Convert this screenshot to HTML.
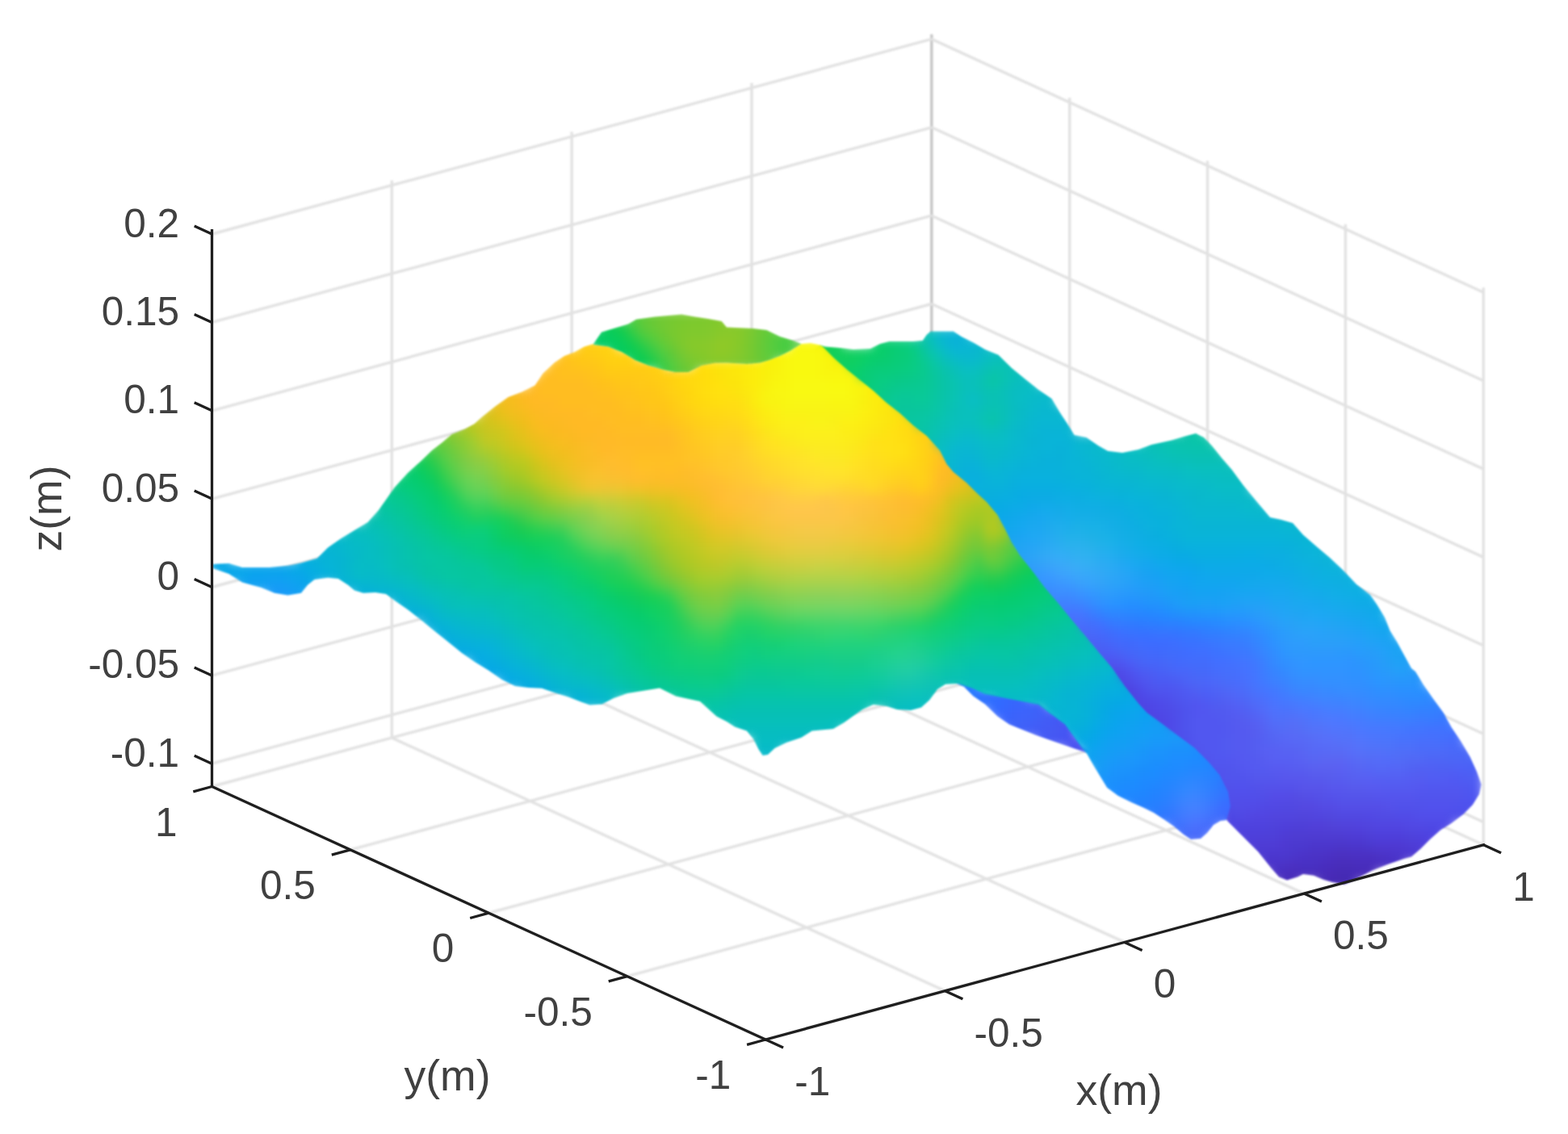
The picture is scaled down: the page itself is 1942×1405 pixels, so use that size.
<!DOCTYPE html>
<html><head><meta charset="utf-8"><title>Surface plot</title>
<style>
html,body{margin:0;padding:0;background:#fff}
body{width:1942px;height:1405px;overflow:hidden}
svg{display:block}
</style></head>
<body>
<svg width="1942" height="1405" viewBox="0 0 1942 1405">
<defs>
<clipPath id="c_back"><path d="M1015.6 427.5L1022.0 429.5L1040.0 431.0L1057.0 433.0L1078.0 432.0L1090.0 426.0L1101.5 423.0L1131.0 423.0L1142.7 422.0L1147.7 414.7L1152.6 410.5L1180.7 410.5L1190.6 417.0L1205.5 424.6L1220.0 433.0L1236.5 439.8L1253.0 456.0L1269.5 469.5L1286.0 482.7L1302.6 494.0L1312.5 510.8L1322.4 525.7L1330.6 539.0L1345.5 542.0L1360.0 552.0L1372.0 558.7L1390.0 561.0L1410.0 557.0L1426.0 551.0L1451.0 545.5L1467.7 540.5L1481.0 537.0L1491.0 542.0L1500.7 552.0L1514.0 568.6L1525.5 581.8L1540.0 601.6L1556.5 621.5L1573.0 641.0L1586.0 643.8L1601.0 648.0L1614.0 662.7L1631.0 677.6L1647.0 691.0L1664.0 707.0L1680.0 724.0L1697.0 737.0L1705.0 748.6L1715.0 765.0L1721.6 781.6L1730.0 795.0L1738.0 809.7L1748.0 828.0L1753.0 832.0L1763.0 848.5L1774.5 865.0L1787.7 883.0L1797.6 901.0L1809.0 918.0L1820.7 937.7L1829.0 956.0L1834.7 972.0L1832.0 984.0L1824.0 997.0L1812.5 1008.7L1797.6 1020.0L1784.0 1028.5L1771.0 1040.0L1759.6 1051.6L1748.0 1061.5L1738.7 1064.0L1718.6 1071.0L1698.5 1079.0L1678.0 1090.0L1665.0 1095.7L1650.0 1093.0L1639.0 1089.7L1627.0 1084.8L1614.0 1083.0L1607.0 1086.4L1594.0 1090.5L1584.0 1086.4L1574.0 1075.0L1566.0 1065.0L1558.0 1055.0L1548.0 1045.0L1538.0 1035.0L1528.0 1025.0L1520.0 1017.0L1490.0 960.0L1400.0 880.0L1300.0 760.0L1230.0 660.0L1150.0 570.0L1050.0 480.0L1000.0 440.0Z"/></clipPath>
<clipPath id="c_under"><path d="M1180.0 845.0L1189.0 845.0L1205.0 851.0L1220.0 858.0L1253.0 864.6L1286.0 871.0L1299.0 881.0L1319.0 895.6L1340.0 925.0L1350.0 931.0L1345.4 932.5L1317.0 922.7L1283.5 911.0L1250.0 897.6L1235.5 887.5L1220.0 872.5L1205.5 862.6L1194.0 851.0Z"/></clipPath>
<clipPath id="c_hill"><path d="M263.0 699.0L283.5 698.0L300.0 703.0L333.7 703.0L356.5 700.8L373.0 697.5L392.8 691.7L406.0 678.5L422.6 667.0L439.0 657.0L455.6 647.0L468.8 632.3L480.4 615.8L488.6 604.0L505.0 586.0L521.6 571.0L535.0 558.0L548.0 548.0L559.6 538.0L576.0 531.6L587.7 525.0L596.5 517.0L613.0 503.8L629.5 492.0L646.0 485.7L662.5 477.4L672.5 462.6L687.0 449.0L699.0 441.0L712.0 436.0L723.7 429.5L735.0 426.0L735.0 427.0L753.4 429.5L770.0 436.0L786.4 446.0L803.0 452.7L819.4 457.6L836.0 461.0L852.5 461.0L869.0 452.7L885.5 449.4L900.0 449.4L925.0 451.0L941.0 449.4L953.0 446.0L966.0 441.0L979.0 434.5L992.5 426.0L1004.0 425.0L1015.6 427.5L1019.0 429.5L1032.0 442.7L1048.6 457.6L1065.0 470.8L1081.6 484.0L1098.0 499.0L1114.7 512.0L1131.0 527.0L1147.7 540.0L1164.0 558.0L1172.5 575.0L1180.7 584.8L1197.0 598.0L1210.0 611.0L1222.0 622.0L1235.5 638.0L1243.0 652.0L1253.0 671.8L1263.0 688.0L1277.8 706.5L1294.0 728.0L1311.0 747.8L1327.0 767.6L1344.0 787.4L1360.0 807.0L1377.0 827.0L1393.0 850.0L1410.0 871.6L1420.5 883.0L1438.5 896.0L1459.0 911.4L1479.7 926.8L1497.8 944.9L1510.6 960.3L1521.0 981.0L1524.0 999.0L1519.0 1016.0L1516.0 1016.5L1511.6 1017.0L1503.0 1022.0L1495.0 1032.0L1487.0 1039.0L1475.0 1040.0L1465.4 1033.6L1453.8 1023.7L1442.0 1015.4L1429.0 1007.0L1415.9 1000.5L1401.0 994.0L1384.5 985.7L1371.0 975.8L1363.0 962.6L1354.8 949.0L1346.5 934.5L1340.0 927.0L1319.0 897.6L1299.0 883.0L1286.0 873.0L1253.0 866.6L1220.0 860.0L1205.0 853.0L1189.0 847.7L1187.0 847.0L1171.0 847.7L1161.0 854.0L1151.0 867.5L1141.0 876.6L1128.0 880.0L1111.0 879.0L1098.0 875.0L1081.6 873.0L1068.4 879.0L1058.5 885.7L1045.0 895.6L1032.0 903.0L1005.7 905.5L992.5 913.7L974.0 920.0L959.5 927.0L951.0 935.0L944.6 936.0L939.6 928.6L933.0 915.4L924.8 905.5L910.0 900.5L900.0 894.0L887.4 887.5L867.0 869.0L837.0 862.4L817.0 852.4L777.0 859.0L760.0 865.0L745.5 872.6L730.6 873.4L720.7 870.0L704.0 863.5L687.7 858.5L671.0 852.7L654.7 852.0L638.0 850.0L621.6 842.0L605.0 830.5L588.6 820.5L572.0 809.0L555.6 795.8L539.0 782.6L522.6 769.0L506.0 756.0L489.5 744.6L478.0 736.0L464.8 734.0L450.0 734.7L439.0 731.4L431.0 724.8L419.0 717.0L406.0 715.7L389.5 718.0L381.0 724.8L373.0 734.7L356.5 737.5L340.0 734.7L323.6 728.0L300.0 721.4L283.5 711.0L263.0 704.0Z"/></clipPath>
<clipPath id="c_crater"><path d="M735.0 426.0L745.0 411.4L761.6 406.4L778.0 401.5L788.0 395.7L811.0 392.4L844.0 389.5L860.7 392.4L877.0 395.0L893.7 398.0L900.0 405.6L933.0 407.0L949.5 409.0L966.0 417.0L982.6 422.0L992.5 426.0L1004.0 425.0L992.5 426.0L979.0 434.5L966.0 441.0L953.0 446.0L941.0 449.4L925.0 451.0L900.0 449.4L885.5 449.4L869.0 452.7L852.5 461.0L836.0 461.0L819.4 457.6L803.0 452.7L786.4 446.0L770.0 436.0L753.4 429.5L735.0 427.0Z"/></clipPath>
<filter id="bl" x="-5%" y="-5%" width="110%" height="110%" color-interpolation-filters="sRGB"><feGaussianBlur stdDeviation="6"/></filter>
<filter id="bs" x="0" y="0" width="1942" height="1405" filterUnits="userSpaceOnUse" color-interpolation-filters="sRGB"><feGaussianBlur stdDeviation="0.8"/></filter>
<filter id="ba" filterUnits="userSpaceOnUse" x="0" y="0" width="1942" height="1405" color-interpolation-filters="sRGB"><feGaussianBlur stdDeviation="0.45"/></filter>
<filter id="bt" filterUnits="userSpaceOnUse" x="0" y="0" width="1942" height="1405" color-interpolation-filters="sRGB"><feGaussianBlur stdDeviation="0.7"/></filter>
<filter id="be" x="-5%" y="-5%" width="110%" height="110%" color-interpolation-filters="sRGB"><feGaussianBlur stdDeviation="1.0"/></filter>
</defs>
<rect width="1942" height="1405" fill="#ffffff"/>
<g id="grid" filter="url(#bs)">
<line x1="262.5" y1="974.5" x2="1153.8" y2="732.9" stroke="#e2e2e2" stroke-width="3.4"/>
<line x1="948.3" y1="1288.0" x2="262.5" y2="974.5" stroke="#e2e2e2" stroke-width="3.4"/>
<line x1="433.9" y1="1052.9" x2="1324.7" y2="811.4" stroke="#e2e2e2" stroke-width="3.4"/>
<line x1="1170.5" y1="1227.7" x2="485.3" y2="914.1" stroke="#e2e2e2" stroke-width="3.4"/>
<line x1="605.4" y1="1131.2" x2="1495.5" y2="889.8" stroke="#e2e2e2" stroke-width="3.4"/>
<line x1="1392.8" y1="1167.4" x2="708.1" y2="853.7" stroke="#e2e2e2" stroke-width="3.4"/>
<line x1="776.8" y1="1209.6" x2="1666.4" y2="968.3" stroke="#e2e2e2" stroke-width="3.4"/>
<line x1="1615.0" y1="1107.1" x2="931.0" y2="793.3" stroke="#e2e2e2" stroke-width="3.4"/>
<line x1="948.3" y1="1288.0" x2="1837.3" y2="1046.8" stroke="#e2e2e2" stroke-width="3.4"/>
<line x1="1837.3" y1="1046.8" x2="1153.8" y2="732.9" stroke="#e2e2e2" stroke-width="3.4"/>
<line x1="485.3" y1="914.1" x2="485.3" y2="223.6" stroke="#e2e2e2" stroke-width="3.4"/>
<line x1="708.1" y1="853.7" x2="708.1" y2="163.2" stroke="#e2e2e2" stroke-width="3.4"/>
<line x1="931.0" y1="793.3" x2="931.0" y2="102.8" stroke="#e2e2e2" stroke-width="3.4"/>
<line x1="1153.8" y1="732.9" x2="1153.8" y2="42.4" stroke="#c6c6c6" stroke-width="3.4"/>
<line x1="1324.7" y1="811.4" x2="1324.7" y2="120.9" stroke="#e2e2e2" stroke-width="3.4"/>
<line x1="1495.5" y1="889.8" x2="1495.5" y2="199.3" stroke="#e2e2e2" stroke-width="3.4"/>
<line x1="1666.4" y1="968.3" x2="1666.4" y2="277.8" stroke="#e2e2e2" stroke-width="3.4"/>
<line x1="1837.3" y1="1046.8" x2="1837.3" y2="356.3" stroke="#e2e2e2" stroke-width="3.4"/>
<line x1="262.5" y1="290.0" x2="1153.8" y2="48.4" stroke="#e2e2e2" stroke-width="3.4"/>
<line x1="1153.8" y1="48.4" x2="1837.3" y2="362.3" stroke="#e2e2e2" stroke-width="3.4"/>
<line x1="262.5" y1="399.4" x2="1153.8" y2="157.8" stroke="#e2e2e2" stroke-width="3.4"/>
<line x1="1153.8" y1="157.8" x2="1837.3" y2="471.7" stroke="#e2e2e2" stroke-width="3.4"/>
<line x1="262.5" y1="508.8" x2="1153.8" y2="267.2" stroke="#e2e2e2" stroke-width="3.4"/>
<line x1="1153.8" y1="267.2" x2="1837.3" y2="581.1" stroke="#e2e2e2" stroke-width="3.4"/>
<line x1="262.5" y1="618.1" x2="1153.8" y2="376.5" stroke="#e2e2e2" stroke-width="3.4"/>
<line x1="1153.8" y1="376.5" x2="1837.3" y2="690.4" stroke="#e2e2e2" stroke-width="3.4"/>
<line x1="262.5" y1="727.5" x2="1153.8" y2="485.9" stroke="#e2e2e2" stroke-width="3.4"/>
<line x1="1153.8" y1="485.9" x2="1837.3" y2="799.8" stroke="#e2e2e2" stroke-width="3.4"/>
<line x1="262.5" y1="836.9" x2="1153.8" y2="595.3" stroke="#e2e2e2" stroke-width="3.4"/>
<line x1="1153.8" y1="595.3" x2="1837.3" y2="909.2" stroke="#e2e2e2" stroke-width="3.4"/>
<line x1="262.5" y1="946.2" x2="1153.8" y2="704.6" stroke="#e2e2e2" stroke-width="3.4"/>
<line x1="1153.8" y1="704.6" x2="1837.3" y2="1018.5" stroke="#e2e2e2" stroke-width="3.4"/>
</g>
<g id="surface">
<g filter="url(#be)">
<g clip-path="url(#c_back)"><g filter="url(#bl)">
<rect x="1140" y="406" width="13" height="13" fill="#09c3b1"/>
<rect x="1152" y="406" width="13" height="13" fill="#09bdc6"/>
<rect x="1164" y="406" width="13" height="13" fill="#09b7d2"/>
<rect x="1176" y="406" width="25" height="13" fill="#09b4d5"/>
<rect x="1008" y="418" width="25" height="13" fill="#15cf57"/>
<rect x="1032" y="418" width="13" height="13" fill="#15cf5a"/>
<rect x="1080" y="418" width="13" height="13" fill="#09cf6c"/>
<rect x="1092" y="418" width="13" height="13" fill="#09cc6f"/>
<rect x="1104" y="418" width="13" height="13" fill="#09cc78"/>
<rect x="1116" y="418" width="13" height="13" fill="#09cc81"/>
<rect x="1128" y="418" width="13" height="13" fill="#09c993"/>
<rect x="1140" y="418" width="13" height="13" fill="#09c3ab"/>
<rect x="1152" y="418" width="13" height="13" fill="#09bdc3"/>
<rect x="1164" y="418" width="13" height="13" fill="#09b7d2"/>
<rect x="1176" y="418" width="13" height="13" fill="#09b1d8"/>
<rect x="1188" y="418" width="13" height="13" fill="#09b4d5"/>
<rect x="1200" y="418" width="13" height="13" fill="#09b7d2"/>
<rect x="1212" y="418" width="13" height="13" fill="#09bacc"/>
<rect x="996" y="430" width="13" height="13" fill="#12cf5a"/>
<rect x="1008" y="430" width="25" height="13" fill="#15cf57"/>
<rect x="1032" y="430" width="13" height="13" fill="#12cf5a"/>
<rect x="1044" y="430" width="13" height="13" fill="#12cf5d"/>
<rect x="1056" y="430" width="13" height="13" fill="#0fcf60"/>
<rect x="1068" y="430" width="13" height="13" fill="#0ccf66"/>
<rect x="1080" y="430" width="13" height="13" fill="#09cf69"/>
<rect x="1092" y="430" width="13" height="13" fill="#09cc6c"/>
<rect x="1104" y="430" width="13" height="13" fill="#09cc75"/>
<rect x="1116" y="430" width="13" height="13" fill="#09cc78"/>
<rect x="1128" y="430" width="13" height="13" fill="#09cc84"/>
<rect x="1140" y="430" width="13" height="13" fill="#09c69f"/>
<rect x="1152" y="430" width="13" height="13" fill="#09c3b4"/>
<rect x="1164" y="430" width="13" height="13" fill="#09bdc6"/>
<rect x="1176" y="430" width="25" height="13" fill="#09b7d2"/>
<rect x="1200" y="430" width="13" height="13" fill="#09b7cf"/>
<rect x="1212" y="430" width="13" height="13" fill="#09bac9"/>
<rect x="1224" y="430" width="13" height="13" fill="#09bdc3"/>
<rect x="1236" y="430" width="13" height="13" fill="#09c0bd"/>
<rect x="996" y="442" width="37" height="13" fill="#12cf5d"/>
<rect x="1032" y="442" width="13" height="13" fill="#12cf60"/>
<rect x="1044" y="442" width="13" height="13" fill="#0fcf60"/>
<rect x="1056" y="442" width="13" height="13" fill="#0fcf63"/>
<rect x="1068" y="442" width="13" height="13" fill="#09cf6c"/>
<rect x="1080" y="442" width="13" height="13" fill="#09cc6f"/>
<rect x="1092" y="442" width="13" height="13" fill="#09cc72"/>
<rect x="1104" y="442" width="13" height="13" fill="#09cc78"/>
<rect x="1116" y="442" width="13" height="13" fill="#09cc7b"/>
<rect x="1128" y="442" width="13" height="13" fill="#09cc84"/>
<rect x="1140" y="442" width="13" height="13" fill="#09c993"/>
<rect x="1152" y="442" width="13" height="13" fill="#09c6a8"/>
<rect x="1164" y="442" width="13" height="13" fill="#09c0b7"/>
<rect x="1176" y="442" width="13" height="13" fill="#09bdc3"/>
<rect x="1188" y="442" width="13" height="13" fill="#09bac9"/>
<rect x="1200" y="442" width="13" height="13" fill="#09bacc"/>
<rect x="1212" y="442" width="13" height="13" fill="#09bdc3"/>
<rect x="1224" y="442" width="13" height="13" fill="#09c0ba"/>
<rect x="1236" y="442" width="13" height="13" fill="#09c0b7"/>
<rect x="1248" y="442" width="13" height="13" fill="#09c0ba"/>
<rect x="1008" y="454" width="37" height="13" fill="#0fcf63"/>
<rect x="1044" y="454" width="13" height="13" fill="#0ccf66"/>
<rect x="1056" y="454" width="13" height="13" fill="#09cf6c"/>
<rect x="1068" y="454" width="13" height="13" fill="#09cc75"/>
<rect x="1080" y="454" width="25" height="13" fill="#09cc7b"/>
<rect x="1104" y="454" width="13" height="13" fill="#09cc7e"/>
<rect x="1116" y="454" width="13" height="13" fill="#09cc81"/>
<rect x="1128" y="454" width="13" height="13" fill="#09cc87"/>
<rect x="1140" y="454" width="13" height="13" fill="#09c990"/>
<rect x="1152" y="454" width="13" height="13" fill="#09c69f"/>
<rect x="1164" y="454" width="13" height="13" fill="#09c3ab"/>
<rect x="1176" y="454" width="13" height="13" fill="#09c0b7"/>
<rect x="1188" y="454" width="25" height="13" fill="#09c0c0"/>
<rect x="1212" y="454" width="13" height="13" fill="#09c0b7"/>
<rect x="1224" y="454" width="13" height="13" fill="#09c3ae"/>
<rect x="1236" y="454" width="13" height="13" fill="#09c3b1"/>
<rect x="1248" y="454" width="13" height="13" fill="#09c0b7"/>
<rect x="1260" y="454" width="13" height="13" fill="#09c0bd"/>
<rect x="1032" y="466" width="13" height="13" fill="#09cf69"/>
<rect x="1044" y="466" width="13" height="13" fill="#09cf6c"/>
<rect x="1056" y="466" width="13" height="13" fill="#09cc72"/>
<rect x="1068" y="466" width="13" height="13" fill="#09cc78"/>
<rect x="1080" y="466" width="13" height="13" fill="#09cc81"/>
<rect x="1092" y="466" width="13" height="13" fill="#09cc84"/>
<rect x="1104" y="466" width="13" height="13" fill="#09c987"/>
<rect x="1116" y="466" width="13" height="13" fill="#09c98a"/>
<rect x="1128" y="466" width="13" height="13" fill="#09c98d"/>
<rect x="1140" y="466" width="13" height="13" fill="#09c993"/>
<rect x="1152" y="466" width="13" height="13" fill="#09c69c"/>
<rect x="1164" y="466" width="13" height="13" fill="#09c3a8"/>
<rect x="1176" y="466" width="13" height="13" fill="#09c3b1"/>
<rect x="1188" y="466" width="25" height="13" fill="#09c0ba"/>
<rect x="1212" y="466" width="13" height="13" fill="#09c3b1"/>
<rect x="1224" y="466" width="13" height="13" fill="#09c6a5"/>
<rect x="1236" y="466" width="13" height="13" fill="#09c3b1"/>
<rect x="1248" y="466" width="13" height="13" fill="#09c0ba"/>
<rect x="1260" y="466" width="13" height="13" fill="#09bdc0"/>
<rect x="1272" y="466" width="13" height="13" fill="#09bdc3"/>
<rect x="1044" y="478" width="13" height="13" fill="#09cc72"/>
<rect x="1056" y="478" width="13" height="13" fill="#09cc75"/>
<rect x="1068" y="478" width="13" height="13" fill="#09cc7b"/>
<rect x="1080" y="478" width="13" height="13" fill="#09cc84"/>
<rect x="1092" y="478" width="13" height="13" fill="#09c98a"/>
<rect x="1104" y="478" width="13" height="13" fill="#09c990"/>
<rect x="1116" y="478" width="25" height="13" fill="#09c993"/>
<rect x="1140" y="478" width="13" height="13" fill="#09c996"/>
<rect x="1152" y="478" width="13" height="13" fill="#09c69f"/>
<rect x="1164" y="478" width="13" height="13" fill="#09c3a8"/>
<rect x="1176" y="478" width="13" height="13" fill="#09c3b1"/>
<rect x="1188" y="478" width="13" height="13" fill="#09c0ba"/>
<rect x="1200" y="478" width="13" height="13" fill="#09c0bd"/>
<rect x="1212" y="478" width="13" height="13" fill="#09c0b4"/>
<rect x="1224" y="478" width="13" height="13" fill="#09c3b1"/>
<rect x="1236" y="478" width="13" height="13" fill="#09c0b7"/>
<rect x="1248" y="478" width="13" height="13" fill="#09bdc0"/>
<rect x="1260" y="478" width="13" height="13" fill="#09bdc3"/>
<rect x="1272" y="478" width="13" height="13" fill="#09bdc6"/>
<rect x="1284" y="478" width="25" height="13" fill="#09bac9"/>
<rect x="1056" y="490" width="13" height="13" fill="#09cc7b"/>
<rect x="1068" y="490" width="13" height="13" fill="#09cc81"/>
<rect x="1080" y="490" width="13" height="13" fill="#09c98a"/>
<rect x="1092" y="490" width="13" height="13" fill="#09c990"/>
<rect x="1104" y="490" width="13" height="13" fill="#09c999"/>
<rect x="1116" y="490" width="13" height="13" fill="#09c699"/>
<rect x="1128" y="490" width="25" height="13" fill="#09c999"/>
<rect x="1152" y="490" width="13" height="13" fill="#09c6a2"/>
<rect x="1164" y="490" width="13" height="13" fill="#09c3ab"/>
<rect x="1176" y="490" width="13" height="13" fill="#09c3b4"/>
<rect x="1188" y="490" width="13" height="13" fill="#09c0bd"/>
<rect x="1200" y="490" width="13" height="13" fill="#09bdc6"/>
<rect x="1212" y="490" width="13" height="13" fill="#09c0ba"/>
<rect x="1224" y="490" width="13" height="13" fill="#09c0b4"/>
<rect x="1236" y="490" width="13" height="13" fill="#09c0b7"/>
<rect x="1248" y="490" width="13" height="13" fill="#09bdc0"/>
<rect x="1260" y="490" width="13" height="13" fill="#09bdc6"/>
<rect x="1272" y="490" width="13" height="13" fill="#09bac9"/>
<rect x="1284" y="490" width="25" height="13" fill="#09bacc"/>
<rect x="1068" y="502" width="13" height="13" fill="#09c987"/>
<rect x="1080" y="502" width="13" height="13" fill="#09c98d"/>
<rect x="1092" y="502" width="13" height="13" fill="#09c993"/>
<rect x="1104" y="502" width="13" height="13" fill="#09c699"/>
<rect x="1116" y="502" width="25" height="13" fill="#09c69c"/>
<rect x="1140" y="502" width="13" height="13" fill="#09c69f"/>
<rect x="1152" y="502" width="13" height="13" fill="#09c6a5"/>
<rect x="1164" y="502" width="13" height="13" fill="#09c3ae"/>
<rect x="1176" y="502" width="13" height="13" fill="#09c0b7"/>
<rect x="1188" y="502" width="25" height="13" fill="#09c0bd"/>
<rect x="1212" y="502" width="13" height="13" fill="#09c0b7"/>
<rect x="1224" y="502" width="13" height="13" fill="#09c3b1"/>
<rect x="1236" y="502" width="13" height="13" fill="#09c0b7"/>
<rect x="1248" y="502" width="13" height="13" fill="#09bdc0"/>
<rect x="1260" y="502" width="13" height="13" fill="#09bac6"/>
<rect x="1272" y="502" width="13" height="13" fill="#09bacc"/>
<rect x="1284" y="502" width="37" height="13" fill="#09b7cf"/>
<rect x="1080" y="514" width="13" height="13" fill="#09c993"/>
<rect x="1092" y="514" width="13" height="13" fill="#09c996"/>
<rect x="1104" y="514" width="13" height="13" fill="#09c69c"/>
<rect x="1116" y="514" width="13" height="13" fill="#09c69f"/>
<rect x="1128" y="514" width="13" height="13" fill="#09c6a2"/>
<rect x="1140" y="514" width="13" height="13" fill="#09c6a5"/>
<rect x="1152" y="514" width="13" height="13" fill="#09c3ab"/>
<rect x="1164" y="514" width="13" height="13" fill="#09c3b4"/>
<rect x="1176" y="514" width="13" height="13" fill="#09c0ba"/>
<rect x="1188" y="514" width="25" height="13" fill="#09c0bd"/>
<rect x="1212" y="514" width="13" height="13" fill="#09c3b4"/>
<rect x="1224" y="514" width="13" height="13" fill="#09c3ab"/>
<rect x="1236" y="514" width="13" height="13" fill="#09c0b7"/>
<rect x="1248" y="514" width="13" height="13" fill="#09bdc3"/>
<rect x="1260" y="514" width="13" height="13" fill="#09bac9"/>
<rect x="1272" y="514" width="13" height="13" fill="#09b7cf"/>
<rect x="1284" y="514" width="37" height="13" fill="#09b7d2"/>
<rect x="1320" y="514" width="13" height="13" fill="#09b7cf"/>
<rect x="1092" y="526" width="13" height="13" fill="#09c699"/>
<rect x="1104" y="526" width="25" height="13" fill="#09c69f"/>
<rect x="1128" y="526" width="13" height="13" fill="#09c6a2"/>
<rect x="1140" y="526" width="13" height="13" fill="#09c3a8"/>
<rect x="1152" y="526" width="13" height="13" fill="#09c3b1"/>
<rect x="1164" y="526" width="13" height="13" fill="#09c0b7"/>
<rect x="1176" y="526" width="13" height="13" fill="#09c0c0"/>
<rect x="1188" y="526" width="25" height="13" fill="#09bdc3"/>
<rect x="1212" y="526" width="13" height="13" fill="#09c0bd"/>
<rect x="1224" y="526" width="13" height="13" fill="#09c0ba"/>
<rect x="1236" y="526" width="13" height="13" fill="#09bdc0"/>
<rect x="1248" y="526" width="13" height="13" fill="#09bac9"/>
<rect x="1260" y="526" width="13" height="13" fill="#09b7cc"/>
<rect x="1272" y="526" width="13" height="13" fill="#09b7d2"/>
<rect x="1284" y="526" width="37" height="13" fill="#09b4d5"/>
<rect x="1320" y="526" width="13" height="13" fill="#09b7d2"/>
<rect x="1464" y="526" width="13" height="13" fill="#09c3a8"/>
<rect x="1476" y="526" width="13" height="13" fill="#09c6a8"/>
<rect x="1104" y="538" width="13" height="13" fill="#09c6a2"/>
<rect x="1116" y="538" width="25" height="13" fill="#09c6a5"/>
<rect x="1140" y="538" width="13" height="13" fill="#09c3ab"/>
<rect x="1152" y="538" width="13" height="13" fill="#09c0b7"/>
<rect x="1164" y="538" width="13" height="13" fill="#09bdc0"/>
<rect x="1176" y="538" width="13" height="13" fill="#09bdc6"/>
<rect x="1188" y="538" width="25" height="13" fill="#09bacc"/>
<rect x="1212" y="538" width="13" height="13" fill="#09bdc6"/>
<rect x="1224" y="538" width="13" height="13" fill="#09bdc3"/>
<rect x="1236" y="538" width="13" height="13" fill="#09bdc6"/>
<rect x="1248" y="538" width="13" height="13" fill="#09bacc"/>
<rect x="1260" y="538" width="13" height="13" fill="#09b7cf"/>
<rect x="1272" y="538" width="13" height="13" fill="#09b4d2"/>
<rect x="1284" y="538" width="13" height="13" fill="#09b4d5"/>
<rect x="1296" y="538" width="25" height="13" fill="#09b4d8"/>
<rect x="1320" y="538" width="13" height="13" fill="#09b4d5"/>
<rect x="1332" y="538" width="13" height="13" fill="#09b7cf"/>
<rect x="1344" y="538" width="13" height="13" fill="#09b7cc"/>
<rect x="1356" y="538" width="13" height="13" fill="#09bac9"/>
<rect x="1416" y="538" width="13" height="13" fill="#09c0b7"/>
<rect x="1428" y="538" width="13" height="13" fill="#09c3b4"/>
<rect x="1440" y="538" width="13" height="13" fill="#09c3b1"/>
<rect x="1452" y="538" width="25" height="13" fill="#09c3ab"/>
<rect x="1476" y="538" width="13" height="13" fill="#09c6a8"/>
<rect x="1488" y="538" width="13" height="13" fill="#09c3a8"/>
<rect x="1128" y="550" width="13" height="13" fill="#09c3ab"/>
<rect x="1140" y="550" width="13" height="13" fill="#09c3b1"/>
<rect x="1152" y="550" width="13" height="13" fill="#09c0bd"/>
<rect x="1164" y="550" width="13" height="13" fill="#09bdc6"/>
<rect x="1176" y="550" width="13" height="13" fill="#09b7cf"/>
<rect x="1188" y="550" width="13" height="13" fill="#09b7d2"/>
<rect x="1200" y="550" width="13" height="13" fill="#09b7cf"/>
<rect x="1212" y="550" width="13" height="13" fill="#09bacc"/>
<rect x="1224" y="550" width="25" height="13" fill="#09bac9"/>
<rect x="1248" y="550" width="13" height="13" fill="#09b7cf"/>
<rect x="1260" y="550" width="13" height="13" fill="#09b7d2"/>
<rect x="1272" y="550" width="13" height="13" fill="#09b4d5"/>
<rect x="1284" y="550" width="25" height="13" fill="#09b4d8"/>
<rect x="1308" y="550" width="13" height="13" fill="#09b1d8"/>
<rect x="1320" y="550" width="13" height="13" fill="#09b4d8"/>
<rect x="1332" y="550" width="13" height="13" fill="#09b7d2"/>
<rect x="1344" y="550" width="13" height="13" fill="#09b7cf"/>
<rect x="1356" y="550" width="13" height="13" fill="#09bacc"/>
<rect x="1368" y="550" width="13" height="13" fill="#09bac9"/>
<rect x="1380" y="550" width="13" height="13" fill="#09bdc6"/>
<rect x="1392" y="550" width="13" height="13" fill="#09bdc3"/>
<rect x="1404" y="550" width="13" height="13" fill="#09c0c0"/>
<rect x="1416" y="550" width="13" height="13" fill="#09c0ba"/>
<rect x="1428" y="550" width="13" height="13" fill="#09c0b7"/>
<rect x="1440" y="550" width="13" height="13" fill="#09c3b4"/>
<rect x="1452" y="550" width="13" height="13" fill="#09c3b1"/>
<rect x="1464" y="550" width="49" height="13" fill="#09c3ae"/>
<rect x="1140" y="562" width="13" height="13" fill="#09c0ba"/>
<rect x="1152" y="562" width="13" height="13" fill="#09bdc3"/>
<rect x="1164" y="562" width="13" height="13" fill="#09bacc"/>
<rect x="1176" y="562" width="13" height="13" fill="#09b7d2"/>
<rect x="1188" y="562" width="25" height="13" fill="#09b4d5"/>
<rect x="1212" y="562" width="13" height="13" fill="#09b7cf"/>
<rect x="1224" y="562" width="13" height="13" fill="#09bac9"/>
<rect x="1236" y="562" width="13" height="13" fill="#09b7cf"/>
<rect x="1248" y="562" width="13" height="13" fill="#09b7d2"/>
<rect x="1260" y="562" width="13" height="13" fill="#09b4d5"/>
<rect x="1272" y="562" width="13" height="13" fill="#09b4d8"/>
<rect x="1284" y="562" width="13" height="13" fill="#09b1d8"/>
<rect x="1296" y="562" width="13" height="13" fill="#09b1db"/>
<rect x="1308" y="562" width="13" height="13" fill="#09b1d8"/>
<rect x="1320" y="562" width="13" height="13" fill="#09b4d8"/>
<rect x="1332" y="562" width="13" height="13" fill="#09b4d5"/>
<rect x="1344" y="562" width="13" height="13" fill="#09b7d2"/>
<rect x="1356" y="562" width="13" height="13" fill="#09b7cf"/>
<rect x="1368" y="562" width="13" height="13" fill="#09bacc"/>
<rect x="1380" y="562" width="13" height="13" fill="#09bac9"/>
<rect x="1392" y="562" width="13" height="13" fill="#09bdc6"/>
<rect x="1404" y="562" width="13" height="13" fill="#09bdc3"/>
<rect x="1416" y="562" width="13" height="13" fill="#09bdc0"/>
<rect x="1428" y="562" width="13" height="13" fill="#09c0bd"/>
<rect x="1440" y="562" width="13" height="13" fill="#09c0ba"/>
<rect x="1452" y="562" width="25" height="13" fill="#09c0b7"/>
<rect x="1476" y="562" width="37" height="13" fill="#09c0b4"/>
<rect x="1512" y="562" width="13" height="13" fill="#09c0b7"/>
<rect x="1152" y="574" width="13" height="13" fill="#09bdc6"/>
<rect x="1164" y="574" width="13" height="13" fill="#09b7cc"/>
<rect x="1176" y="574" width="13" height="13" fill="#09b4d5"/>
<rect x="1188" y="574" width="13" height="13" fill="#09b1d8"/>
<rect x="1200" y="574" width="13" height="13" fill="#09b1db"/>
<rect x="1212" y="574" width="13" height="13" fill="#09b4d5"/>
<rect x="1224" y="574" width="13" height="13" fill="#09b7d2"/>
<rect x="1236" y="574" width="13" height="13" fill="#09b4d5"/>
<rect x="1248" y="574" width="13" height="13" fill="#09b4d8"/>
<rect x="1260" y="574" width="13" height="13" fill="#09b1d8"/>
<rect x="1272" y="574" width="49" height="13" fill="#09b1db"/>
<rect x="1320" y="574" width="25" height="13" fill="#09b4d8"/>
<rect x="1344" y="574" width="13" height="13" fill="#09b4d5"/>
<rect x="1356" y="574" width="13" height="13" fill="#09b7d2"/>
<rect x="1368" y="574" width="13" height="13" fill="#09b7cf"/>
<rect x="1380" y="574" width="13" height="13" fill="#09bacc"/>
<rect x="1392" y="574" width="25" height="13" fill="#09bac9"/>
<rect x="1416" y="574" width="13" height="13" fill="#09bdc6"/>
<rect x="1428" y="574" width="25" height="13" fill="#09bdc3"/>
<rect x="1452" y="574" width="13" height="13" fill="#09bdc0"/>
<rect x="1464" y="574" width="13" height="13" fill="#09c0c0"/>
<rect x="1476" y="574" width="61" height="13" fill="#09c0bd"/>
<rect x="1164" y="586" width="13" height="13" fill="#09b7cf"/>
<rect x="1176" y="586" width="13" height="13" fill="#09b4d2"/>
<rect x="1188" y="586" width="13" height="13" fill="#09b1db"/>
<rect x="1200" y="586" width="13" height="13" fill="#09aede"/>
<rect x="1212" y="586" width="13" height="13" fill="#09b1db"/>
<rect x="1224" y="586" width="25" height="13" fill="#09b4d8"/>
<rect x="1248" y="586" width="13" height="13" fill="#09b1db"/>
<rect x="1260" y="586" width="49" height="13" fill="#09b1de"/>
<rect x="1308" y="586" width="25" height="13" fill="#09b1db"/>
<rect x="1332" y="586" width="25" height="13" fill="#09b4d8"/>
<rect x="1356" y="586" width="13" height="13" fill="#09b4d5"/>
<rect x="1368" y="586" width="25" height="13" fill="#09b7d2"/>
<rect x="1392" y="586" width="25" height="13" fill="#09b7cf"/>
<rect x="1416" y="586" width="25" height="13" fill="#09bacc"/>
<rect x="1440" y="586" width="25" height="13" fill="#09bac9"/>
<rect x="1464" y="586" width="25" height="13" fill="#09bdc6"/>
<rect x="1488" y="586" width="25" height="13" fill="#09bdc3"/>
<rect x="1512" y="586" width="37" height="13" fill="#09bdc0"/>
<rect x="1164" y="598" width="13" height="13" fill="#09b7cf"/>
<rect x="1176" y="598" width="13" height="13" fill="#09b4d5"/>
<rect x="1188" y="598" width="13" height="13" fill="#09b1db"/>
<rect x="1200" y="598" width="13" height="13" fill="#09b1de"/>
<rect x="1212" y="598" width="37" height="13" fill="#09b1db"/>
<rect x="1248" y="598" width="13" height="13" fill="#09aede"/>
<rect x="1260" y="598" width="61" height="13" fill="#09aee1"/>
<rect x="1320" y="598" width="25" height="13" fill="#09b1de"/>
<rect x="1344" y="598" width="13" height="13" fill="#09b1db"/>
<rect x="1356" y="598" width="25" height="13" fill="#09b4d8"/>
<rect x="1380" y="598" width="25" height="13" fill="#09b4d5"/>
<rect x="1404" y="598" width="25" height="13" fill="#09b7d2"/>
<rect x="1428" y="598" width="25" height="13" fill="#09b7cf"/>
<rect x="1452" y="598" width="25" height="13" fill="#09bacc"/>
<rect x="1476" y="598" width="25" height="13" fill="#09bac9"/>
<rect x="1500" y="598" width="49" height="13" fill="#09bdc6"/>
<rect x="1176" y="610" width="13" height="13" fill="#09b4d8"/>
<rect x="1188" y="610" width="13" height="13" fill="#09b1db"/>
<rect x="1200" y="610" width="37" height="13" fill="#09aede"/>
<rect x="1236" y="610" width="25" height="13" fill="#09aee1"/>
<rect x="1260" y="610" width="13" height="13" fill="#09abe4"/>
<rect x="1272" y="610" width="37" height="13" fill="#0cabe4"/>
<rect x="1308" y="610" width="25" height="13" fill="#0caee4"/>
<rect x="1332" y="610" width="13" height="13" fill="#0caee1"/>
<rect x="1344" y="610" width="13" height="13" fill="#0cb1e1"/>
<rect x="1356" y="610" width="25" height="13" fill="#0cb1de"/>
<rect x="1380" y="610" width="13" height="13" fill="#09b1db"/>
<rect x="1392" y="610" width="13" height="13" fill="#09b4db"/>
<rect x="1404" y="610" width="25" height="13" fill="#09b4d8"/>
<rect x="1428" y="610" width="13" height="13" fill="#09b4d5"/>
<rect x="1440" y="610" width="13" height="13" fill="#09b4d2"/>
<rect x="1452" y="610" width="13" height="13" fill="#09b7d2"/>
<rect x="1464" y="610" width="13" height="13" fill="#09b7cf"/>
<rect x="1476" y="610" width="13" height="13" fill="#09b7cc"/>
<rect x="1488" y="610" width="25" height="13" fill="#09bacc"/>
<rect x="1512" y="610" width="49" height="13" fill="#09bac9"/>
<rect x="1188" y="622" width="13" height="13" fill="#09b1de"/>
<rect x="1200" y="622" width="25" height="13" fill="#09aee1"/>
<rect x="1224" y="622" width="25" height="13" fill="#09abe4"/>
<rect x="1248" y="622" width="25" height="13" fill="#0cabe7"/>
<rect x="1272" y="622" width="13" height="13" fill="#0fa8ea"/>
<rect x="1284" y="622" width="25" height="13" fill="#12abea"/>
<rect x="1308" y="622" width="13" height="13" fill="#12abe7"/>
<rect x="1320" y="622" width="13" height="13" fill="#12aee7"/>
<rect x="1332" y="622" width="37" height="13" fill="#0faee4"/>
<rect x="1368" y="622" width="25" height="13" fill="#0caee1"/>
<rect x="1392" y="622" width="13" height="13" fill="#0cb1de"/>
<rect x="1404" y="622" width="13" height="13" fill="#09b1de"/>
<rect x="1416" y="622" width="13" height="13" fill="#09b1db"/>
<rect x="1428" y="622" width="25" height="13" fill="#09b4d8"/>
<rect x="1452" y="622" width="13" height="13" fill="#09b4d5"/>
<rect x="1464" y="622" width="13" height="13" fill="#09b7d2"/>
<rect x="1476" y="622" width="61" height="13" fill="#09b7cf"/>
<rect x="1536" y="622" width="37" height="13" fill="#09bacc"/>
<rect x="1200" y="634" width="25" height="13" fill="#09abe4"/>
<rect x="1224" y="634" width="13" height="13" fill="#0cabe7"/>
<rect x="1236" y="634" width="13" height="13" fill="#0ca8ea"/>
<rect x="1248" y="634" width="13" height="13" fill="#0fa8ea"/>
<rect x="1260" y="634" width="13" height="13" fill="#12a8ed"/>
<rect x="1272" y="634" width="13" height="13" fill="#15a8ed"/>
<rect x="1284" y="634" width="13" height="13" fill="#18a8f0"/>
<rect x="1296" y="634" width="13" height="13" fill="#18abed"/>
<rect x="1308" y="634" width="13" height="13" fill="#18abea"/>
<rect x="1320" y="634" width="13" height="13" fill="#15aeea"/>
<rect x="1332" y="634" width="25" height="13" fill="#15aee7"/>
<rect x="1356" y="634" width="25" height="13" fill="#12aee4"/>
<rect x="1380" y="634" width="13" height="13" fill="#0faee4"/>
<rect x="1392" y="634" width="13" height="13" fill="#0caee1"/>
<rect x="1404" y="634" width="13" height="13" fill="#0cb1de"/>
<rect x="1416" y="634" width="13" height="13" fill="#09b1de"/>
<rect x="1428" y="634" width="25" height="13" fill="#09b1db"/>
<rect x="1452" y="634" width="13" height="13" fill="#09b4d8"/>
<rect x="1464" y="634" width="13" height="13" fill="#09b4d5"/>
<rect x="1476" y="634" width="73" height="13" fill="#09b7d2"/>
<rect x="1548" y="634" width="61" height="13" fill="#09b7cf"/>
<rect x="1212" y="646" width="13" height="13" fill="#0ca8ea"/>
<rect x="1224" y="646" width="13" height="13" fill="#0fa8ea"/>
<rect x="1236" y="646" width="13" height="13" fill="#0fa8ed"/>
<rect x="1248" y="646" width="13" height="13" fill="#12a8ed"/>
<rect x="1260" y="646" width="13" height="13" fill="#15a8f0"/>
<rect x="1272" y="646" width="25" height="13" fill="#1ba8f0"/>
<rect x="1296" y="646" width="13" height="13" fill="#1eabed"/>
<rect x="1308" y="646" width="13" height="13" fill="#1eaeed"/>
<rect x="1320" y="646" width="13" height="13" fill="#1baeea"/>
<rect x="1332" y="646" width="13" height="13" fill="#1bb1e7"/>
<rect x="1344" y="646" width="25" height="13" fill="#18b1e7"/>
<rect x="1368" y="646" width="13" height="13" fill="#15aee7"/>
<rect x="1380" y="646" width="13" height="13" fill="#12aee4"/>
<rect x="1392" y="646" width="13" height="13" fill="#0faee4"/>
<rect x="1404" y="646" width="13" height="13" fill="#0caee1"/>
<rect x="1416" y="646" width="13" height="13" fill="#0cb1de"/>
<rect x="1428" y="646" width="13" height="13" fill="#09b1de"/>
<rect x="1440" y="646" width="13" height="13" fill="#09b1db"/>
<rect x="1452" y="646" width="25" height="13" fill="#09b4d8"/>
<rect x="1476" y="646" width="109" height="13" fill="#09b4d5"/>
<rect x="1584" y="646" width="37" height="13" fill="#09b7d2"/>
<rect x="1224" y="658" width="13" height="13" fill="#12a5f0"/>
<rect x="1236" y="658" width="13" height="13" fill="#15a5f0"/>
<rect x="1248" y="658" width="13" height="13" fill="#18a5f0"/>
<rect x="1260" y="658" width="13" height="13" fill="#1ba5f3"/>
<rect x="1272" y="658" width="13" height="13" fill="#1ea8f3"/>
<rect x="1284" y="658" width="13" height="13" fill="#21a8f3"/>
<rect x="1296" y="658" width="13" height="13" fill="#24abf0"/>
<rect x="1308" y="658" width="13" height="13" fill="#24aeed"/>
<rect x="1320" y="658" width="25" height="13" fill="#21b1ea"/>
<rect x="1344" y="658" width="13" height="13" fill="#1eb1e7"/>
<rect x="1356" y="658" width="13" height="13" fill="#1bb1e7"/>
<rect x="1368" y="658" width="13" height="13" fill="#18b1e7"/>
<rect x="1380" y="658" width="13" height="13" fill="#15aee7"/>
<rect x="1392" y="658" width="13" height="13" fill="#12aee4"/>
<rect x="1404" y="658" width="13" height="13" fill="#0faee4"/>
<rect x="1416" y="658" width="13" height="13" fill="#0caee1"/>
<rect x="1428" y="658" width="13" height="13" fill="#09aede"/>
<rect x="1440" y="658" width="13" height="13" fill="#09b1de"/>
<rect x="1452" y="658" width="13" height="13" fill="#09b1db"/>
<rect x="1464" y="658" width="133" height="13" fill="#09b4d8"/>
<rect x="1596" y="658" width="25" height="13" fill="#09b4d5"/>
<rect x="1620" y="658" width="13" height="13" fill="#09b7d5"/>
<rect x="1236" y="670" width="13" height="13" fill="#18a2f3"/>
<rect x="1248" y="670" width="13" height="13" fill="#1ea5f3"/>
<rect x="1260" y="670" width="13" height="13" fill="#21a5f3"/>
<rect x="1272" y="670" width="13" height="13" fill="#24a5f6"/>
<rect x="1284" y="670" width="13" height="13" fill="#27a8f3"/>
<rect x="1296" y="670" width="13" height="13" fill="#2aabf3"/>
<rect x="1308" y="670" width="13" height="13" fill="#2aaef0"/>
<rect x="1320" y="670" width="25" height="13" fill="#2ab1ed"/>
<rect x="1344" y="670" width="13" height="13" fill="#27b1ea"/>
<rect x="1356" y="670" width="13" height="13" fill="#21b1ea"/>
<rect x="1368" y="670" width="13" height="13" fill="#1eb1ea"/>
<rect x="1380" y="670" width="13" height="13" fill="#18aeea"/>
<rect x="1392" y="670" width="13" height="13" fill="#15aee7"/>
<rect x="1404" y="670" width="13" height="13" fill="#0faee7"/>
<rect x="1416" y="670" width="25" height="13" fill="#0caee4"/>
<rect x="1440" y="670" width="13" height="13" fill="#09aee1"/>
<rect x="1452" y="670" width="13" height="13" fill="#09aede"/>
<rect x="1464" y="670" width="121" height="13" fill="#09b1de"/>
<rect x="1584" y="670" width="25" height="13" fill="#09b1db"/>
<rect x="1608" y="670" width="25" height="13" fill="#09b4d8"/>
<rect x="1632" y="670" width="13" height="13" fill="#09b4d5"/>
<rect x="1236" y="682" width="13" height="13" fill="#1ea2f6"/>
<rect x="1248" y="682" width="13" height="13" fill="#21a2f6"/>
<rect x="1260" y="682" width="13" height="13" fill="#27a2f6"/>
<rect x="1272" y="682" width="13" height="13" fill="#2aa5f6"/>
<rect x="1284" y="682" width="13" height="13" fill="#30a8f6"/>
<rect x="1296" y="682" width="13" height="13" fill="#33abf6"/>
<rect x="1308" y="682" width="13" height="13" fill="#33aef6"/>
<rect x="1320" y="682" width="13" height="13" fill="#30aef3"/>
<rect x="1332" y="682" width="13" height="13" fill="#30b1f0"/>
<rect x="1344" y="682" width="13" height="13" fill="#2db1f0"/>
<rect x="1356" y="682" width="13" height="13" fill="#27aef0"/>
<rect x="1368" y="682" width="13" height="13" fill="#24aef0"/>
<rect x="1380" y="682" width="13" height="13" fill="#1eabed"/>
<rect x="1392" y="682" width="13" height="13" fill="#18abed"/>
<rect x="1404" y="682" width="13" height="13" fill="#15abea"/>
<rect x="1416" y="682" width="13" height="13" fill="#12abea"/>
<rect x="1428" y="682" width="25" height="13" fill="#0cabe7"/>
<rect x="1452" y="682" width="25" height="13" fill="#09abe4"/>
<rect x="1476" y="682" width="61" height="13" fill="#09aee1"/>
<rect x="1536" y="682" width="25" height="13" fill="#09aee4"/>
<rect x="1560" y="682" width="37" height="13" fill="#0caee1"/>
<rect x="1596" y="682" width="13" height="13" fill="#0cb1de"/>
<rect x="1608" y="682" width="13" height="13" fill="#0cb1db"/>
<rect x="1620" y="682" width="13" height="13" fill="#0cb4db"/>
<rect x="1632" y="682" width="13" height="13" fill="#0cb4d8"/>
<rect x="1644" y="682" width="13" height="13" fill="#09b4d8"/>
<rect x="1248" y="694" width="13" height="13" fill="#279cf9"/>
<rect x="1260" y="694" width="13" height="13" fill="#2a9ff9"/>
<rect x="1272" y="694" width="13" height="13" fill="#309ff9"/>
<rect x="1284" y="694" width="13" height="13" fill="#33a2f9"/>
<rect x="1296" y="694" width="13" height="13" fill="#39a5f9"/>
<rect x="1308" y="694" width="13" height="13" fill="#39a8f9"/>
<rect x="1320" y="694" width="13" height="13" fill="#39abf6"/>
<rect x="1332" y="694" width="13" height="13" fill="#36aef6"/>
<rect x="1344" y="694" width="13" height="13" fill="#33aef3"/>
<rect x="1356" y="694" width="13" height="13" fill="#2dabf3"/>
<rect x="1368" y="694" width="13" height="13" fill="#2aabf3"/>
<rect x="1380" y="694" width="13" height="13" fill="#24a8f3"/>
<rect x="1392" y="694" width="13" height="13" fill="#1ea8f3"/>
<rect x="1404" y="694" width="13" height="13" fill="#18a8f0"/>
<rect x="1416" y="694" width="13" height="13" fill="#15a5f0"/>
<rect x="1428" y="694" width="13" height="13" fill="#12a8ed"/>
<rect x="1440" y="694" width="13" height="13" fill="#0fa8ed"/>
<rect x="1452" y="694" width="25" height="13" fill="#0ca8ea"/>
<rect x="1476" y="694" width="13" height="13" fill="#0ca8e7"/>
<rect x="1488" y="694" width="85" height="13" fill="#0cabe7"/>
<rect x="1572" y="694" width="13" height="13" fill="#0cabe4"/>
<rect x="1584" y="694" width="13" height="13" fill="#0caee4"/>
<rect x="1596" y="694" width="13" height="13" fill="#0caee1"/>
<rect x="1608" y="694" width="13" height="13" fill="#0cb1e1"/>
<rect x="1620" y="694" width="13" height="13" fill="#0cb1de"/>
<rect x="1632" y="694" width="13" height="13" fill="#0cb1db"/>
<rect x="1644" y="694" width="25" height="13" fill="#0cb4db"/>
<rect x="1260" y="706" width="13" height="13" fill="#2a99fc"/>
<rect x="1272" y="706" width="13" height="13" fill="#3099fc"/>
<rect x="1284" y="706" width="13" height="13" fill="#3699ff"/>
<rect x="1296" y="706" width="13" height="13" fill="#399cff"/>
<rect x="1308" y="706" width="13" height="13" fill="#3ca2fc"/>
<rect x="1320" y="706" width="13" height="13" fill="#3ca5fc"/>
<rect x="1332" y="706" width="13" height="13" fill="#39a8f9"/>
<rect x="1344" y="706" width="13" height="13" fill="#36a8f9"/>
<rect x="1356" y="706" width="13" height="13" fill="#33a8f6"/>
<rect x="1368" y="706" width="13" height="13" fill="#2da8f6"/>
<rect x="1380" y="706" width="13" height="13" fill="#2aa5f6"/>
<rect x="1392" y="706" width="13" height="13" fill="#24a5f6"/>
<rect x="1404" y="706" width="13" height="13" fill="#1ea2f3"/>
<rect x="1416" y="706" width="13" height="13" fill="#18a2f3"/>
<rect x="1428" y="706" width="13" height="13" fill="#15a2f3"/>
<rect x="1440" y="706" width="25" height="13" fill="#12a5f0"/>
<rect x="1464" y="706" width="13" height="13" fill="#0fa5f0"/>
<rect x="1476" y="706" width="13" height="13" fill="#0fa5ed"/>
<rect x="1488" y="706" width="13" height="13" fill="#0fa8ed"/>
<rect x="1500" y="706" width="61" height="13" fill="#0fa8ea"/>
<rect x="1560" y="706" width="25" height="13" fill="#0fabea"/>
<rect x="1584" y="706" width="25" height="13" fill="#0fabe7"/>
<rect x="1608" y="706" width="13" height="13" fill="#0faee4"/>
<rect x="1620" y="706" width="13" height="13" fill="#0faee1"/>
<rect x="1632" y="706" width="13" height="13" fill="#0cb1e1"/>
<rect x="1644" y="706" width="37" height="13" fill="#0cb1de"/>
<rect x="1260" y="718" width="13" height="13" fill="#2d90ff"/>
<rect x="1272" y="718" width="13" height="13" fill="#3090ff"/>
<rect x="1284" y="718" width="13" height="13" fill="#3693ff"/>
<rect x="1296" y="718" width="13" height="13" fill="#3993ff"/>
<rect x="1308" y="718" width="13" height="13" fill="#3c96ff"/>
<rect x="1320" y="718" width="13" height="13" fill="#3999ff"/>
<rect x="1332" y="718" width="13" height="13" fill="#399ffc"/>
<rect x="1344" y="718" width="13" height="13" fill="#36a2fc"/>
<rect x="1356" y="718" width="13" height="13" fill="#33a2f9"/>
<rect x="1368" y="718" width="13" height="13" fill="#2da2f9"/>
<rect x="1380" y="718" width="13" height="13" fill="#2aa2f9"/>
<rect x="1392" y="718" width="13" height="13" fill="#279ff9"/>
<rect x="1404" y="718" width="13" height="13" fill="#219ff9"/>
<rect x="1416" y="718" width="13" height="13" fill="#1e9ff6"/>
<rect x="1428" y="718" width="13" height="13" fill="#1b9ff6"/>
<rect x="1440" y="718" width="13" height="13" fill="#18a2f3"/>
<rect x="1452" y="718" width="13" height="13" fill="#15a2f3"/>
<rect x="1464" y="718" width="13" height="13" fill="#12a2f3"/>
<rect x="1476" y="718" width="61" height="13" fill="#12a5f0"/>
<rect x="1536" y="718" width="13" height="13" fill="#12a8ed"/>
<rect x="1548" y="718" width="49" height="13" fill="#15a8ed"/>
<rect x="1596" y="718" width="13" height="13" fill="#12abea"/>
<rect x="1608" y="718" width="13" height="13" fill="#12abe7"/>
<rect x="1620" y="718" width="13" height="13" fill="#0faee7"/>
<rect x="1632" y="718" width="25" height="13" fill="#0faee4"/>
<rect x="1656" y="718" width="13" height="13" fill="#0faee1"/>
<rect x="1668" y="718" width="25" height="13" fill="#0cb1e1"/>
<rect x="1272" y="730" width="13" height="13" fill="#3387ff"/>
<rect x="1284" y="730" width="13" height="13" fill="#368aff"/>
<rect x="1296" y="730" width="13" height="13" fill="#3c8aff"/>
<rect x="1308" y="730" width="25" height="13" fill="#3c8dff"/>
<rect x="1332" y="730" width="13" height="13" fill="#3993ff"/>
<rect x="1344" y="730" width="13" height="13" fill="#3396ff"/>
<rect x="1356" y="730" width="13" height="13" fill="#3099fc"/>
<rect x="1368" y="730" width="13" height="13" fill="#2d9cfc"/>
<rect x="1380" y="730" width="13" height="13" fill="#2a99fc"/>
<rect x="1392" y="730" width="13" height="13" fill="#2799fc"/>
<rect x="1404" y="730" width="13" height="13" fill="#2499f9"/>
<rect x="1416" y="730" width="13" height="13" fill="#2199f9"/>
<rect x="1428" y="730" width="13" height="13" fill="#1e9cf9"/>
<rect x="1440" y="730" width="13" height="13" fill="#1b9ff6"/>
<rect x="1452" y="730" width="13" height="13" fill="#189ff6"/>
<rect x="1464" y="730" width="13" height="13" fill="#189ff3"/>
<rect x="1476" y="730" width="37" height="13" fill="#15a2f3"/>
<rect x="1512" y="730" width="13" height="13" fill="#18a2f3"/>
<rect x="1524" y="730" width="49" height="13" fill="#18a5f3"/>
<rect x="1572" y="730" width="25" height="13" fill="#18a8f0"/>
<rect x="1596" y="730" width="13" height="13" fill="#18a8ed"/>
<rect x="1608" y="730" width="13" height="13" fill="#15abed"/>
<rect x="1620" y="730" width="13" height="13" fill="#15abea"/>
<rect x="1632" y="730" width="13" height="13" fill="#12abea"/>
<rect x="1644" y="730" width="13" height="13" fill="#12aee7"/>
<rect x="1656" y="730" width="13" height="13" fill="#0faee7"/>
<rect x="1668" y="730" width="13" height="13" fill="#0faee4"/>
<rect x="1680" y="730" width="25" height="13" fill="#0caee4"/>
<rect x="1284" y="742" width="13" height="13" fill="#397eff"/>
<rect x="1296" y="742" width="13" height="13" fill="#3c81ff"/>
<rect x="1308" y="742" width="25" height="13" fill="#3f81ff"/>
<rect x="1332" y="742" width="13" height="13" fill="#3c84ff"/>
<rect x="1344" y="742" width="13" height="13" fill="#368aff"/>
<rect x="1356" y="742" width="13" height="13" fill="#3090ff"/>
<rect x="1368" y="742" width="13" height="13" fill="#2a93ff"/>
<rect x="1380" y="742" width="13" height="13" fill="#2793ff"/>
<rect x="1392" y="742" width="25" height="13" fill="#2490ff"/>
<rect x="1416" y="742" width="25" height="13" fill="#2193fc"/>
<rect x="1440" y="742" width="13" height="13" fill="#1e96f9"/>
<rect x="1452" y="742" width="13" height="13" fill="#1e9cf9"/>
<rect x="1464" y="742" width="25" height="13" fill="#1b9ff6"/>
<rect x="1488" y="742" width="13" height="13" fill="#1e9ff6"/>
<rect x="1500" y="742" width="13" height="13" fill="#1b9ff6"/>
<rect x="1512" y="742" width="13" height="13" fill="#1ba2f6"/>
<rect x="1524" y="742" width="13" height="13" fill="#1e9ff6"/>
<rect x="1536" y="742" width="37" height="13" fill="#21a2f6"/>
<rect x="1572" y="742" width="25" height="13" fill="#1ea5f3"/>
<rect x="1596" y="742" width="25" height="13" fill="#1ba8f0"/>
<rect x="1620" y="742" width="13" height="13" fill="#18a8f0"/>
<rect x="1632" y="742" width="13" height="13" fill="#18a8ed"/>
<rect x="1644" y="742" width="13" height="13" fill="#15abed"/>
<rect x="1656" y="742" width="13" height="13" fill="#15abea"/>
<rect x="1668" y="742" width="13" height="13" fill="#12abea"/>
<rect x="1680" y="742" width="25" height="13" fill="#0fabe7"/>
<rect x="1704" y="742" width="13" height="13" fill="#0cabe7"/>
<rect x="1296" y="754" width="25" height="13" fill="#4275ff"/>
<rect x="1320" y="754" width="25" height="13" fill="#4575ff"/>
<rect x="1344" y="754" width="13" height="13" fill="#3c7bff"/>
<rect x="1356" y="754" width="13" height="13" fill="#3381ff"/>
<rect x="1368" y="754" width="25" height="13" fill="#2d87ff"/>
<rect x="1392" y="754" width="13" height="13" fill="#2a87ff"/>
<rect x="1404" y="754" width="13" height="13" fill="#2787ff"/>
<rect x="1416" y="754" width="13" height="13" fill="#2487ff"/>
<rect x="1428" y="754" width="13" height="13" fill="#248aff"/>
<rect x="1440" y="754" width="13" height="13" fill="#218dff"/>
<rect x="1452" y="754" width="13" height="13" fill="#2190fc"/>
<rect x="1464" y="754" width="25" height="13" fill="#2193fc"/>
<rect x="1488" y="754" width="25" height="13" fill="#2196fc"/>
<rect x="1512" y="754" width="37" height="13" fill="#2499fc"/>
<rect x="1548" y="754" width="13" height="13" fill="#279cf9"/>
<rect x="1560" y="754" width="13" height="13" fill="#279ff9"/>
<rect x="1572" y="754" width="13" height="13" fill="#24a2f6"/>
<rect x="1584" y="754" width="13" height="13" fill="#21a5f6"/>
<rect x="1596" y="754" width="13" height="13" fill="#21a5f3"/>
<rect x="1608" y="754" width="13" height="13" fill="#1ea5f3"/>
<rect x="1620" y="754" width="13" height="13" fill="#1ea8f3"/>
<rect x="1632" y="754" width="13" height="13" fill="#1ba8f3"/>
<rect x="1644" y="754" width="13" height="13" fill="#1ba8f0"/>
<rect x="1656" y="754" width="13" height="13" fill="#18a8f0"/>
<rect x="1668" y="754" width="25" height="13" fill="#15a8ed"/>
<rect x="1692" y="754" width="13" height="13" fill="#12a8ea"/>
<rect x="1704" y="754" width="13" height="13" fill="#0fabea"/>
<rect x="1296" y="766" width="25" height="13" fill="#456ffc"/>
<rect x="1320" y="766" width="13" height="13" fill="#486cfc"/>
<rect x="1332" y="766" width="13" height="13" fill="#486ffc"/>
<rect x="1344" y="766" width="13" height="13" fill="#426ffc"/>
<rect x="1356" y="766" width="13" height="13" fill="#3f72ff"/>
<rect x="1368" y="766" width="13" height="13" fill="#3678ff"/>
<rect x="1380" y="766" width="13" height="13" fill="#337bff"/>
<rect x="1392" y="766" width="13" height="13" fill="#307bff"/>
<rect x="1404" y="766" width="13" height="13" fill="#2d7bff"/>
<rect x="1416" y="766" width="13" height="13" fill="#2d7eff"/>
<rect x="1428" y="766" width="13" height="13" fill="#2a7eff"/>
<rect x="1440" y="766" width="25" height="13" fill="#2a81ff"/>
<rect x="1464" y="766" width="13" height="13" fill="#2784ff"/>
<rect x="1476" y="766" width="25" height="13" fill="#2787ff"/>
<rect x="1500" y="766" width="13" height="13" fill="#278aff"/>
<rect x="1512" y="766" width="13" height="13" fill="#278dff"/>
<rect x="1524" y="766" width="13" height="13" fill="#2a8dff"/>
<rect x="1536" y="766" width="13" height="13" fill="#2a90ff"/>
<rect x="1548" y="766" width="13" height="13" fill="#2a93ff"/>
<rect x="1560" y="766" width="13" height="13" fill="#2a99fc"/>
<rect x="1572" y="766" width="13" height="13" fill="#2a9cf9"/>
<rect x="1584" y="766" width="13" height="13" fill="#27a2f9"/>
<rect x="1596" y="766" width="13" height="13" fill="#27a2f6"/>
<rect x="1608" y="766" width="25" height="13" fill="#24a5f6"/>
<rect x="1632" y="766" width="13" height="13" fill="#21a5f6"/>
<rect x="1644" y="766" width="13" height="13" fill="#21a5f3"/>
<rect x="1656" y="766" width="13" height="13" fill="#1ea5f3"/>
<rect x="1668" y="766" width="13" height="13" fill="#1ba5f3"/>
<rect x="1680" y="766" width="13" height="13" fill="#18a5f0"/>
<rect x="1692" y="766" width="13" height="13" fill="#15a8f0"/>
<rect x="1704" y="766" width="25" height="13" fill="#12a8ed"/>
<rect x="1308" y="778" width="13" height="13" fill="#4869f9"/>
<rect x="1320" y="778" width="13" height="13" fill="#4b69f9"/>
<rect x="1332" y="778" width="13" height="13" fill="#4b66f9"/>
<rect x="1344" y="778" width="13" height="13" fill="#4869f9"/>
<rect x="1356" y="778" width="13" height="13" fill="#4569fc"/>
<rect x="1368" y="778" width="13" height="13" fill="#3f6cfc"/>
<rect x="1380" y="778" width="13" height="13" fill="#3c6fff"/>
<rect x="1392" y="778" width="13" height="13" fill="#3972ff"/>
<rect x="1404" y="778" width="25" height="13" fill="#3672ff"/>
<rect x="1428" y="778" width="25" height="13" fill="#3675ff"/>
<rect x="1452" y="778" width="13" height="13" fill="#3375ff"/>
<rect x="1464" y="778" width="25" height="13" fill="#3378ff"/>
<rect x="1488" y="778" width="25" height="13" fill="#307eff"/>
<rect x="1512" y="778" width="13" height="13" fill="#3081ff"/>
<rect x="1524" y="778" width="13" height="13" fill="#3084ff"/>
<rect x="1536" y="778" width="13" height="13" fill="#3384ff"/>
<rect x="1548" y="778" width="13" height="13" fill="#308aff"/>
<rect x="1560" y="778" width="13" height="13" fill="#2d90ff"/>
<rect x="1572" y="778" width="13" height="13" fill="#2a96fc"/>
<rect x="1584" y="778" width="13" height="13" fill="#2a9cfc"/>
<rect x="1596" y="778" width="13" height="13" fill="#2a9ff9"/>
<rect x="1608" y="778" width="25" height="13" fill="#2aa2f9"/>
<rect x="1632" y="778" width="13" height="13" fill="#27a2f9"/>
<rect x="1644" y="778" width="13" height="13" fill="#27a2f6"/>
<rect x="1656" y="778" width="13" height="13" fill="#24a2f6"/>
<rect x="1668" y="778" width="13" height="13" fill="#21a2f6"/>
<rect x="1680" y="778" width="13" height="13" fill="#1ea2f6"/>
<rect x="1692" y="778" width="13" height="13" fill="#1ba5f3"/>
<rect x="1704" y="778" width="13" height="13" fill="#18a5f0"/>
<rect x="1716" y="778" width="13" height="13" fill="#15a5f0"/>
<rect x="1320" y="790" width="37" height="13" fill="#4b60f6"/>
<rect x="1356" y="790" width="13" height="13" fill="#4863f6"/>
<rect x="1368" y="790" width="13" height="13" fill="#4566f9"/>
<rect x="1380" y="790" width="13" height="13" fill="#4269fc"/>
<rect x="1392" y="790" width="13" height="13" fill="#3f69fc"/>
<rect x="1404" y="790" width="13" height="13" fill="#3f6cff"/>
<rect x="1416" y="790" width="37" height="13" fill="#3c6cff"/>
<rect x="1452" y="790" width="13" height="13" fill="#3c6fff"/>
<rect x="1464" y="790" width="25" height="13" fill="#3972ff"/>
<rect x="1488" y="790" width="13" height="13" fill="#3975ff"/>
<rect x="1500" y="790" width="13" height="13" fill="#3978ff"/>
<rect x="1512" y="790" width="25" height="13" fill="#397bff"/>
<rect x="1536" y="790" width="13" height="13" fill="#367eff"/>
<rect x="1548" y="790" width="13" height="13" fill="#3684ff"/>
<rect x="1560" y="790" width="13" height="13" fill="#308aff"/>
<rect x="1572" y="790" width="13" height="13" fill="#2d93ff"/>
<rect x="1584" y="790" width="13" height="13" fill="#2d99fc"/>
<rect x="1596" y="790" width="25" height="13" fill="#2d9cfc"/>
<rect x="1620" y="790" width="49" height="13" fill="#2a9ff9"/>
<rect x="1668" y="790" width="13" height="13" fill="#279ff9"/>
<rect x="1680" y="790" width="13" height="13" fill="#249ff9"/>
<rect x="1692" y="790" width="13" height="13" fill="#21a2f6"/>
<rect x="1704" y="790" width="13" height="13" fill="#1ea2f6"/>
<rect x="1716" y="790" width="13" height="13" fill="#1ba2f3"/>
<rect x="1728" y="790" width="13" height="13" fill="#18a5f3"/>
<rect x="1332" y="802" width="25" height="13" fill="#4e5af3"/>
<rect x="1356" y="802" width="13" height="13" fill="#4b5df3"/>
<rect x="1368" y="802" width="13" height="13" fill="#4b5df6"/>
<rect x="1380" y="802" width="13" height="13" fill="#4863f6"/>
<rect x="1392" y="802" width="13" height="13" fill="#4566f9"/>
<rect x="1404" y="802" width="13" height="13" fill="#4269f9"/>
<rect x="1416" y="802" width="13" height="13" fill="#4269fc"/>
<rect x="1428" y="802" width="13" height="13" fill="#3f69fc"/>
<rect x="1440" y="802" width="25" height="13" fill="#3f6cfc"/>
<rect x="1464" y="802" width="13" height="13" fill="#3f6cff"/>
<rect x="1476" y="802" width="25" height="13" fill="#3f6fff"/>
<rect x="1500" y="802" width="13" height="13" fill="#3c72ff"/>
<rect x="1512" y="802" width="13" height="13" fill="#3c75ff"/>
<rect x="1524" y="802" width="25" height="13" fill="#3c78ff"/>
<rect x="1548" y="802" width="13" height="13" fill="#397eff"/>
<rect x="1560" y="802" width="13" height="13" fill="#3687ff"/>
<rect x="1572" y="802" width="13" height="13" fill="#308dff"/>
<rect x="1584" y="802" width="13" height="13" fill="#2d96ff"/>
<rect x="1596" y="802" width="61" height="13" fill="#2d99fc"/>
<rect x="1656" y="802" width="25" height="13" fill="#2a99fc"/>
<rect x="1680" y="802" width="13" height="13" fill="#279cfc"/>
<rect x="1692" y="802" width="13" height="13" fill="#279cf9"/>
<rect x="1704" y="802" width="13" height="13" fill="#249ff9"/>
<rect x="1716" y="802" width="13" height="13" fill="#1ea2f6"/>
<rect x="1728" y="802" width="25" height="13" fill="#1ba2f3"/>
<rect x="1344" y="814" width="37" height="13" fill="#4e54f0"/>
<rect x="1380" y="814" width="13" height="13" fill="#4e57f0"/>
<rect x="1392" y="814" width="13" height="13" fill="#4b5df6"/>
<rect x="1404" y="814" width="13" height="13" fill="#4863f6"/>
<rect x="1416" y="814" width="25" height="13" fill="#4566f9"/>
<rect x="1440" y="814" width="13" height="13" fill="#4569f9"/>
<rect x="1452" y="814" width="13" height="13" fill="#4269fc"/>
<rect x="1464" y="814" width="37" height="13" fill="#426cfc"/>
<rect x="1500" y="814" width="25" height="13" fill="#426fff"/>
<rect x="1524" y="814" width="13" height="13" fill="#4272ff"/>
<rect x="1536" y="814" width="13" height="13" fill="#4275ff"/>
<rect x="1548" y="814" width="13" height="13" fill="#3f78ff"/>
<rect x="1560" y="814" width="13" height="13" fill="#3981ff"/>
<rect x="1572" y="814" width="13" height="13" fill="#338aff"/>
<rect x="1584" y="814" width="13" height="13" fill="#3090ff"/>
<rect x="1596" y="814" width="13" height="13" fill="#3093ff"/>
<rect x="1608" y="814" width="13" height="13" fill="#3096ff"/>
<rect x="1620" y="814" width="49" height="13" fill="#2d96ff"/>
<rect x="1668" y="814" width="13" height="13" fill="#2d93ff"/>
<rect x="1680" y="814" width="13" height="13" fill="#2a96fc"/>
<rect x="1692" y="814" width="13" height="13" fill="#2799fc"/>
<rect x="1704" y="814" width="13" height="13" fill="#279cf9"/>
<rect x="1716" y="814" width="13" height="13" fill="#219ff6"/>
<rect x="1728" y="814" width="13" height="13" fill="#1ea2f6"/>
<rect x="1740" y="814" width="13" height="13" fill="#1e9ff6"/>
<rect x="1344" y="826" width="13" height="13" fill="#4e4eea"/>
<rect x="1356" y="826" width="13" height="13" fill="#4e4bea"/>
<rect x="1368" y="826" width="25" height="13" fill="#4e4be7"/>
<rect x="1392" y="826" width="13" height="13" fill="#4e51ed"/>
<rect x="1404" y="826" width="13" height="13" fill="#4b5af3"/>
<rect x="1416" y="826" width="13" height="13" fill="#4b5df3"/>
<rect x="1428" y="826" width="13" height="13" fill="#4860f6"/>
<rect x="1440" y="826" width="13" height="13" fill="#4863f6"/>
<rect x="1452" y="826" width="25" height="13" fill="#4866f9"/>
<rect x="1476" y="826" width="25" height="13" fill="#4569f9"/>
<rect x="1500" y="826" width="13" height="13" fill="#456cfc"/>
<rect x="1512" y="826" width="25" height="13" fill="#456ffc"/>
<rect x="1536" y="826" width="13" height="13" fill="#4572ff"/>
<rect x="1548" y="826" width="13" height="13" fill="#4275ff"/>
<rect x="1560" y="826" width="13" height="13" fill="#3c7eff"/>
<rect x="1572" y="826" width="13" height="13" fill="#3684ff"/>
<rect x="1584" y="826" width="13" height="13" fill="#338aff"/>
<rect x="1596" y="826" width="13" height="13" fill="#3390ff"/>
<rect x="1608" y="826" width="61" height="13" fill="#3093ff"/>
<rect x="1668" y="826" width="25" height="13" fill="#2d93ff"/>
<rect x="1692" y="826" width="13" height="13" fill="#2a96fc"/>
<rect x="1704" y="826" width="13" height="13" fill="#2799fc"/>
<rect x="1716" y="826" width="13" height="13" fill="#279cf9"/>
<rect x="1728" y="826" width="13" height="13" fill="#249ff9"/>
<rect x="1740" y="826" width="13" height="13" fill="#249cf9"/>
<rect x="1752" y="826" width="13" height="13" fill="#2199f9"/>
<rect x="1356" y="838" width="37" height="13" fill="#4e45e4"/>
<rect x="1392" y="838" width="13" height="13" fill="#4e4be7"/>
<rect x="1404" y="838" width="13" height="13" fill="#4e51ed"/>
<rect x="1416" y="838" width="13" height="13" fill="#4e57f0"/>
<rect x="1428" y="838" width="25" height="13" fill="#4b5af3"/>
<rect x="1452" y="838" width="13" height="13" fill="#4b5df3"/>
<rect x="1464" y="838" width="13" height="13" fill="#4b63f6"/>
<rect x="1476" y="838" width="13" height="13" fill="#4b66f6"/>
<rect x="1488" y="838" width="13" height="13" fill="#4b66f9"/>
<rect x="1500" y="838" width="13" height="13" fill="#4b69f9"/>
<rect x="1512" y="838" width="13" height="13" fill="#486cf9"/>
<rect x="1524" y="838" width="13" height="13" fill="#486cfc"/>
<rect x="1536" y="838" width="13" height="13" fill="#486ffc"/>
<rect x="1548" y="838" width="13" height="13" fill="#4575ff"/>
<rect x="1560" y="838" width="13" height="13" fill="#3f7bff"/>
<rect x="1572" y="838" width="13" height="13" fill="#3c81ff"/>
<rect x="1584" y="838" width="13" height="13" fill="#3984ff"/>
<rect x="1596" y="838" width="13" height="13" fill="#368aff"/>
<rect x="1608" y="838" width="25" height="13" fill="#368dff"/>
<rect x="1632" y="838" width="37" height="13" fill="#3390ff"/>
<rect x="1668" y="838" width="25" height="13" fill="#3090ff"/>
<rect x="1692" y="838" width="13" height="13" fill="#2d93ff"/>
<rect x="1704" y="838" width="13" height="13" fill="#2a96ff"/>
<rect x="1716" y="838" width="13" height="13" fill="#2a96fc"/>
<rect x="1728" y="838" width="25" height="13" fill="#2796fc"/>
<rect x="1752" y="838" width="13" height="13" fill="#2493fc"/>
<rect x="1368" y="850" width="37" height="13" fill="#4e42e1"/>
<rect x="1404" y="850" width="13" height="13" fill="#4e48e7"/>
<rect x="1416" y="850" width="13" height="13" fill="#4e51ed"/>
<rect x="1428" y="850" width="13" height="13" fill="#4e54ed"/>
<rect x="1440" y="850" width="13" height="13" fill="#4e54f0"/>
<rect x="1452" y="850" width="13" height="13" fill="#4e57f0"/>
<rect x="1464" y="850" width="13" height="13" fill="#4e5af3"/>
<rect x="1476" y="850" width="13" height="13" fill="#4e60f3"/>
<rect x="1488" y="850" width="13" height="13" fill="#4b60f6"/>
<rect x="1500" y="850" width="13" height="13" fill="#4e63f6"/>
<rect x="1512" y="850" width="13" height="13" fill="#4e66f6"/>
<rect x="1524" y="850" width="13" height="13" fill="#4e69f9"/>
<rect x="1536" y="850" width="13" height="13" fill="#4b6cf9"/>
<rect x="1548" y="850" width="13" height="13" fill="#4872fc"/>
<rect x="1560" y="850" width="13" height="13" fill="#4575ff"/>
<rect x="1572" y="850" width="13" height="13" fill="#4278ff"/>
<rect x="1584" y="850" width="13" height="13" fill="#3f7eff"/>
<rect x="1596" y="850" width="13" height="13" fill="#3c84ff"/>
<rect x="1608" y="850" width="25" height="13" fill="#3987ff"/>
<rect x="1632" y="850" width="13" height="13" fill="#398aff"/>
<rect x="1644" y="850" width="13" height="13" fill="#368aff"/>
<rect x="1656" y="850" width="25" height="13" fill="#368dff"/>
<rect x="1680" y="850" width="13" height="13" fill="#338dff"/>
<rect x="1692" y="850" width="13" height="13" fill="#308dff"/>
<rect x="1704" y="850" width="25" height="13" fill="#2d90ff"/>
<rect x="1728" y="850" width="25" height="13" fill="#2a90ff"/>
<rect x="1752" y="850" width="13" height="13" fill="#2790ff"/>
<rect x="1764" y="850" width="13" height="13" fill="#278dff"/>
<rect x="1380" y="862" width="25" height="13" fill="#4e42de"/>
<rect x="1404" y="862" width="13" height="13" fill="#4e45e4"/>
<rect x="1416" y="862" width="13" height="13" fill="#4e48e7"/>
<rect x="1428" y="862" width="13" height="13" fill="#4e4bea"/>
<rect x="1440" y="862" width="13" height="13" fill="#4e4eea"/>
<rect x="1452" y="862" width="13" height="13" fill="#4e54ed"/>
<rect x="1464" y="862" width="13" height="13" fill="#4e57f0"/>
<rect x="1476" y="862" width="13" height="13" fill="#5157f0"/>
<rect x="1488" y="862" width="13" height="13" fill="#4e5af3"/>
<rect x="1500" y="862" width="13" height="13" fill="#4e5df3"/>
<rect x="1512" y="862" width="13" height="13" fill="#5160f3"/>
<rect x="1524" y="862" width="13" height="13" fill="#5163f6"/>
<rect x="1536" y="862" width="13" height="13" fill="#4e66f6"/>
<rect x="1548" y="862" width="13" height="13" fill="#4e6cf9"/>
<rect x="1560" y="862" width="13" height="13" fill="#4b6ffc"/>
<rect x="1572" y="862" width="13" height="13" fill="#4875ff"/>
<rect x="1584" y="862" width="13" height="13" fill="#4578ff"/>
<rect x="1596" y="862" width="13" height="13" fill="#457bff"/>
<rect x="1608" y="862" width="13" height="13" fill="#427eff"/>
<rect x="1620" y="862" width="13" height="13" fill="#4281ff"/>
<rect x="1632" y="862" width="25" height="13" fill="#3f84ff"/>
<rect x="1656" y="862" width="13" height="13" fill="#3c84ff"/>
<rect x="1668" y="862" width="13" height="13" fill="#3c87ff"/>
<rect x="1680" y="862" width="13" height="13" fill="#3987ff"/>
<rect x="1692" y="862" width="13" height="13" fill="#368aff"/>
<rect x="1704" y="862" width="25" height="13" fill="#338aff"/>
<rect x="1728" y="862" width="13" height="13" fill="#308aff"/>
<rect x="1740" y="862" width="25" height="13" fill="#2d8aff"/>
<rect x="1764" y="862" width="13" height="13" fill="#2d87ff"/>
<rect x="1776" y="862" width="13" height="13" fill="#2d84ff"/>
<rect x="1392" y="874" width="13" height="13" fill="#4e42de"/>
<rect x="1404" y="874" width="13" height="13" fill="#4e42e1"/>
<rect x="1416" y="874" width="13" height="13" fill="#4e45e4"/>
<rect x="1428" y="874" width="13" height="13" fill="#4e48e7"/>
<rect x="1440" y="874" width="13" height="13" fill="#4e4be7"/>
<rect x="1452" y="874" width="13" height="13" fill="#4e4eea"/>
<rect x="1464" y="874" width="13" height="13" fill="#4e54ed"/>
<rect x="1476" y="874" width="13" height="13" fill="#5154f0"/>
<rect x="1488" y="874" width="13" height="13" fill="#5157f0"/>
<rect x="1500" y="874" width="25" height="13" fill="#515af0"/>
<rect x="1524" y="874" width="13" height="13" fill="#545df3"/>
<rect x="1536" y="874" width="13" height="13" fill="#5160f3"/>
<rect x="1548" y="874" width="13" height="13" fill="#5166f6"/>
<rect x="1560" y="874" width="13" height="13" fill="#516cf9"/>
<rect x="1572" y="874" width="13" height="13" fill="#4e72fc"/>
<rect x="1584" y="874" width="13" height="13" fill="#4b72fc"/>
<rect x="1596" y="874" width="13" height="13" fill="#4b75fc"/>
<rect x="1608" y="874" width="13" height="13" fill="#4b78ff"/>
<rect x="1620" y="874" width="13" height="13" fill="#4878ff"/>
<rect x="1632" y="874" width="13" height="13" fill="#487bff"/>
<rect x="1644" y="874" width="25" height="13" fill="#457eff"/>
<rect x="1668" y="874" width="13" height="13" fill="#4281ff"/>
<rect x="1680" y="874" width="13" height="13" fill="#3f81ff"/>
<rect x="1692" y="874" width="13" height="13" fill="#3c84ff"/>
<rect x="1704" y="874" width="13" height="13" fill="#3984ff"/>
<rect x="1716" y="874" width="25" height="13" fill="#3684ff"/>
<rect x="1740" y="874" width="13" height="13" fill="#3384ff"/>
<rect x="1752" y="874" width="25" height="13" fill="#3381ff"/>
<rect x="1776" y="874" width="25" height="13" fill="#337eff"/>
<rect x="1404" y="886" width="13" height="13" fill="#4e42e1"/>
<rect x="1416" y="886" width="13" height="13" fill="#4e45e1"/>
<rect x="1428" y="886" width="13" height="13" fill="#4e45e4"/>
<rect x="1440" y="886" width="13" height="13" fill="#4e48e7"/>
<rect x="1452" y="886" width="13" height="13" fill="#4e4eea"/>
<rect x="1464" y="886" width="13" height="13" fill="#4e54ed"/>
<rect x="1476" y="886" width="37" height="13" fill="#5157f0"/>
<rect x="1512" y="886" width="13" height="13" fill="#515af0"/>
<rect x="1524" y="886" width="13" height="13" fill="#545af0"/>
<rect x="1536" y="886" width="13" height="13" fill="#545df0"/>
<rect x="1548" y="886" width="13" height="13" fill="#5460f3"/>
<rect x="1560" y="886" width="13" height="13" fill="#5466f6"/>
<rect x="1572" y="886" width="25" height="13" fill="#516ff9"/>
<rect x="1596" y="886" width="13" height="13" fill="#546ff9"/>
<rect x="1608" y="886" width="13" height="13" fill="#5172f9"/>
<rect x="1620" y="886" width="13" height="13" fill="#4e75fc"/>
<rect x="1632" y="886" width="13" height="13" fill="#4e78fc"/>
<rect x="1644" y="886" width="13" height="13" fill="#4e78ff"/>
<rect x="1656" y="886" width="13" height="13" fill="#4b78ff"/>
<rect x="1668" y="886" width="13" height="13" fill="#487bff"/>
<rect x="1680" y="886" width="13" height="13" fill="#457bff"/>
<rect x="1692" y="886" width="13" height="13" fill="#427eff"/>
<rect x="1704" y="886" width="25" height="13" fill="#3f7eff"/>
<rect x="1728" y="886" width="25" height="13" fill="#3c7eff"/>
<rect x="1752" y="886" width="13" height="13" fill="#3c7bff"/>
<rect x="1764" y="886" width="13" height="13" fill="#397bff"/>
<rect x="1776" y="886" width="25" height="13" fill="#3978ff"/>
<rect x="1416" y="898" width="13" height="13" fill="#4e45e1"/>
<rect x="1428" y="898" width="13" height="13" fill="#4e45e4"/>
<rect x="1440" y="898" width="13" height="13" fill="#4e48e7"/>
<rect x="1452" y="898" width="13" height="13" fill="#4e4eea"/>
<rect x="1464" y="898" width="13" height="13" fill="#4e54ed"/>
<rect x="1476" y="898" width="49" height="13" fill="#5157f0"/>
<rect x="1524" y="898" width="25" height="13" fill="#545af0"/>
<rect x="1548" y="898" width="13" height="13" fill="#575df0"/>
<rect x="1560" y="898" width="13" height="13" fill="#5463f3"/>
<rect x="1572" y="898" width="13" height="13" fill="#5469f6"/>
<rect x="1584" y="898" width="13" height="13" fill="#546cf6"/>
<rect x="1596" y="898" width="13" height="13" fill="#576cf6"/>
<rect x="1608" y="898" width="13" height="13" fill="#546ff6"/>
<rect x="1620" y="898" width="25" height="13" fill="#5472f9"/>
<rect x="1644" y="898" width="25" height="13" fill="#5175fc"/>
<rect x="1668" y="898" width="13" height="13" fill="#4e75fc"/>
<rect x="1680" y="898" width="13" height="13" fill="#4b78ff"/>
<rect x="1692" y="898" width="25" height="13" fill="#4878ff"/>
<rect x="1716" y="898" width="25" height="13" fill="#4578ff"/>
<rect x="1740" y="898" width="25" height="13" fill="#4275ff"/>
<rect x="1764" y="898" width="25" height="13" fill="#4272ff"/>
<rect x="1788" y="898" width="13" height="13" fill="#3f72ff"/>
<rect x="1800" y="898" width="13" height="13" fill="#3f6fff"/>
<rect x="1428" y="910" width="13" height="13" fill="#4e45e4"/>
<rect x="1440" y="910" width="13" height="13" fill="#4e48e7"/>
<rect x="1452" y="910" width="13" height="13" fill="#4e4eea"/>
<rect x="1464" y="910" width="13" height="13" fill="#4e51ed"/>
<rect x="1476" y="910" width="37" height="13" fill="#5157f0"/>
<rect x="1512" y="910" width="13" height="13" fill="#515af0"/>
<rect x="1524" y="910" width="25" height="13" fill="#545af0"/>
<rect x="1548" y="910" width="13" height="13" fill="#545df0"/>
<rect x="1560" y="910" width="13" height="13" fill="#5460f3"/>
<rect x="1572" y="910" width="13" height="13" fill="#5466f3"/>
<rect x="1584" y="910" width="13" height="13" fill="#5766f6"/>
<rect x="1596" y="910" width="25" height="13" fill="#5769f6"/>
<rect x="1620" y="910" width="13" height="13" fill="#576cf6"/>
<rect x="1632" y="910" width="25" height="13" fill="#576ff9"/>
<rect x="1656" y="910" width="25" height="13" fill="#5472f9"/>
<rect x="1680" y="910" width="13" height="13" fill="#5175fc"/>
<rect x="1692" y="910" width="13" height="13" fill="#4e75fc"/>
<rect x="1704" y="910" width="25" height="13" fill="#4b75fc"/>
<rect x="1728" y="910" width="25" height="13" fill="#4872fc"/>
<rect x="1752" y="910" width="25" height="13" fill="#486ffc"/>
<rect x="1776" y="910" width="13" height="13" fill="#456ffc"/>
<rect x="1788" y="910" width="25" height="13" fill="#456cfc"/>
<rect x="1440" y="922" width="13" height="13" fill="#4e48e7"/>
<rect x="1452" y="922" width="13" height="13" fill="#4e4bea"/>
<rect x="1464" y="922" width="13" height="13" fill="#4e51ea"/>
<rect x="1476" y="922" width="13" height="13" fill="#5154ed"/>
<rect x="1488" y="922" width="25" height="13" fill="#5157f0"/>
<rect x="1512" y="922" width="13" height="13" fill="#515af0"/>
<rect x="1524" y="922" width="25" height="13" fill="#545af0"/>
<rect x="1548" y="922" width="13" height="13" fill="#545df0"/>
<rect x="1560" y="922" width="25" height="13" fill="#5760f3"/>
<rect x="1584" y="922" width="25" height="13" fill="#5763f3"/>
<rect x="1608" y="922" width="13" height="13" fill="#5766f3"/>
<rect x="1620" y="922" width="25" height="13" fill="#5769f6"/>
<rect x="1644" y="922" width="25" height="13" fill="#576cf6"/>
<rect x="1668" y="922" width="13" height="13" fill="#576ff9"/>
<rect x="1680" y="922" width="13" height="13" fill="#5472f9"/>
<rect x="1692" y="922" width="25" height="13" fill="#5172f9"/>
<rect x="1716" y="922" width="13" height="13" fill="#4e72f9"/>
<rect x="1728" y="922" width="25" height="13" fill="#4e6ff9"/>
<rect x="1752" y="922" width="37" height="13" fill="#4b6cf9"/>
<rect x="1788" y="922" width="13" height="13" fill="#4b69f9"/>
<rect x="1800" y="922" width="25" height="13" fill="#4869f9"/>
<rect x="1452" y="934" width="13" height="13" fill="#4e4be7"/>
<rect x="1464" y="934" width="13" height="13" fill="#4e4eea"/>
<rect x="1476" y="934" width="13" height="13" fill="#5151ed"/>
<rect x="1488" y="934" width="13" height="13" fill="#5154ed"/>
<rect x="1500" y="934" width="25" height="13" fill="#5157f0"/>
<rect x="1524" y="934" width="13" height="13" fill="#5457f0"/>
<rect x="1536" y="934" width="25" height="13" fill="#545af0"/>
<rect x="1560" y="934" width="13" height="13" fill="#575df0"/>
<rect x="1572" y="934" width="37" height="13" fill="#5760f3"/>
<rect x="1608" y="934" width="13" height="13" fill="#5a63f3"/>
<rect x="1620" y="934" width="13" height="13" fill="#5766f3"/>
<rect x="1632" y="934" width="37" height="13" fill="#5a66f3"/>
<rect x="1668" y="934" width="13" height="13" fill="#5769f6"/>
<rect x="1680" y="934" width="13" height="13" fill="#576cf6"/>
<rect x="1692" y="934" width="13" height="13" fill="#546cf6"/>
<rect x="1704" y="934" width="13" height="13" fill="#546cf9"/>
<rect x="1716" y="934" width="13" height="13" fill="#516cf9"/>
<rect x="1728" y="934" width="13" height="13" fill="#516cf6"/>
<rect x="1740" y="934" width="25" height="13" fill="#5169f6"/>
<rect x="1764" y="934" width="25" height="13" fill="#4e66f6"/>
<rect x="1788" y="934" width="37" height="13" fill="#4b66f6"/>
<rect x="1824" y="934" width="13" height="13" fill="#4866f9"/>
<rect x="1464" y="946" width="13" height="13" fill="#4e4be7"/>
<rect x="1476" y="946" width="13" height="13" fill="#4e4eea"/>
<rect x="1488" y="946" width="13" height="13" fill="#5151ed"/>
<rect x="1500" y="946" width="25" height="13" fill="#5154ed"/>
<rect x="1524" y="946" width="13" height="13" fill="#5157ed"/>
<rect x="1536" y="946" width="13" height="13" fill="#5457f0"/>
<rect x="1548" y="946" width="25" height="13" fill="#545af0"/>
<rect x="1572" y="946" width="25" height="13" fill="#575af0"/>
<rect x="1596" y="946" width="25" height="13" fill="#575df0"/>
<rect x="1620" y="946" width="37" height="13" fill="#5a60f0"/>
<rect x="1656" y="946" width="13" height="13" fill="#5a60f3"/>
<rect x="1668" y="946" width="13" height="13" fill="#5763f3"/>
<rect x="1680" y="946" width="13" height="13" fill="#5766f3"/>
<rect x="1692" y="946" width="13" height="13" fill="#5466f6"/>
<rect x="1704" y="946" width="13" height="13" fill="#5469f6"/>
<rect x="1716" y="946" width="25" height="13" fill="#5466f6"/>
<rect x="1740" y="946" width="13" height="13" fill="#5163f3"/>
<rect x="1752" y="946" width="25" height="13" fill="#5160f3"/>
<rect x="1776" y="946" width="25" height="13" fill="#4e60f3"/>
<rect x="1800" y="946" width="13" height="13" fill="#4e60f6"/>
<rect x="1812" y="946" width="25" height="13" fill="#4b60f6"/>
<rect x="1488" y="958" width="13" height="13" fill="#514eea"/>
<rect x="1500" y="958" width="13" height="13" fill="#5151ed"/>
<rect x="1512" y="958" width="37" height="13" fill="#5154ed"/>
<rect x="1548" y="958" width="37" height="13" fill="#5457ed"/>
<rect x="1584" y="958" width="37" height="13" fill="#5757ed"/>
<rect x="1620" y="958" width="25" height="13" fill="#575aed"/>
<rect x="1644" y="958" width="13" height="13" fill="#575ded"/>
<rect x="1656" y="958" width="13" height="13" fill="#575df0"/>
<rect x="1668" y="958" width="13" height="13" fill="#5760f0"/>
<rect x="1680" y="958" width="25" height="13" fill="#5760f3"/>
<rect x="1704" y="958" width="37" height="13" fill="#5460f3"/>
<rect x="1740" y="958" width="13" height="13" fill="#545df3"/>
<rect x="1752" y="958" width="13" height="13" fill="#545df0"/>
<rect x="1764" y="958" width="25" height="13" fill="#515df3"/>
<rect x="1788" y="958" width="13" height="13" fill="#515af3"/>
<rect x="1800" y="958" width="13" height="13" fill="#4e5af3"/>
<rect x="1812" y="958" width="25" height="13" fill="#4e5df3"/>
<rect x="1488" y="970" width="13" height="13" fill="#4e4be7"/>
<rect x="1500" y="970" width="13" height="13" fill="#514eea"/>
<rect x="1512" y="970" width="13" height="13" fill="#5151ea"/>
<rect x="1524" y="970" width="25" height="13" fill="#5151ed"/>
<rect x="1548" y="970" width="13" height="13" fill="#5151ea"/>
<rect x="1560" y="970" width="49" height="13" fill="#5451ea"/>
<rect x="1608" y="970" width="37" height="13" fill="#5754ea"/>
<rect x="1644" y="970" width="25" height="13" fill="#5757ed"/>
<rect x="1668" y="970" width="25" height="13" fill="#575aed"/>
<rect x="1692" y="970" width="25" height="13" fill="#575af0"/>
<rect x="1716" y="970" width="37" height="13" fill="#545af0"/>
<rect x="1752" y="970" width="13" height="13" fill="#5457f0"/>
<rect x="1764" y="970" width="49" height="13" fill="#5157f0"/>
<rect x="1812" y="970" width="13" height="13" fill="#4e57f0"/>
<rect x="1824" y="970" width="13" height="13" fill="#4e5af3"/>
<rect x="1500" y="982" width="13" height="13" fill="#4e4be7"/>
<rect x="1512" y="982" width="49" height="13" fill="#514eea"/>
<rect x="1560" y="982" width="13" height="13" fill="#514ee7"/>
<rect x="1572" y="982" width="25" height="13" fill="#544be7"/>
<rect x="1596" y="982" width="13" height="13" fill="#544be4"/>
<rect x="1608" y="982" width="13" height="13" fill="#544ee4"/>
<rect x="1620" y="982" width="13" height="13" fill="#544ee7"/>
<rect x="1632" y="982" width="13" height="13" fill="#5451e7"/>
<rect x="1644" y="982" width="13" height="13" fill="#5451ea"/>
<rect x="1656" y="982" width="49" height="13" fill="#5454ea"/>
<rect x="1704" y="982" width="49" height="13" fill="#5454ed"/>
<rect x="1752" y="982" width="61" height="13" fill="#5154ed"/>
<rect x="1812" y="982" width="25" height="13" fill="#4e54f0"/>
<rect x="1500" y="994" width="13" height="13" fill="#4e48e7"/>
<rect x="1512" y="994" width="13" height="13" fill="#4e4be7"/>
<rect x="1524" y="994" width="13" height="13" fill="#514ee7"/>
<rect x="1536" y="994" width="25" height="13" fill="#514be7"/>
<rect x="1560" y="994" width="25" height="13" fill="#5148e4"/>
<rect x="1584" y="994" width="25" height="13" fill="#5148e1"/>
<rect x="1608" y="994" width="25" height="13" fill="#5448e1"/>
<rect x="1632" y="994" width="25" height="13" fill="#544be4"/>
<rect x="1656" y="994" width="61" height="13" fill="#544ee7"/>
<rect x="1716" y="994" width="13" height="13" fill="#5451ea"/>
<rect x="1728" y="994" width="37" height="13" fill="#5151ea"/>
<rect x="1764" y="994" width="37" height="13" fill="#5151ed"/>
<rect x="1800" y="994" width="37" height="13" fill="#4e51ed"/>
<rect x="1512" y="1006" width="13" height="13" fill="#4e45e4"/>
<rect x="1524" y="1006" width="13" height="13" fill="#4e48e4"/>
<rect x="1536" y="1006" width="13" height="13" fill="#5148e4"/>
<rect x="1548" y="1006" width="25" height="13" fill="#5145e1"/>
<rect x="1572" y="1006" width="37" height="13" fill="#5145de"/>
<rect x="1608" y="1006" width="13" height="13" fill="#5145db"/>
<rect x="1620" y="1006" width="25" height="13" fill="#5145de"/>
<rect x="1644" y="1006" width="13" height="13" fill="#5148de"/>
<rect x="1656" y="1006" width="37" height="13" fill="#5148e1"/>
<rect x="1692" y="1006" width="13" height="13" fill="#5148e4"/>
<rect x="1704" y="1006" width="25" height="13" fill="#514be4"/>
<rect x="1728" y="1006" width="25" height="13" fill="#514be7"/>
<rect x="1752" y="1006" width="37" height="13" fill="#514eea"/>
<rect x="1788" y="1006" width="37" height="13" fill="#4e4eea"/>
<rect x="1512" y="1018" width="13" height="13" fill="#4e42de"/>
<rect x="1524" y="1018" width="13" height="13" fill="#4e42e1"/>
<rect x="1536" y="1018" width="37" height="13" fill="#4e42de"/>
<rect x="1572" y="1018" width="13" height="13" fill="#4e42db"/>
<rect x="1584" y="1018" width="13" height="13" fill="#4e3fdb"/>
<rect x="1596" y="1018" width="25" height="13" fill="#4e3fd8"/>
<rect x="1620" y="1018" width="25" height="13" fill="#513fd8"/>
<rect x="1644" y="1018" width="13" height="13" fill="#5142d8"/>
<rect x="1656" y="1018" width="25" height="13" fill="#5142db"/>
<rect x="1680" y="1018" width="13" height="13" fill="#5142de"/>
<rect x="1692" y="1018" width="13" height="13" fill="#5145de"/>
<rect x="1704" y="1018" width="37" height="13" fill="#5145e1"/>
<rect x="1740" y="1018" width="25" height="13" fill="#5148e4"/>
<rect x="1764" y="1018" width="13" height="13" fill="#4e48e4"/>
<rect x="1776" y="1018" width="25" height="13" fill="#4e48e7"/>
<rect x="1524" y="1030" width="37" height="13" fill="#4e3fdb"/>
<rect x="1560" y="1030" width="25" height="13" fill="#4e3fd8"/>
<rect x="1584" y="1030" width="13" height="13" fill="#4e3cd5"/>
<rect x="1596" y="1030" width="73" height="13" fill="#4e3cd2"/>
<rect x="1668" y="1030" width="25" height="13" fill="#4e3cd5"/>
<rect x="1692" y="1030" width="13" height="13" fill="#4e3fd8"/>
<rect x="1704" y="1030" width="37" height="13" fill="#4e3fdb"/>
<rect x="1740" y="1030" width="13" height="13" fill="#4e42db"/>
<rect x="1752" y="1030" width="13" height="13" fill="#4e42de"/>
<rect x="1764" y="1030" width="13" height="13" fill="#4e42e1"/>
<rect x="1776" y="1030" width="13" height="13" fill="#4e45e1"/>
<rect x="1536" y="1042" width="49" height="13" fill="#4e3cd5"/>
<rect x="1584" y="1042" width="13" height="13" fill="#4e39d2"/>
<rect x="1596" y="1042" width="25" height="13" fill="#4b39cf"/>
<rect x="1620" y="1042" width="37" height="13" fill="#4b36cc"/>
<rect x="1656" y="1042" width="13" height="13" fill="#4b36c9"/>
<rect x="1668" y="1042" width="25" height="13" fill="#4b36cc"/>
<rect x="1692" y="1042" width="13" height="13" fill="#4b39cf"/>
<rect x="1704" y="1042" width="37" height="13" fill="#4e39d2"/>
<rect x="1740" y="1042" width="13" height="13" fill="#4e3cd5"/>
<rect x="1752" y="1042" width="13" height="13" fill="#4e3cd8"/>
<rect x="1764" y="1042" width="13" height="13" fill="#4e3fdb"/>
<rect x="1548" y="1054" width="13" height="13" fill="#4b39d2"/>
<rect x="1560" y="1054" width="13" height="13" fill="#4b39cf"/>
<rect x="1572" y="1054" width="13" height="13" fill="#4b36cf"/>
<rect x="1584" y="1054" width="13" height="13" fill="#4b39cf"/>
<rect x="1596" y="1054" width="13" height="13" fill="#4b36cc"/>
<rect x="1608" y="1054" width="13" height="13" fill="#4b33c9"/>
<rect x="1620" y="1054" width="25" height="13" fill="#4b33c6"/>
<rect x="1644" y="1054" width="13" height="13" fill="#4b30c3"/>
<rect x="1656" y="1054" width="13" height="13" fill="#4b30c0"/>
<rect x="1668" y="1054" width="37" height="13" fill="#4b30c3"/>
<rect x="1704" y="1054" width="13" height="13" fill="#4b33c6"/>
<rect x="1716" y="1054" width="13" height="13" fill="#4b33c9"/>
<rect x="1728" y="1054" width="13" height="13" fill="#4b36cc"/>
<rect x="1740" y="1054" width="13" height="13" fill="#4b36cf"/>
<rect x="1752" y="1054" width="13" height="13" fill="#4b39d2"/>
<rect x="1560" y="1066" width="25" height="13" fill="#4b33c9"/>
<rect x="1584" y="1066" width="13" height="13" fill="#4b33c6"/>
<rect x="1596" y="1066" width="13" height="13" fill="#4b30c3"/>
<rect x="1608" y="1066" width="25" height="13" fill="#4830c3"/>
<rect x="1632" y="1066" width="13" height="13" fill="#482dc0"/>
<rect x="1644" y="1066" width="13" height="13" fill="#482dbd"/>
<rect x="1656" y="1066" width="25" height="13" fill="#482dba"/>
<rect x="1680" y="1066" width="25" height="13" fill="#482dbd"/>
<rect x="1704" y="1066" width="13" height="13" fill="#482dc0"/>
<rect x="1716" y="1066" width="13" height="13" fill="#4830c3"/>
<rect x="1728" y="1066" width="13" height="13" fill="#4b33c6"/>
<rect x="1572" y="1078" width="13" height="13" fill="#4830c3"/>
<rect x="1584" y="1078" width="13" height="13" fill="#482dbd"/>
<rect x="1596" y="1078" width="13" height="13" fill="#482dba"/>
<rect x="1608" y="1078" width="13" height="13" fill="#482dbd"/>
<rect x="1620" y="1078" width="25" height="13" fill="#482dba"/>
<rect x="1644" y="1078" width="13" height="13" fill="#482ab7"/>
<rect x="1656" y="1078" width="13" height="13" fill="#452ab4"/>
<rect x="1668" y="1078" width="13" height="13" fill="#452ab7"/>
<rect x="1680" y="1078" width="13" height="13" fill="#482ab7"/>
<rect x="1692" y="1078" width="13" height="13" fill="#482dba"/>
<rect x="1584" y="1090" width="13" height="13" fill="#482dba"/>
<rect x="1596" y="1090" width="13" height="13" fill="#482ab7"/>
<rect x="1632" y="1090" width="25" height="13" fill="#452ab4"/>
<rect x="1656" y="1090" width="13" height="13" fill="#452ab1"/>
<rect x="1668" y="1090" width="13" height="13" fill="#452ab4"/>
</g></g>
<g clip-path="url(#c_under)"><g filter="url(#bl)">
<rect x="1164" y="841" width="25" height="13" fill="#217eff"/>
<rect x="1188" y="841" width="13" height="13" fill="#217bff"/>
<rect x="1200" y="841" width="13" height="13" fill="#2478ff"/>
<rect x="1188" y="853" width="13" height="13" fill="#247bff"/>
<rect x="1200" y="853" width="13" height="13" fill="#2478ff"/>
<rect x="1212" y="853" width="13" height="13" fill="#2a72ff"/>
<rect x="1224" y="853" width="13" height="13" fill="#2d6fff"/>
<rect x="1236" y="853" width="13" height="13" fill="#306cff"/>
<rect x="1248" y="853" width="13" height="13" fill="#3669ff"/>
<rect x="1260" y="853" width="13" height="13" fill="#3666fc"/>
<rect x="1200" y="865" width="13" height="13" fill="#2775ff"/>
<rect x="1212" y="865" width="13" height="13" fill="#2d6fff"/>
<rect x="1224" y="865" width="13" height="13" fill="#306cff"/>
<rect x="1236" y="865" width="13" height="13" fill="#3369ff"/>
<rect x="1248" y="865" width="13" height="13" fill="#3666fc"/>
<rect x="1260" y="865" width="13" height="13" fill="#3966fc"/>
<rect x="1272" y="865" width="13" height="13" fill="#3c63fc"/>
<rect x="1284" y="865" width="13" height="13" fill="#3f60f9"/>
<rect x="1224" y="877" width="13" height="13" fill="#3369ff"/>
<rect x="1236" y="877" width="13" height="13" fill="#3666ff"/>
<rect x="1248" y="877" width="13" height="13" fill="#3963fc"/>
<rect x="1260" y="877" width="13" height="13" fill="#3c63fc"/>
<rect x="1272" y="877" width="13" height="13" fill="#3c63f9"/>
<rect x="1284" y="877" width="13" height="13" fill="#3f60f9"/>
<rect x="1296" y="877" width="13" height="13" fill="#425df6"/>
<rect x="1308" y="877" width="13" height="13" fill="#425af6"/>
<rect x="1236" y="889" width="13" height="13" fill="#3963fc"/>
<rect x="1248" y="889" width="13" height="13" fill="#3c63f9"/>
<rect x="1260" y="889" width="13" height="13" fill="#3f63f9"/>
<rect x="1272" y="889" width="13" height="13" fill="#3f60f9"/>
<rect x="1284" y="889" width="13" height="13" fill="#425df6"/>
<rect x="1296" y="889" width="13" height="13" fill="#425af6"/>
<rect x="1308" y="889" width="25" height="13" fill="#4557f3"/>
<rect x="1248" y="901" width="13" height="13" fill="#3f63f9"/>
<rect x="1260" y="901" width="13" height="13" fill="#3f60f9"/>
<rect x="1272" y="901" width="13" height="13" fill="#425df6"/>
<rect x="1284" y="901" width="13" height="13" fill="#425af6"/>
<rect x="1296" y="901" width="13" height="13" fill="#455af3"/>
<rect x="1308" y="901" width="13" height="13" fill="#4557f3"/>
<rect x="1320" y="901" width="13" height="13" fill="#4554f3"/>
<rect x="1284" y="913" width="13" height="13" fill="#425af6"/>
<rect x="1296" y="913" width="13" height="13" fill="#4557f3"/>
<rect x="1308" y="913" width="13" height="13" fill="#4554f3"/>
<rect x="1320" y="913" width="25" height="13" fill="#4851f0"/>
<rect x="1320" y="925" width="13" height="13" fill="#4851f0"/>
<rect x="1332" y="925" width="13" height="13" fill="#484ef0"/>
<rect x="1344" y="925" width="25" height="13" fill="#484eed"/>
</g></g>
<g clip-path="url(#c_hill)"><g filter="url(#bl)">
<rect x="715" y="421" width="13" height="13" fill="#ffcc15"/>
<rect x="727" y="421" width="13" height="13" fill="#ffcf12"/>
<rect x="739" y="421" width="13" height="13" fill="#ffd212"/>
<rect x="751" y="421" width="13" height="13" fill="#ffd20f"/>
<rect x="979" y="421" width="13" height="13" fill="#f9f60c"/>
<rect x="991" y="421" width="13" height="13" fill="#f9f90f"/>
<rect x="1003" y="421" width="25" height="13" fill="#f9f60c"/>
<rect x="691" y="433" width="13" height="13" fill="#ffc31b"/>
<rect x="703" y="433" width="13" height="13" fill="#ffc618"/>
<rect x="715" y="433" width="13" height="13" fill="#ffc915"/>
<rect x="727" y="433" width="13" height="13" fill="#ffcc15"/>
<rect x="739" y="433" width="13" height="13" fill="#ffcf12"/>
<rect x="751" y="433" width="13" height="13" fill="#ffd212"/>
<rect x="763" y="433" width="25" height="13" fill="#ffd20f"/>
<rect x="943" y="433" width="13" height="13" fill="#f9f00c"/>
<rect x="955" y="433" width="13" height="13" fill="#f9f30c"/>
<rect x="967" y="433" width="13" height="13" fill="#f9f60c"/>
<rect x="979" y="433" width="37" height="13" fill="#f9f90f"/>
<rect x="1015" y="433" width="13" height="13" fill="#f9f60c"/>
<rect x="1027" y="433" width="13" height="13" fill="#f9f30c"/>
<rect x="679" y="445" width="25" height="13" fill="#ffc01e"/>
<rect x="703" y="445" width="13" height="13" fill="#ffc31b"/>
<rect x="715" y="445" width="25" height="13" fill="#ffc618"/>
<rect x="739" y="445" width="13" height="13" fill="#ffc915"/>
<rect x="751" y="445" width="61" height="13" fill="#ffcf12"/>
<rect x="811" y="445" width="13" height="13" fill="#ffd20f"/>
<rect x="859" y="445" width="13" height="13" fill="#ffde0c"/>
<rect x="871" y="445" width="13" height="13" fill="#ffe10c"/>
<rect x="883" y="445" width="13" height="13" fill="#fce40c"/>
<rect x="895" y="445" width="13" height="13" fill="#fce70c"/>
<rect x="907" y="445" width="13" height="13" fill="#fce709"/>
<rect x="919" y="445" width="13" height="13" fill="#fcea09"/>
<rect x="931" y="445" width="13" height="13" fill="#fced0c"/>
<rect x="943" y="445" width="13" height="13" fill="#f9f00c"/>
<rect x="955" y="445" width="13" height="13" fill="#f9f30c"/>
<rect x="967" y="445" width="13" height="13" fill="#f9f60f"/>
<rect x="979" y="445" width="37" height="13" fill="#f9f90f"/>
<rect x="1015" y="445" width="13" height="13" fill="#f9f60f"/>
<rect x="1027" y="445" width="25" height="13" fill="#f9f30c"/>
<rect x="667" y="457" width="25" height="13" fill="#ffbd21"/>
<rect x="691" y="457" width="37" height="13" fill="#ffc01e"/>
<rect x="727" y="457" width="13" height="13" fill="#ffc31b"/>
<rect x="739" y="457" width="13" height="13" fill="#ffc618"/>
<rect x="751" y="457" width="49" height="13" fill="#ffc915"/>
<rect x="799" y="457" width="13" height="13" fill="#ffcc15"/>
<rect x="811" y="457" width="13" height="13" fill="#ffcf12"/>
<rect x="823" y="457" width="13" height="13" fill="#ffd20f"/>
<rect x="835" y="457" width="13" height="13" fill="#ffd50f"/>
<rect x="847" y="457" width="13" height="13" fill="#ffd80f"/>
<rect x="859" y="457" width="13" height="13" fill="#ffdb0c"/>
<rect x="871" y="457" width="13" height="13" fill="#ffde0c"/>
<rect x="883" y="457" width="13" height="13" fill="#fce10c"/>
<rect x="895" y="457" width="13" height="13" fill="#fce40c"/>
<rect x="907" y="457" width="13" height="13" fill="#fce70c"/>
<rect x="919" y="457" width="13" height="13" fill="#fcea0c"/>
<rect x="931" y="457" width="13" height="13" fill="#fced0c"/>
<rect x="943" y="457" width="13" height="13" fill="#f9f00c"/>
<rect x="955" y="457" width="13" height="13" fill="#f9f30f"/>
<rect x="967" y="457" width="13" height="13" fill="#f9f60f"/>
<rect x="979" y="457" width="37" height="13" fill="#f9f90f"/>
<rect x="1015" y="457" width="37" height="13" fill="#f9f60f"/>
<rect x="1051" y="457" width="13" height="13" fill="#f9f30f"/>
<rect x="655" y="469" width="13" height="13" fill="#ffba24"/>
<rect x="667" y="469" width="61" height="13" fill="#ffbd21"/>
<rect x="727" y="469" width="13" height="13" fill="#ffc01e"/>
<rect x="739" y="469" width="13" height="13" fill="#ffc01b"/>
<rect x="751" y="469" width="13" height="13" fill="#ffc31b"/>
<rect x="763" y="469" width="25" height="13" fill="#ffc618"/>
<rect x="787" y="469" width="13" height="13" fill="#ffc918"/>
<rect x="799" y="469" width="13" height="13" fill="#ffc915"/>
<rect x="811" y="469" width="13" height="13" fill="#ffcc15"/>
<rect x="823" y="469" width="13" height="13" fill="#ffcf12"/>
<rect x="835" y="469" width="13" height="13" fill="#ffd50f"/>
<rect x="847" y="469" width="13" height="13" fill="#ffd80f"/>
<rect x="859" y="469" width="13" height="13" fill="#ffdb0f"/>
<rect x="871" y="469" width="13" height="13" fill="#ffde0c"/>
<rect x="883" y="469" width="13" height="13" fill="#ffe10c"/>
<rect x="895" y="469" width="25" height="13" fill="#fce40c"/>
<rect x="919" y="469" width="13" height="13" fill="#fcea0c"/>
<rect x="931" y="469" width="13" height="13" fill="#fced0c"/>
<rect x="943" y="469" width="13" height="13" fill="#f9f00f"/>
<rect x="955" y="469" width="25" height="13" fill="#f9f60f"/>
<rect x="979" y="469" width="49" height="13" fill="#f9f912"/>
<rect x="1027" y="469" width="25" height="13" fill="#f9f90f"/>
<rect x="1051" y="469" width="13" height="13" fill="#f9f60f"/>
<rect x="1063" y="469" width="13" height="13" fill="#f9f30f"/>
<rect x="1075" y="469" width="13" height="13" fill="#fced0c"/>
<rect x="619" y="481" width="13" height="13" fill="#f3bd1e"/>
<rect x="631" y="481" width="13" height="13" fill="#f9ba1e"/>
<rect x="643" y="481" width="13" height="13" fill="#fcba21"/>
<rect x="655" y="481" width="13" height="13" fill="#ffba24"/>
<rect x="667" y="481" width="73" height="13" fill="#ffbd21"/>
<rect x="739" y="481" width="25" height="13" fill="#ffc01e"/>
<rect x="763" y="481" width="25" height="13" fill="#ffc31b"/>
<rect x="787" y="481" width="25" height="13" fill="#ffc618"/>
<rect x="811" y="481" width="13" height="13" fill="#ffc915"/>
<rect x="823" y="481" width="13" height="13" fill="#ffcf15"/>
<rect x="835" y="481" width="13" height="13" fill="#ffd212"/>
<rect x="847" y="481" width="13" height="13" fill="#ffd50f"/>
<rect x="859" y="481" width="13" height="13" fill="#ffdb0f"/>
<rect x="871" y="481" width="13" height="13" fill="#ffde0f"/>
<rect x="883" y="481" width="25" height="13" fill="#ffe10f"/>
<rect x="907" y="481" width="13" height="13" fill="#fce40f"/>
<rect x="919" y="481" width="13" height="13" fill="#fce70f"/>
<rect x="931" y="481" width="13" height="13" fill="#fced0f"/>
<rect x="943" y="481" width="13" height="13" fill="#f9f30f"/>
<rect x="955" y="481" width="25" height="13" fill="#f9f612"/>
<rect x="979" y="481" width="73" height="13" fill="#f9f912"/>
<rect x="1051" y="481" width="13" height="13" fill="#f9f60f"/>
<rect x="1063" y="481" width="13" height="13" fill="#f9f30f"/>
<rect x="1075" y="481" width="13" height="13" fill="#fced0c"/>
<rect x="1087" y="481" width="13" height="13" fill="#fcea0c"/>
<rect x="607" y="493" width="13" height="13" fill="#eac01b"/>
<rect x="619" y="493" width="13" height="13" fill="#f3bd1e"/>
<rect x="631" y="493" width="13" height="13" fill="#f6bd1e"/>
<rect x="643" y="493" width="13" height="13" fill="#fcba21"/>
<rect x="655" y="493" width="37" height="13" fill="#ffba24"/>
<rect x="691" y="493" width="73" height="13" fill="#ffbd21"/>
<rect x="763" y="493" width="13" height="13" fill="#ffc01e"/>
<rect x="775" y="493" width="13" height="13" fill="#ffc31e"/>
<rect x="787" y="493" width="13" height="13" fill="#ffc31b"/>
<rect x="799" y="493" width="25" height="13" fill="#ffc618"/>
<rect x="823" y="493" width="13" height="13" fill="#ffc915"/>
<rect x="835" y="493" width="13" height="13" fill="#ffcf15"/>
<rect x="847" y="493" width="13" height="13" fill="#ffd512"/>
<rect x="859" y="493" width="13" height="13" fill="#ffd80f"/>
<rect x="871" y="493" width="13" height="13" fill="#ffdb0f"/>
<rect x="883" y="493" width="13" height="13" fill="#ffde0f"/>
<rect x="895" y="493" width="25" height="13" fill="#ffde12"/>
<rect x="919" y="493" width="13" height="13" fill="#fce412"/>
<rect x="931" y="493" width="13" height="13" fill="#fced0f"/>
<rect x="943" y="493" width="25" height="13" fill="#f9f312"/>
<rect x="967" y="493" width="13" height="13" fill="#f9f612"/>
<rect x="979" y="493" width="49" height="13" fill="#f9f615"/>
<rect x="1027" y="493" width="37" height="13" fill="#f9f612"/>
<rect x="1063" y="493" width="13" height="13" fill="#f9f00f"/>
<rect x="1075" y="493" width="13" height="13" fill="#fced0f"/>
<rect x="1087" y="493" width="13" height="13" fill="#fcea0c"/>
<rect x="1099" y="493" width="13" height="13" fill="#fce40f"/>
<rect x="595" y="505" width="13" height="13" fill="#d8c31b"/>
<rect x="607" y="505" width="13" height="13" fill="#e1c01b"/>
<rect x="619" y="505" width="13" height="13" fill="#edc01b"/>
<rect x="631" y="505" width="13" height="13" fill="#f3bd1e"/>
<rect x="643" y="505" width="13" height="13" fill="#f6bd1e"/>
<rect x="655" y="505" width="13" height="13" fill="#fcba21"/>
<rect x="667" y="505" width="13" height="13" fill="#fcba24"/>
<rect x="679" y="505" width="49" height="13" fill="#ffba24"/>
<rect x="727" y="505" width="13" height="13" fill="#ffbd24"/>
<rect x="739" y="505" width="37" height="13" fill="#ffbd21"/>
<rect x="775" y="505" width="25" height="13" fill="#ffc01e"/>
<rect x="799" y="505" width="13" height="13" fill="#ffc31e"/>
<rect x="811" y="505" width="13" height="13" fill="#ffc31b"/>
<rect x="823" y="505" width="13" height="13" fill="#ffc618"/>
<rect x="835" y="505" width="13" height="13" fill="#ffcc18"/>
<rect x="847" y="505" width="13" height="13" fill="#ffcf15"/>
<rect x="859" y="505" width="13" height="13" fill="#ffd515"/>
<rect x="871" y="505" width="25" height="13" fill="#ffd815"/>
<rect x="895" y="505" width="25" height="13" fill="#ffdb15"/>
<rect x="919" y="505" width="13" height="13" fill="#ffe115"/>
<rect x="931" y="505" width="13" height="13" fill="#fce712"/>
<rect x="943" y="505" width="13" height="13" fill="#fced12"/>
<rect x="955" y="505" width="13" height="13" fill="#fcf015"/>
<rect x="967" y="505" width="85" height="13" fill="#f9f315"/>
<rect x="1051" y="505" width="13" height="13" fill="#f9f312"/>
<rect x="1063" y="505" width="13" height="13" fill="#fcf012"/>
<rect x="1075" y="505" width="13" height="13" fill="#fced0f"/>
<rect x="1087" y="505" width="13" height="13" fill="#fce70f"/>
<rect x="1099" y="505" width="13" height="13" fill="#fce40f"/>
<rect x="1111" y="505" width="13" height="13" fill="#ffde0f"/>
<rect x="571" y="517" width="13" height="13" fill="#b1c924"/>
<rect x="583" y="517" width="13" height="13" fill="#c3c91e"/>
<rect x="595" y="517" width="13" height="13" fill="#cfc61e"/>
<rect x="607" y="517" width="13" height="13" fill="#d8c31b"/>
<rect x="619" y="517" width="13" height="13" fill="#e1c31b"/>
<rect x="631" y="517" width="13" height="13" fill="#eac01b"/>
<rect x="643" y="517" width="13" height="13" fill="#f0bd1b"/>
<rect x="655" y="517" width="13" height="13" fill="#f9bd1e"/>
<rect x="667" y="517" width="25" height="13" fill="#fcba21"/>
<rect x="691" y="517" width="13" height="13" fill="#fcba24"/>
<rect x="703" y="517" width="49" height="13" fill="#ffba24"/>
<rect x="751" y="517" width="13" height="13" fill="#ffbd24"/>
<rect x="763" y="517" width="37" height="13" fill="#ffbd21"/>
<rect x="799" y="517" width="13" height="13" fill="#ffc021"/>
<rect x="811" y="517" width="13" height="13" fill="#ffc01e"/>
<rect x="823" y="517" width="13" height="13" fill="#ffc31e"/>
<rect x="835" y="517" width="13" height="13" fill="#ffc61b"/>
<rect x="847" y="517" width="13" height="13" fill="#ffcc1b"/>
<rect x="859" y="517" width="13" height="13" fill="#ffcf18"/>
<rect x="871" y="517" width="13" height="13" fill="#ffd218"/>
<rect x="883" y="517" width="13" height="13" fill="#ffd518"/>
<rect x="895" y="517" width="13" height="13" fill="#ffd51b"/>
<rect x="907" y="517" width="13" height="13" fill="#ffd81b"/>
<rect x="919" y="517" width="13" height="13" fill="#ffdb18"/>
<rect x="931" y="517" width="13" height="13" fill="#ffe418"/>
<rect x="943" y="517" width="13" height="13" fill="#fcea15"/>
<rect x="955" y="517" width="13" height="13" fill="#fced15"/>
<rect x="967" y="517" width="37" height="13" fill="#fcf018"/>
<rect x="1003" y="517" width="25" height="13" fill="#f9f318"/>
<rect x="1027" y="517" width="13" height="13" fill="#f9f018"/>
<rect x="1039" y="517" width="25" height="13" fill="#fcf015"/>
<rect x="1063" y="517" width="13" height="13" fill="#fced12"/>
<rect x="1075" y="517" width="13" height="13" fill="#fcea12"/>
<rect x="1087" y="517" width="13" height="13" fill="#fce712"/>
<rect x="1099" y="517" width="13" height="13" fill="#fce40f"/>
<rect x="1111" y="517" width="13" height="13" fill="#ffde0f"/>
<rect x="1123" y="517" width="13" height="13" fill="#ffdb0f"/>
<rect x="547" y="529" width="13" height="13" fill="#81c933"/>
<rect x="559" y="529" width="13" height="13" fill="#93c92d"/>
<rect x="571" y="529" width="13" height="13" fill="#a5c927"/>
<rect x="583" y="529" width="13" height="13" fill="#b7c924"/>
<rect x="595" y="529" width="13" height="13" fill="#c6c621"/>
<rect x="607" y="529" width="13" height="13" fill="#ccc61e"/>
<rect x="619" y="529" width="13" height="13" fill="#d2c61b"/>
<rect x="631" y="529" width="13" height="13" fill="#e1c31b"/>
<rect x="643" y="529" width="13" height="13" fill="#e7c01b"/>
<rect x="655" y="529" width="13" height="13" fill="#f3bd1e"/>
<rect x="667" y="529" width="13" height="13" fill="#f9bd1e"/>
<rect x="679" y="529" width="13" height="13" fill="#f9ba21"/>
<rect x="691" y="529" width="13" height="13" fill="#fcba21"/>
<rect x="703" y="529" width="13" height="13" fill="#fcba24"/>
<rect x="715" y="529" width="25" height="13" fill="#ffba24"/>
<rect x="739" y="529" width="13" height="13" fill="#ffba27"/>
<rect x="751" y="529" width="13" height="13" fill="#ffba24"/>
<rect x="763" y="529" width="73" height="13" fill="#ffbd24"/>
<rect x="835" y="529" width="13" height="13" fill="#ffc321"/>
<rect x="847" y="529" width="13" height="13" fill="#ffc61e"/>
<rect x="859" y="529" width="13" height="13" fill="#ffcc1e"/>
<rect x="871" y="529" width="13" height="13" fill="#ffcf1e"/>
<rect x="883" y="529" width="13" height="13" fill="#ffd21e"/>
<rect x="895" y="529" width="25" height="13" fill="#ffd221"/>
<rect x="919" y="529" width="13" height="13" fill="#ffd81e"/>
<rect x="931" y="529" width="13" height="13" fill="#ffde1b"/>
<rect x="943" y="529" width="13" height="13" fill="#fce41b"/>
<rect x="955" y="529" width="13" height="13" fill="#fcea1b"/>
<rect x="967" y="529" width="25" height="13" fill="#fced1b"/>
<rect x="991" y="529" width="49" height="13" fill="#fcf01b"/>
<rect x="1039" y="529" width="13" height="13" fill="#fced18"/>
<rect x="1051" y="529" width="13" height="13" fill="#fced15"/>
<rect x="1063" y="529" width="13" height="13" fill="#fcea15"/>
<rect x="1075" y="529" width="13" height="13" fill="#fce715"/>
<rect x="1087" y="529" width="13" height="13" fill="#fce412"/>
<rect x="1099" y="529" width="13" height="13" fill="#ffe112"/>
<rect x="1111" y="529" width="13" height="13" fill="#ffde12"/>
<rect x="1123" y="529" width="13" height="13" fill="#ffd812"/>
<rect x="1135" y="529" width="13" height="13" fill="#ffd212"/>
<rect x="1147" y="529" width="13" height="13" fill="#ffcc15"/>
<rect x="535" y="541" width="13" height="13" fill="#60cc3f"/>
<rect x="547" y="541" width="13" height="13" fill="#72cc39"/>
<rect x="559" y="541" width="13" height="13" fill="#84c936"/>
<rect x="571" y="541" width="13" height="13" fill="#93cc33"/>
<rect x="583" y="541" width="13" height="13" fill="#a8cc2d"/>
<rect x="595" y="541" width="13" height="13" fill="#c0c924"/>
<rect x="607" y="541" width="13" height="13" fill="#c3c921"/>
<rect x="619" y="541" width="13" height="13" fill="#cfc61e"/>
<rect x="631" y="541" width="13" height="13" fill="#d8c31b"/>
<rect x="643" y="541" width="13" height="13" fill="#e1c31b"/>
<rect x="655" y="541" width="13" height="13" fill="#eac01b"/>
<rect x="667" y="541" width="13" height="13" fill="#f0bd1e"/>
<rect x="679" y="541" width="13" height="13" fill="#f6bd1e"/>
<rect x="691" y="541" width="13" height="13" fill="#f9bd21"/>
<rect x="703" y="541" width="13" height="13" fill="#f9ba21"/>
<rect x="715" y="541" width="13" height="13" fill="#fcba24"/>
<rect x="727" y="541" width="13" height="13" fill="#fcba27"/>
<rect x="739" y="541" width="37" height="13" fill="#ffba27"/>
<rect x="775" y="541" width="13" height="13" fill="#ffba24"/>
<rect x="787" y="541" width="13" height="13" fill="#ffba27"/>
<rect x="799" y="541" width="13" height="13" fill="#ffba24"/>
<rect x="811" y="541" width="25" height="13" fill="#ffba27"/>
<rect x="835" y="541" width="13" height="13" fill="#ffc024"/>
<rect x="847" y="541" width="13" height="13" fill="#ffc621"/>
<rect x="859" y="541" width="13" height="13" fill="#ffc921"/>
<rect x="871" y="541" width="13" height="13" fill="#ffcc21"/>
<rect x="883" y="541" width="37" height="13" fill="#ffcf24"/>
<rect x="919" y="541" width="13" height="13" fill="#ffd524"/>
<rect x="931" y="541" width="13" height="13" fill="#ffdb21"/>
<rect x="943" y="541" width="13" height="13" fill="#ffe121"/>
<rect x="955" y="541" width="13" height="13" fill="#ffe41e"/>
<rect x="967" y="541" width="13" height="13" fill="#fce71e"/>
<rect x="979" y="541" width="13" height="13" fill="#fcea1e"/>
<rect x="991" y="541" width="49" height="13" fill="#fced1e"/>
<rect x="1039" y="541" width="13" height="13" fill="#fced1b"/>
<rect x="1051" y="541" width="13" height="13" fill="#fcea1b"/>
<rect x="1063" y="541" width="13" height="13" fill="#fce718"/>
<rect x="1075" y="541" width="13" height="13" fill="#ffe118"/>
<rect x="1087" y="541" width="25" height="13" fill="#ffe115"/>
<rect x="1111" y="541" width="13" height="13" fill="#ffde12"/>
<rect x="1123" y="541" width="13" height="13" fill="#ffdb12"/>
<rect x="1135" y="541" width="13" height="13" fill="#ffd215"/>
<rect x="1147" y="541" width="13" height="13" fill="#ffcc18"/>
<rect x="523" y="553" width="13" height="13" fill="#36cc4b"/>
<rect x="535" y="553" width="13" height="13" fill="#51cc45"/>
<rect x="547" y="553" width="13" height="13" fill="#63cc42"/>
<rect x="559" y="553" width="13" height="13" fill="#75cc3c"/>
<rect x="571" y="553" width="13" height="13" fill="#8acc39"/>
<rect x="583" y="553" width="13" height="13" fill="#9ccc36"/>
<rect x="595" y="553" width="13" height="13" fill="#abcc2d"/>
<rect x="607" y="553" width="13" height="13" fill="#b4c927"/>
<rect x="619" y="553" width="13" height="13" fill="#c0c921"/>
<rect x="631" y="553" width="13" height="13" fill="#c9c61b"/>
<rect x="643" y="553" width="13" height="13" fill="#d2c61b"/>
<rect x="655" y="553" width="13" height="13" fill="#e1c31b"/>
<rect x="667" y="553" width="13" height="13" fill="#eac01b"/>
<rect x="679" y="553" width="13" height="13" fill="#f0c01e"/>
<rect x="691" y="553" width="13" height="13" fill="#f3bd1e"/>
<rect x="703" y="553" width="13" height="13" fill="#f6bd21"/>
<rect x="715" y="553" width="13" height="13" fill="#f9bd24"/>
<rect x="727" y="553" width="13" height="13" fill="#fcbd27"/>
<rect x="739" y="553" width="13" height="13" fill="#ffba27"/>
<rect x="751" y="553" width="13" height="13" fill="#ffba2a"/>
<rect x="763" y="553" width="25" height="13" fill="#ffbd27"/>
<rect x="787" y="553" width="49" height="13" fill="#ffbd24"/>
<rect x="835" y="553" width="13" height="13" fill="#ffc024"/>
<rect x="847" y="553" width="13" height="13" fill="#ffc324"/>
<rect x="859" y="553" width="13" height="13" fill="#ffc624"/>
<rect x="871" y="553" width="13" height="13" fill="#ffc924"/>
<rect x="883" y="553" width="13" height="13" fill="#ffcc27"/>
<rect x="895" y="553" width="25" height="13" fill="#ffcc2a"/>
<rect x="919" y="553" width="13" height="13" fill="#ffd22a"/>
<rect x="931" y="553" width="13" height="13" fill="#ffd827"/>
<rect x="943" y="553" width="13" height="13" fill="#ffde24"/>
<rect x="955" y="553" width="13" height="13" fill="#ffe124"/>
<rect x="967" y="553" width="25" height="13" fill="#ffe424"/>
<rect x="991" y="553" width="13" height="13" fill="#fce724"/>
<rect x="1003" y="553" width="13" height="13" fill="#fcea24"/>
<rect x="1015" y="553" width="25" height="13" fill="#fcea21"/>
<rect x="1039" y="553" width="13" height="13" fill="#fcea1e"/>
<rect x="1051" y="553" width="13" height="13" fill="#fce71e"/>
<rect x="1063" y="553" width="13" height="13" fill="#ffe41b"/>
<rect x="1075" y="553" width="13" height="13" fill="#ffe11b"/>
<rect x="1087" y="553" width="13" height="13" fill="#ffe118"/>
<rect x="1099" y="553" width="25" height="13" fill="#ffe115"/>
<rect x="1123" y="553" width="13" height="13" fill="#ffdb12"/>
<rect x="1135" y="553" width="13" height="13" fill="#ffd515"/>
<rect x="1147" y="553" width="13" height="13" fill="#ffcc18"/>
<rect x="1159" y="553" width="13" height="13" fill="#ffc31e"/>
<rect x="511" y="565" width="13" height="13" fill="#0fcc5a"/>
<rect x="523" y="565" width="13" height="13" fill="#1ecc51"/>
<rect x="535" y="565" width="13" height="13" fill="#39cc4b"/>
<rect x="547" y="565" width="13" height="13" fill="#57cf48"/>
<rect x="559" y="565" width="13" height="13" fill="#6ccc45"/>
<rect x="571" y="565" width="13" height="13" fill="#7ecc45"/>
<rect x="583" y="565" width="13" height="13" fill="#8dcc42"/>
<rect x="595" y="565" width="13" height="13" fill="#96cc3c"/>
<rect x="607" y="565" width="13" height="13" fill="#a2cc30"/>
<rect x="619" y="565" width="13" height="13" fill="#aec927"/>
<rect x="631" y="565" width="13" height="13" fill="#bac921"/>
<rect x="643" y="565" width="13" height="13" fill="#bdc91e"/>
<rect x="655" y="565" width="13" height="13" fill="#cfc61b"/>
<rect x="667" y="565" width="13" height="13" fill="#dec31b"/>
<rect x="679" y="565" width="13" height="13" fill="#e7c01e"/>
<rect x="691" y="565" width="13" height="13" fill="#edc01e"/>
<rect x="703" y="565" width="13" height="13" fill="#f3c021"/>
<rect x="715" y="565" width="13" height="13" fill="#f9bd24"/>
<rect x="727" y="565" width="13" height="13" fill="#f9bd27"/>
<rect x="739" y="565" width="13" height="13" fill="#fcbd2a"/>
<rect x="751" y="565" width="13" height="13" fill="#ffbd2d"/>
<rect x="763" y="565" width="13" height="13" fill="#ffbd2a"/>
<rect x="775" y="565" width="13" height="13" fill="#ffbd27"/>
<rect x="787" y="565" width="61" height="13" fill="#ffc024"/>
<rect x="847" y="565" width="25" height="13" fill="#ffc327"/>
<rect x="871" y="565" width="13" height="13" fill="#ffc627"/>
<rect x="883" y="565" width="25" height="13" fill="#ffc92a"/>
<rect x="907" y="565" width="13" height="13" fill="#ffcc2d"/>
<rect x="919" y="565" width="13" height="13" fill="#ffcf2d"/>
<rect x="931" y="565" width="13" height="13" fill="#ffd52a"/>
<rect x="943" y="565" width="13" height="13" fill="#ffd82a"/>
<rect x="955" y="565" width="13" height="13" fill="#ffdb2a"/>
<rect x="967" y="565" width="13" height="13" fill="#ffde2a"/>
<rect x="979" y="565" width="13" height="13" fill="#ffe12a"/>
<rect x="991" y="565" width="13" height="13" fill="#ffe42a"/>
<rect x="1003" y="565" width="13" height="13" fill="#ffe727"/>
<rect x="1015" y="565" width="25" height="13" fill="#fce727"/>
<rect x="1039" y="565" width="13" height="13" fill="#fce724"/>
<rect x="1051" y="565" width="13" height="13" fill="#ffe421"/>
<rect x="1063" y="565" width="13" height="13" fill="#ffe121"/>
<rect x="1075" y="565" width="13" height="13" fill="#ffde1e"/>
<rect x="1087" y="565" width="13" height="13" fill="#ffde1b"/>
<rect x="1099" y="565" width="13" height="13" fill="#ffde18"/>
<rect x="1111" y="565" width="13" height="13" fill="#ffdb15"/>
<rect x="1123" y="565" width="13" height="13" fill="#ffd815"/>
<rect x="1135" y="565" width="13" height="13" fill="#ffd215"/>
<rect x="1147" y="565" width="13" height="13" fill="#ffcc18"/>
<rect x="1159" y="565" width="13" height="13" fill="#ffc021"/>
<rect x="1171" y="565" width="13" height="13" fill="#ffba24"/>
<rect x="499" y="577" width="13" height="13" fill="#06cc6f"/>
<rect x="511" y="577" width="13" height="13" fill="#09cc66"/>
<rect x="523" y="577" width="13" height="13" fill="#12cc5a"/>
<rect x="535" y="577" width="13" height="13" fill="#24cc51"/>
<rect x="547" y="577" width="13" height="13" fill="#45cf4b"/>
<rect x="559" y="577" width="13" height="13" fill="#60cf4b"/>
<rect x="571" y="577" width="13" height="13" fill="#75cf4b"/>
<rect x="583" y="577" width="13" height="13" fill="#81cf4b"/>
<rect x="595" y="577" width="13" height="13" fill="#87cf45"/>
<rect x="607" y="577" width="13" height="13" fill="#93cc39"/>
<rect x="619" y="577" width="13" height="13" fill="#a2cc2a"/>
<rect x="631" y="577" width="13" height="13" fill="#abc924"/>
<rect x="643" y="577" width="13" height="13" fill="#b1c921"/>
<rect x="655" y="577" width="13" height="13" fill="#c3c61e"/>
<rect x="667" y="577" width="13" height="13" fill="#cfc61e"/>
<rect x="679" y="577" width="13" height="13" fill="#dbc31e"/>
<rect x="691" y="577" width="13" height="13" fill="#e7c321"/>
<rect x="703" y="577" width="13" height="13" fill="#f0c024"/>
<rect x="715" y="577" width="13" height="13" fill="#f3c027"/>
<rect x="727" y="577" width="13" height="13" fill="#f9c02a"/>
<rect x="739" y="577" width="13" height="13" fill="#fcc02d"/>
<rect x="751" y="577" width="13" height="13" fill="#fcbd30"/>
<rect x="763" y="577" width="25" height="13" fill="#ffbd2d"/>
<rect x="787" y="577" width="25" height="13" fill="#ffc027"/>
<rect x="811" y="577" width="13" height="13" fill="#ffbd27"/>
<rect x="823" y="577" width="13" height="13" fill="#ffc024"/>
<rect x="835" y="577" width="13" height="13" fill="#ffbd27"/>
<rect x="847" y="577" width="13" height="13" fill="#ffbd2a"/>
<rect x="859" y="577" width="13" height="13" fill="#ffc02a"/>
<rect x="871" y="577" width="13" height="13" fill="#ffc32d"/>
<rect x="883" y="577" width="13" height="13" fill="#ffc62d"/>
<rect x="895" y="577" width="13" height="13" fill="#ffc92d"/>
<rect x="907" y="577" width="13" height="13" fill="#ffc930"/>
<rect x="919" y="577" width="13" height="13" fill="#ffcc30"/>
<rect x="931" y="577" width="13" height="13" fill="#ffcf30"/>
<rect x="943" y="577" width="13" height="13" fill="#ffd52d"/>
<rect x="955" y="577" width="13" height="13" fill="#ffd82d"/>
<rect x="967" y="577" width="13" height="13" fill="#ffdb2d"/>
<rect x="979" y="577" width="13" height="13" fill="#ffde2d"/>
<rect x="991" y="577" width="25" height="13" fill="#ffe12d"/>
<rect x="1015" y="577" width="13" height="13" fill="#ffe42d"/>
<rect x="1027" y="577" width="25" height="13" fill="#ffe42a"/>
<rect x="1051" y="577" width="13" height="13" fill="#ffe127"/>
<rect x="1063" y="577" width="13" height="13" fill="#ffde24"/>
<rect x="1075" y="577" width="13" height="13" fill="#ffdb21"/>
<rect x="1087" y="577" width="13" height="13" fill="#ffdb1e"/>
<rect x="1099" y="577" width="13" height="13" fill="#ffd81b"/>
<rect x="1111" y="577" width="13" height="13" fill="#ffd51b"/>
<rect x="1123" y="577" width="13" height="13" fill="#ffd518"/>
<rect x="1135" y="577" width="13" height="13" fill="#ffd218"/>
<rect x="1147" y="577" width="13" height="13" fill="#ffc91b"/>
<rect x="1159" y="577" width="13" height="13" fill="#ffbd24"/>
<rect x="1171" y="577" width="13" height="13" fill="#fcba24"/>
<rect x="1183" y="577" width="13" height="13" fill="#f6bd1e"/>
<rect x="487" y="589" width="13" height="13" fill="#06cc7b"/>
<rect x="499" y="589" width="13" height="13" fill="#06cc75"/>
<rect x="511" y="589" width="13" height="13" fill="#06cc6f"/>
<rect x="523" y="589" width="13" height="13" fill="#09cc63"/>
<rect x="535" y="589" width="13" height="13" fill="#15cc57"/>
<rect x="547" y="589" width="13" height="13" fill="#33cf51"/>
<rect x="559" y="589" width="13" height="13" fill="#51cf51"/>
<rect x="571" y="589" width="13" height="13" fill="#66d254"/>
<rect x="583" y="589" width="13" height="13" fill="#72d254"/>
<rect x="595" y="589" width="13" height="13" fill="#78cf4e"/>
<rect x="607" y="589" width="13" height="13" fill="#84cc3f"/>
<rect x="619" y="589" width="13" height="13" fill="#90cc33"/>
<rect x="631" y="589" width="13" height="13" fill="#99c92a"/>
<rect x="643" y="589" width="13" height="13" fill="#a2c927"/>
<rect x="655" y="589" width="13" height="13" fill="#b4c921"/>
<rect x="667" y="589" width="13" height="13" fill="#c3c921"/>
<rect x="679" y="589" width="13" height="13" fill="#cfc621"/>
<rect x="691" y="589" width="13" height="13" fill="#dbc621"/>
<rect x="703" y="589" width="13" height="13" fill="#e4c327"/>
<rect x="715" y="589" width="13" height="13" fill="#f0c32a"/>
<rect x="727" y="589" width="25" height="13" fill="#f6c330"/>
<rect x="751" y="589" width="25" height="13" fill="#f9c030"/>
<rect x="775" y="589" width="13" height="13" fill="#fcbd2d"/>
<rect x="787" y="589" width="13" height="13" fill="#ffbd2d"/>
<rect x="799" y="589" width="13" height="13" fill="#fcbd2a"/>
<rect x="811" y="589" width="13" height="13" fill="#fcbd27"/>
<rect x="823" y="589" width="13" height="13" fill="#ffba2a"/>
<rect x="835" y="589" width="13" height="13" fill="#fcbd27"/>
<rect x="847" y="589" width="13" height="13" fill="#fcbd2a"/>
<rect x="859" y="589" width="13" height="13" fill="#ffbd2d"/>
<rect x="871" y="589" width="13" height="13" fill="#ffbd30"/>
<rect x="883" y="589" width="13" height="13" fill="#ffc030"/>
<rect x="895" y="589" width="13" height="13" fill="#ffc330"/>
<rect x="907" y="589" width="13" height="13" fill="#ffc633"/>
<rect x="919" y="589" width="13" height="13" fill="#ffc933"/>
<rect x="931" y="589" width="13" height="13" fill="#ffcc33"/>
<rect x="943" y="589" width="25" height="13" fill="#ffd233"/>
<rect x="967" y="589" width="13" height="13" fill="#ffd533"/>
<rect x="979" y="589" width="13" height="13" fill="#ffd833"/>
<rect x="991" y="589" width="13" height="13" fill="#ffdb33"/>
<rect x="1003" y="589" width="13" height="13" fill="#ffde33"/>
<rect x="1015" y="589" width="25" height="13" fill="#ffde30"/>
<rect x="1039" y="589" width="13" height="13" fill="#ffde2d"/>
<rect x="1051" y="589" width="13" height="13" fill="#ffdb2a"/>
<rect x="1063" y="589" width="13" height="13" fill="#ffdb27"/>
<rect x="1075" y="589" width="13" height="13" fill="#ffdb24"/>
<rect x="1087" y="589" width="13" height="13" fill="#ffd524"/>
<rect x="1099" y="589" width="13" height="13" fill="#ffd221"/>
<rect x="1111" y="589" width="13" height="13" fill="#ffcf21"/>
<rect x="1123" y="589" width="13" height="13" fill="#ffcf1b"/>
<rect x="1135" y="589" width="13" height="13" fill="#ffd218"/>
<rect x="1147" y="589" width="13" height="13" fill="#ffc91e"/>
<rect x="1159" y="589" width="13" height="13" fill="#ffba27"/>
<rect x="1171" y="589" width="13" height="13" fill="#f6bd21"/>
<rect x="1183" y="589" width="13" height="13" fill="#edc01e"/>
<rect x="1195" y="589" width="13" height="13" fill="#e4c01b"/>
<rect x="475" y="601" width="13" height="13" fill="#06c98d"/>
<rect x="487" y="601" width="13" height="13" fill="#06c984"/>
<rect x="499" y="601" width="13" height="13" fill="#06cc7e"/>
<rect x="511" y="601" width="13" height="13" fill="#06cc75"/>
<rect x="523" y="601" width="13" height="13" fill="#06cc6f"/>
<rect x="535" y="601" width="13" height="13" fill="#0fcc63"/>
<rect x="547" y="601" width="13" height="13" fill="#1bcf57"/>
<rect x="559" y="601" width="13" height="13" fill="#3ccf57"/>
<rect x="571" y="601" width="13" height="13" fill="#57d257"/>
<rect x="583" y="601" width="13" height="13" fill="#66d257"/>
<rect x="595" y="601" width="13" height="13" fill="#66d254"/>
<rect x="607" y="601" width="13" height="13" fill="#75cf48"/>
<rect x="619" y="601" width="13" height="13" fill="#7ecc39"/>
<rect x="631" y="601" width="13" height="13" fill="#84c933"/>
<rect x="643" y="601" width="13" height="13" fill="#8ac930"/>
<rect x="655" y="601" width="13" height="13" fill="#99c92a"/>
<rect x="667" y="601" width="13" height="13" fill="#abc927"/>
<rect x="679" y="601" width="13" height="13" fill="#bac927"/>
<rect x="691" y="601" width="13" height="13" fill="#c9c927"/>
<rect x="703" y="601" width="13" height="13" fill="#d5c92a"/>
<rect x="715" y="601" width="13" height="13" fill="#e4c62d"/>
<rect x="727" y="601" width="13" height="13" fill="#edc630"/>
<rect x="739" y="601" width="25" height="13" fill="#eac633"/>
<rect x="763" y="601" width="13" height="13" fill="#edc630"/>
<rect x="775" y="601" width="13" height="13" fill="#edc32a"/>
<rect x="787" y="601" width="13" height="13" fill="#f0c327"/>
<rect x="799" y="601" width="13" height="13" fill="#f0c024"/>
<rect x="811" y="601" width="25" height="13" fill="#f3c024"/>
<rect x="835" y="601" width="13" height="13" fill="#f6bd24"/>
<rect x="847" y="601" width="13" height="13" fill="#f9bd24"/>
<rect x="859" y="601" width="13" height="13" fill="#f9bd2a"/>
<rect x="871" y="601" width="13" height="13" fill="#fcbd2d"/>
<rect x="883" y="601" width="13" height="13" fill="#ffbd33"/>
<rect x="895" y="601" width="13" height="13" fill="#ffc033"/>
<rect x="907" y="601" width="13" height="13" fill="#ffc336"/>
<rect x="919" y="601" width="13" height="13" fill="#ffc339"/>
<rect x="931" y="601" width="13" height="13" fill="#ffc639"/>
<rect x="943" y="601" width="13" height="13" fill="#ffc939"/>
<rect x="955" y="601" width="13" height="13" fill="#ffcc3c"/>
<rect x="967" y="601" width="13" height="13" fill="#ffcf3c"/>
<rect x="979" y="601" width="13" height="13" fill="#ffd539"/>
<rect x="991" y="601" width="13" height="13" fill="#ffd53c"/>
<rect x="1003" y="601" width="25" height="13" fill="#ffd839"/>
<rect x="1027" y="601" width="13" height="13" fill="#ffd539"/>
<rect x="1039" y="601" width="13" height="13" fill="#ffd236"/>
<rect x="1051" y="601" width="13" height="13" fill="#ffd233"/>
<rect x="1063" y="601" width="13" height="13" fill="#ffd230"/>
<rect x="1075" y="601" width="13" height="13" fill="#ffd52a"/>
<rect x="1087" y="601" width="13" height="13" fill="#ffcf2a"/>
<rect x="1099" y="601" width="13" height="13" fill="#ffc927"/>
<rect x="1111" y="601" width="13" height="13" fill="#ffc627"/>
<rect x="1123" y="601" width="13" height="13" fill="#ffc921"/>
<rect x="1135" y="601" width="13" height="13" fill="#ffcc1b"/>
<rect x="1147" y="601" width="13" height="13" fill="#ffc321"/>
<rect x="1159" y="601" width="13" height="13" fill="#f9bd24"/>
<rect x="1171" y="601" width="13" height="13" fill="#edc01e"/>
<rect x="1183" y="601" width="13" height="13" fill="#e1c31b"/>
<rect x="1195" y="601" width="13" height="13" fill="#d8c31b"/>
<rect x="1207" y="601" width="13" height="13" fill="#cfc61b"/>
<rect x="463" y="613" width="13" height="13" fill="#06c69c"/>
<rect x="475" y="613" width="13" height="13" fill="#06c996"/>
<rect x="487" y="613" width="13" height="13" fill="#06c990"/>
<rect x="499" y="613" width="13" height="13" fill="#06c987"/>
<rect x="511" y="613" width="13" height="13" fill="#06cc7e"/>
<rect x="523" y="613" width="13" height="13" fill="#06cc75"/>
<rect x="535" y="613" width="13" height="13" fill="#06cc6c"/>
<rect x="547" y="613" width="13" height="13" fill="#12cf63"/>
<rect x="559" y="613" width="13" height="13" fill="#21cf5d"/>
<rect x="571" y="613" width="13" height="13" fill="#3fd25a"/>
<rect x="583" y="613" width="13" height="13" fill="#4ed25d"/>
<rect x="595" y="613" width="13" height="13" fill="#4ed25a"/>
<rect x="607" y="613" width="13" height="13" fill="#5dcf4e"/>
<rect x="619" y="613" width="13" height="13" fill="#69cc42"/>
<rect x="631" y="613" width="13" height="13" fill="#6ccc3c"/>
<rect x="643" y="613" width="13" height="13" fill="#72cc39"/>
<rect x="655" y="613" width="13" height="13" fill="#81c936"/>
<rect x="667" y="613" width="13" height="13" fill="#90c930"/>
<rect x="679" y="613" width="13" height="13" fill="#9fcc30"/>
<rect x="691" y="613" width="13" height="13" fill="#abcc30"/>
<rect x="703" y="613" width="13" height="13" fill="#b7cc33"/>
<rect x="715" y="613" width="13" height="13" fill="#bdcf36"/>
<rect x="727" y="613" width="13" height="13" fill="#c0cf39"/>
<rect x="739" y="613" width="13" height="13" fill="#cccf39"/>
<rect x="751" y="613" width="13" height="13" fill="#cccc39"/>
<rect x="763" y="613" width="13" height="13" fill="#cfcc33"/>
<rect x="775" y="613" width="13" height="13" fill="#d2c92d"/>
<rect x="787" y="613" width="13" height="13" fill="#cfc92a"/>
<rect x="799" y="613" width="13" height="13" fill="#d8c624"/>
<rect x="811" y="613" width="13" height="13" fill="#dbc621"/>
<rect x="823" y="613" width="13" height="13" fill="#dec31e"/>
<rect x="835" y="613" width="13" height="13" fill="#e7c321"/>
<rect x="847" y="613" width="13" height="13" fill="#f0c021"/>
<rect x="859" y="613" width="13" height="13" fill="#f3c024"/>
<rect x="871" y="613" width="13" height="13" fill="#f9bd2a"/>
<rect x="883" y="613" width="13" height="13" fill="#ffbd30"/>
<rect x="895" y="613" width="13" height="13" fill="#ffc036"/>
<rect x="907" y="613" width="13" height="13" fill="#ffc039"/>
<rect x="919" y="613" width="13" height="13" fill="#ffc03c"/>
<rect x="931" y="613" width="13" height="13" fill="#ffc33f"/>
<rect x="943" y="613" width="13" height="13" fill="#ffc342"/>
<rect x="955" y="613" width="13" height="13" fill="#ffc645"/>
<rect x="967" y="613" width="13" height="13" fill="#ffc945"/>
<rect x="979" y="613" width="13" height="13" fill="#ffcc42"/>
<rect x="991" y="613" width="25" height="13" fill="#ffcc45"/>
<rect x="1015" y="613" width="13" height="13" fill="#ffc648"/>
<rect x="1027" y="613" width="13" height="13" fill="#ffc945"/>
<rect x="1039" y="613" width="13" height="13" fill="#ffc93f"/>
<rect x="1051" y="613" width="13" height="13" fill="#ffc93c"/>
<rect x="1063" y="613" width="13" height="13" fill="#ffc63c"/>
<rect x="1075" y="613" width="13" height="13" fill="#ffc339"/>
<rect x="1087" y="613" width="13" height="13" fill="#ffc333"/>
<rect x="1099" y="613" width="13" height="13" fill="#ffc033"/>
<rect x="1111" y="613" width="13" height="13" fill="#ffbd30"/>
<rect x="1123" y="613" width="13" height="13" fill="#ffbd2d"/>
<rect x="1135" y="613" width="13" height="13" fill="#ffbd2a"/>
<rect x="1147" y="613" width="13" height="13" fill="#f9bd27"/>
<rect x="1159" y="613" width="13" height="13" fill="#f0c021"/>
<rect x="1171" y="613" width="13" height="13" fill="#d8c31b"/>
<rect x="1183" y="613" width="13" height="13" fill="#ccc61e"/>
<rect x="1195" y="613" width="13" height="13" fill="#c3c61e"/>
<rect x="1207" y="613" width="13" height="13" fill="#bdc91e"/>
<rect x="1219" y="613" width="13" height="13" fill="#bac91e"/>
<rect x="463" y="625" width="13" height="13" fill="#06c3a5"/>
<rect x="475" y="625" width="13" height="13" fill="#06c69f"/>
<rect x="487" y="625" width="13" height="13" fill="#06c696"/>
<rect x="499" y="625" width="13" height="13" fill="#06c990"/>
<rect x="511" y="625" width="13" height="13" fill="#06c987"/>
<rect x="523" y="625" width="13" height="13" fill="#06cc7b"/>
<rect x="535" y="625" width="13" height="13" fill="#06cc75"/>
<rect x="547" y="625" width="13" height="13" fill="#09cf6c"/>
<rect x="559" y="625" width="13" height="13" fill="#18cf63"/>
<rect x="571" y="625" width="13" height="13" fill="#24cf60"/>
<rect x="583" y="625" width="13" height="13" fill="#33d25d"/>
<rect x="595" y="625" width="13" height="13" fill="#33cf5a"/>
<rect x="607" y="625" width="13" height="13" fill="#39cf54"/>
<rect x="619" y="625" width="13" height="13" fill="#45cf4b"/>
<rect x="631" y="625" width="13" height="13" fill="#51cc48"/>
<rect x="643" y="625" width="13" height="13" fill="#57cc45"/>
<rect x="655" y="625" width="13" height="13" fill="#66cc3f"/>
<rect x="667" y="625" width="13" height="13" fill="#75cc3c"/>
<rect x="679" y="625" width="13" height="13" fill="#7ecc3c"/>
<rect x="691" y="625" width="13" height="13" fill="#8acc3f"/>
<rect x="703" y="625" width="13" height="13" fill="#93cf42"/>
<rect x="715" y="625" width="13" height="13" fill="#99cf45"/>
<rect x="727" y="625" width="13" height="13" fill="#a2cf45"/>
<rect x="739" y="625" width="13" height="13" fill="#b1d242"/>
<rect x="751" y="625" width="13" height="13" fill="#b4cf3f"/>
<rect x="763" y="625" width="13" height="13" fill="#bacf3c"/>
<rect x="775" y="625" width="13" height="13" fill="#bdcc36"/>
<rect x="787" y="625" width="13" height="13" fill="#bdcc30"/>
<rect x="799" y="625" width="13" height="13" fill="#c3c927"/>
<rect x="811" y="625" width="13" height="13" fill="#c9c924"/>
<rect x="823" y="625" width="13" height="13" fill="#cfc621"/>
<rect x="835" y="625" width="13" height="13" fill="#dbc61e"/>
<rect x="847" y="625" width="13" height="13" fill="#e4c321"/>
<rect x="859" y="625" width="13" height="13" fill="#edc024"/>
<rect x="871" y="625" width="13" height="13" fill="#f3c027"/>
<rect x="883" y="625" width="13" height="13" fill="#f9c02d"/>
<rect x="895" y="625" width="13" height="13" fill="#fcc030"/>
<rect x="907" y="625" width="13" height="13" fill="#fcc036"/>
<rect x="919" y="625" width="13" height="13" fill="#fcc339"/>
<rect x="931" y="625" width="13" height="13" fill="#fcc33c"/>
<rect x="943" y="625" width="13" height="13" fill="#fcc342"/>
<rect x="955" y="625" width="13" height="13" fill="#fcc645"/>
<rect x="967" y="625" width="13" height="13" fill="#ffc648"/>
<rect x="979" y="625" width="37" height="13" fill="#ffc64b"/>
<rect x="1015" y="625" width="13" height="13" fill="#fcc64b"/>
<rect x="1027" y="625" width="13" height="13" fill="#fcc648"/>
<rect x="1039" y="625" width="13" height="13" fill="#ffc645"/>
<rect x="1051" y="625" width="13" height="13" fill="#ffc342"/>
<rect x="1063" y="625" width="13" height="13" fill="#fcc33f"/>
<rect x="1075" y="625" width="13" height="13" fill="#fcc33c"/>
<rect x="1087" y="625" width="13" height="13" fill="#fcc036"/>
<rect x="1099" y="625" width="13" height="13" fill="#fcc033"/>
<rect x="1111" y="625" width="13" height="13" fill="#fcbd30"/>
<rect x="1123" y="625" width="13" height="13" fill="#fcbd2d"/>
<rect x="1135" y="625" width="13" height="13" fill="#f9bd27"/>
<rect x="1147" y="625" width="13" height="13" fill="#f0c021"/>
<rect x="1159" y="625" width="13" height="13" fill="#e4c31e"/>
<rect x="1171" y="625" width="13" height="13" fill="#cfc61e"/>
<rect x="1183" y="625" width="13" height="13" fill="#bdc921"/>
<rect x="1195" y="625" width="13" height="13" fill="#b1c921"/>
<rect x="1207" y="625" width="13" height="13" fill="#a8c924"/>
<rect x="1219" y="625" width="25" height="13" fill="#aec921"/>
<rect x="451" y="637" width="13" height="13" fill="#06c0b1"/>
<rect x="463" y="637" width="13" height="13" fill="#06c3ae"/>
<rect x="475" y="637" width="13" height="13" fill="#06c3a5"/>
<rect x="487" y="637" width="13" height="13" fill="#06c69f"/>
<rect x="499" y="637" width="13" height="13" fill="#06c696"/>
<rect x="511" y="637" width="13" height="13" fill="#06c98d"/>
<rect x="523" y="637" width="13" height="13" fill="#06c984"/>
<rect x="535" y="637" width="13" height="13" fill="#06cc7b"/>
<rect x="547" y="637" width="13" height="13" fill="#09cc75"/>
<rect x="559" y="637" width="13" height="13" fill="#0ccf6f"/>
<rect x="571" y="637" width="13" height="13" fill="#15cf69"/>
<rect x="583" y="637" width="13" height="13" fill="#1ecf60"/>
<rect x="595" y="637" width="13" height="13" fill="#1bcf63"/>
<rect x="607" y="637" width="13" height="13" fill="#18cf5d"/>
<rect x="619" y="637" width="13" height="13" fill="#1bcf57"/>
<rect x="631" y="637" width="13" height="13" fill="#2acc51"/>
<rect x="643" y="637" width="13" height="13" fill="#3ccc4b"/>
<rect x="655" y="637" width="13" height="13" fill="#4bcf48"/>
<rect x="667" y="637" width="13" height="13" fill="#5acf48"/>
<rect x="679" y="637" width="13" height="13" fill="#60cf48"/>
<rect x="691" y="637" width="13" height="13" fill="#6ccf4b"/>
<rect x="703" y="637" width="13" height="13" fill="#78cf4b"/>
<rect x="715" y="637" width="13" height="13" fill="#84cf4e"/>
<rect x="727" y="637" width="13" height="13" fill="#90cf4e"/>
<rect x="739" y="637" width="13" height="13" fill="#9cd24b"/>
<rect x="751" y="637" width="13" height="13" fill="#a5d248"/>
<rect x="763" y="637" width="13" height="13" fill="#a8cf42"/>
<rect x="775" y="637" width="13" height="13" fill="#abcf39"/>
<rect x="787" y="637" width="13" height="13" fill="#aecc33"/>
<rect x="799" y="637" width="13" height="13" fill="#b4cc2d"/>
<rect x="811" y="637" width="13" height="13" fill="#bdc927"/>
<rect x="823" y="637" width="13" height="13" fill="#c6c921"/>
<rect x="835" y="637" width="13" height="13" fill="#cfc621"/>
<rect x="847" y="637" width="13" height="13" fill="#d8c61e"/>
<rect x="859" y="637" width="13" height="13" fill="#e4c321"/>
<rect x="871" y="637" width="13" height="13" fill="#edc324"/>
<rect x="883" y="637" width="13" height="13" fill="#f3c02a"/>
<rect x="895" y="637" width="13" height="13" fill="#f6c02d"/>
<rect x="907" y="637" width="13" height="13" fill="#f6c330"/>
<rect x="919" y="637" width="13" height="13" fill="#f6c336"/>
<rect x="931" y="637" width="13" height="13" fill="#f9c339"/>
<rect x="943" y="637" width="13" height="13" fill="#f9c63f"/>
<rect x="955" y="637" width="13" height="13" fill="#fcc642"/>
<rect x="967" y="637" width="13" height="13" fill="#fcc645"/>
<rect x="979" y="637" width="61" height="13" fill="#fcc648"/>
<rect x="1039" y="637" width="13" height="13" fill="#fcc645"/>
<rect x="1051" y="637" width="13" height="13" fill="#f9c642"/>
<rect x="1063" y="637" width="13" height="13" fill="#f9c33c"/>
<rect x="1075" y="637" width="13" height="13" fill="#f9c339"/>
<rect x="1087" y="637" width="13" height="13" fill="#f9c036"/>
<rect x="1099" y="637" width="13" height="13" fill="#fcc030"/>
<rect x="1111" y="637" width="13" height="13" fill="#f9c02d"/>
<rect x="1123" y="637" width="13" height="13" fill="#f9c02a"/>
<rect x="1135" y="637" width="13" height="13" fill="#f3c024"/>
<rect x="1147" y="637" width="13" height="13" fill="#eac021"/>
<rect x="1159" y="637" width="13" height="13" fill="#dbc31e"/>
<rect x="1171" y="637" width="13" height="13" fill="#c9c61e"/>
<rect x="1183" y="637" width="13" height="13" fill="#b4c921"/>
<rect x="1195" y="637" width="13" height="13" fill="#a5c924"/>
<rect x="1207" y="637" width="13" height="13" fill="#a2c924"/>
<rect x="1219" y="637" width="13" height="13" fill="#abc924"/>
<rect x="1231" y="637" width="13" height="13" fill="#aec921"/>
<rect x="427" y="649" width="13" height="13" fill="#06bdc3"/>
<rect x="439" y="649" width="13" height="13" fill="#06bdbd"/>
<rect x="451" y="649" width="13" height="13" fill="#06c0ba"/>
<rect x="463" y="649" width="13" height="13" fill="#06c0b4"/>
<rect x="475" y="649" width="13" height="13" fill="#06c3ae"/>
<rect x="487" y="649" width="13" height="13" fill="#06c3a5"/>
<rect x="499" y="649" width="13" height="13" fill="#06c69f"/>
<rect x="511" y="649" width="13" height="13" fill="#06c696"/>
<rect x="523" y="649" width="13" height="13" fill="#06c990"/>
<rect x="535" y="649" width="13" height="13" fill="#06c987"/>
<rect x="547" y="649" width="13" height="13" fill="#06cc7e"/>
<rect x="559" y="649" width="13" height="13" fill="#09cc78"/>
<rect x="571" y="649" width="13" height="13" fill="#0ccf75"/>
<rect x="583" y="649" width="13" height="13" fill="#0ccf78"/>
<rect x="595" y="649" width="13" height="13" fill="#0ccf75"/>
<rect x="607" y="649" width="13" height="13" fill="#0ccf69"/>
<rect x="619" y="649" width="13" height="13" fill="#12cf5d"/>
<rect x="631" y="649" width="13" height="13" fill="#15cc57"/>
<rect x="643" y="649" width="13" height="13" fill="#1ecc51"/>
<rect x="655" y="649" width="13" height="13" fill="#2acf51"/>
<rect x="667" y="649" width="13" height="13" fill="#33cf51"/>
<rect x="679" y="649" width="13" height="13" fill="#3ccf54"/>
<rect x="691" y="649" width="13" height="13" fill="#45cf54"/>
<rect x="703" y="649" width="13" height="13" fill="#60d254"/>
<rect x="715" y="649" width="13" height="13" fill="#72d254"/>
<rect x="727" y="649" width="13" height="13" fill="#81d254"/>
<rect x="739" y="649" width="13" height="13" fill="#8ad251"/>
<rect x="751" y="649" width="13" height="13" fill="#93cf4b"/>
<rect x="763" y="649" width="13" height="13" fill="#99cf45"/>
<rect x="775" y="649" width="13" height="13" fill="#99cf3f"/>
<rect x="787" y="649" width="13" height="13" fill="#9fcc36"/>
<rect x="799" y="649" width="13" height="13" fill="#a8cc2d"/>
<rect x="811" y="649" width="13" height="13" fill="#b1c927"/>
<rect x="823" y="649" width="13" height="13" fill="#bdc924"/>
<rect x="835" y="649" width="13" height="13" fill="#c6c921"/>
<rect x="847" y="649" width="13" height="13" fill="#ccc621"/>
<rect x="859" y="649" width="13" height="13" fill="#d5c621"/>
<rect x="871" y="649" width="13" height="13" fill="#e1c324"/>
<rect x="883" y="649" width="13" height="13" fill="#eac327"/>
<rect x="895" y="649" width="13" height="13" fill="#edc32a"/>
<rect x="907" y="649" width="13" height="13" fill="#edc32d"/>
<rect x="919" y="649" width="13" height="13" fill="#f0c633"/>
<rect x="931" y="649" width="13" height="13" fill="#f3c636"/>
<rect x="943" y="649" width="13" height="13" fill="#f3c63c"/>
<rect x="955" y="649" width="13" height="13" fill="#f6c63f"/>
<rect x="967" y="649" width="13" height="13" fill="#f6c642"/>
<rect x="979" y="649" width="13" height="13" fill="#f6c945"/>
<rect x="991" y="649" width="25" height="13" fill="#f6c948"/>
<rect x="1015" y="649" width="25" height="13" fill="#f6c945"/>
<rect x="1039" y="649" width="13" height="13" fill="#f6c642"/>
<rect x="1051" y="649" width="13" height="13" fill="#f6c63f"/>
<rect x="1063" y="649" width="13" height="13" fill="#f6c63c"/>
<rect x="1075" y="649" width="13" height="13" fill="#f6c336"/>
<rect x="1087" y="649" width="13" height="13" fill="#f6c333"/>
<rect x="1099" y="649" width="13" height="13" fill="#f6c030"/>
<rect x="1111" y="649" width="13" height="13" fill="#f6c02d"/>
<rect x="1123" y="649" width="13" height="13" fill="#f3c027"/>
<rect x="1135" y="649" width="13" height="13" fill="#f0c024"/>
<rect x="1147" y="649" width="13" height="13" fill="#e4c321"/>
<rect x="1159" y="649" width="13" height="13" fill="#d2c61e"/>
<rect x="1171" y="649" width="13" height="13" fill="#c0c921"/>
<rect x="1183" y="649" width="13" height="13" fill="#a8c924"/>
<rect x="1195" y="649" width="13" height="13" fill="#96c92a"/>
<rect x="1207" y="649" width="13" height="13" fill="#90c92d"/>
<rect x="1219" y="649" width="13" height="13" fill="#b4c921"/>
<rect x="1231" y="649" width="13" height="13" fill="#aec921"/>
<rect x="1243" y="649" width="13" height="13" fill="#96c92a"/>
<rect x="403" y="661" width="13" height="13" fill="#06b7cc"/>
<rect x="415" y="661" width="13" height="13" fill="#06bacc"/>
<rect x="427" y="661" width="13" height="13" fill="#06bac6"/>
<rect x="439" y="661" width="13" height="13" fill="#06bdc3"/>
<rect x="451" y="661" width="13" height="13" fill="#06bdc0"/>
<rect x="463" y="661" width="13" height="13" fill="#06c0ba"/>
<rect x="475" y="661" width="13" height="13" fill="#06c0b4"/>
<rect x="487" y="661" width="13" height="13" fill="#06c3ae"/>
<rect x="499" y="661" width="13" height="13" fill="#06c3a5"/>
<rect x="511" y="661" width="13" height="13" fill="#06c69f"/>
<rect x="523" y="661" width="13" height="13" fill="#06c699"/>
<rect x="535" y="661" width="13" height="13" fill="#06c990"/>
<rect x="547" y="661" width="13" height="13" fill="#06c98a"/>
<rect x="559" y="661" width="13" height="13" fill="#06cc84"/>
<rect x="571" y="661" width="25" height="13" fill="#09cc81"/>
<rect x="595" y="661" width="13" height="13" fill="#09cc7e"/>
<rect x="607" y="661" width="13" height="13" fill="#09cc6f"/>
<rect x="619" y="661" width="13" height="13" fill="#0ccc63"/>
<rect x="631" y="661" width="13" height="13" fill="#0fcc60"/>
<rect x="643" y="661" width="13" height="13" fill="#12cc5a"/>
<rect x="655" y="661" width="13" height="13" fill="#15cf5a"/>
<rect x="667" y="661" width="13" height="13" fill="#18cf5a"/>
<rect x="679" y="661" width="13" height="13" fill="#1bcf5a"/>
<rect x="691" y="661" width="13" height="13" fill="#27cf5a"/>
<rect x="703" y="661" width="13" height="13" fill="#42d25a"/>
<rect x="715" y="661" width="13" height="13" fill="#5ad257"/>
<rect x="727" y="661" width="13" height="13" fill="#6cd257"/>
<rect x="739" y="661" width="13" height="13" fill="#78d254"/>
<rect x="751" y="661" width="13" height="13" fill="#81cf4e"/>
<rect x="763" y="661" width="13" height="13" fill="#84cf4b"/>
<rect x="775" y="661" width="13" height="13" fill="#87cc45"/>
<rect x="787" y="661" width="13" height="13" fill="#8dcc3c"/>
<rect x="799" y="661" width="13" height="13" fill="#99cc33"/>
<rect x="811" y="661" width="13" height="13" fill="#a8cc2a"/>
<rect x="823" y="661" width="13" height="13" fill="#b4c924"/>
<rect x="835" y="661" width="13" height="13" fill="#bdc924"/>
<rect x="847" y="661" width="13" height="13" fill="#c3c921"/>
<rect x="859" y="661" width="13" height="13" fill="#ccc621"/>
<rect x="871" y="661" width="13" height="13" fill="#d8c621"/>
<rect x="883" y="661" width="13" height="13" fill="#dec624"/>
<rect x="895" y="661" width="13" height="13" fill="#e1c627"/>
<rect x="907" y="661" width="13" height="13" fill="#e1c62d"/>
<rect x="919" y="661" width="13" height="13" fill="#e4c930"/>
<rect x="931" y="661" width="13" height="13" fill="#e7c933"/>
<rect x="943" y="661" width="13" height="13" fill="#edc939"/>
<rect x="955" y="661" width="13" height="13" fill="#f0c93c"/>
<rect x="967" y="661" width="13" height="13" fill="#f0c93f"/>
<rect x="979" y="661" width="13" height="13" fill="#f0c942"/>
<rect x="991" y="661" width="37" height="13" fill="#f0c945"/>
<rect x="1027" y="661" width="13" height="13" fill="#f0c942"/>
<rect x="1039" y="661" width="13" height="13" fill="#f0c93f"/>
<rect x="1051" y="661" width="13" height="13" fill="#f0c93c"/>
<rect x="1063" y="661" width="13" height="13" fill="#f0c639"/>
<rect x="1075" y="661" width="13" height="13" fill="#f0c636"/>
<rect x="1087" y="661" width="13" height="13" fill="#f0c630"/>
<rect x="1099" y="661" width="13" height="13" fill="#f0c32d"/>
<rect x="1111" y="661" width="13" height="13" fill="#f0c32a"/>
<rect x="1123" y="661" width="13" height="13" fill="#edc327"/>
<rect x="1135" y="661" width="13" height="13" fill="#e4c321"/>
<rect x="1147" y="661" width="13" height="13" fill="#dbc61e"/>
<rect x="1159" y="661" width="13" height="13" fill="#c9c621"/>
<rect x="1171" y="661" width="13" height="13" fill="#b4c924"/>
<rect x="1183" y="661" width="13" height="13" fill="#9cc92a"/>
<rect x="1195" y="661" width="13" height="13" fill="#84c933"/>
<rect x="1207" y="661" width="13" height="13" fill="#7ec933"/>
<rect x="1219" y="661" width="13" height="13" fill="#9fc927"/>
<rect x="1231" y="661" width="13" height="13" fill="#96c92a"/>
<rect x="1243" y="661" width="13" height="13" fill="#7bc933"/>
<rect x="391" y="673" width="13" height="13" fill="#06b4d5"/>
<rect x="403" y="673" width="13" height="13" fill="#06b4d2"/>
<rect x="415" y="673" width="13" height="13" fill="#06b7cf"/>
<rect x="427" y="673" width="13" height="13" fill="#06bac9"/>
<rect x="439" y="673" width="13" height="13" fill="#06bac6"/>
<rect x="451" y="673" width="13" height="13" fill="#06bdc3"/>
<rect x="463" y="673" width="13" height="13" fill="#06bdbd"/>
<rect x="475" y="673" width="13" height="13" fill="#06c0b7"/>
<rect x="487" y="673" width="13" height="13" fill="#06c0b1"/>
<rect x="499" y="673" width="13" height="13" fill="#06c3ab"/>
<rect x="511" y="673" width="13" height="13" fill="#06c3a5"/>
<rect x="523" y="673" width="13" height="13" fill="#06c69f"/>
<rect x="535" y="673" width="13" height="13" fill="#06c699"/>
<rect x="547" y="673" width="13" height="13" fill="#06c996"/>
<rect x="559" y="673" width="13" height="13" fill="#06c990"/>
<rect x="571" y="673" width="13" height="13" fill="#06c98a"/>
<rect x="583" y="673" width="13" height="13" fill="#06cc84"/>
<rect x="595" y="673" width="13" height="13" fill="#06cc81"/>
<rect x="607" y="673" width="13" height="13" fill="#06cc78"/>
<rect x="619" y="673" width="13" height="13" fill="#06cc72"/>
<rect x="631" y="673" width="13" height="13" fill="#06cc6f"/>
<rect x="643" y="673" width="13" height="13" fill="#09cc69"/>
<rect x="655" y="673" width="13" height="13" fill="#0ccc63"/>
<rect x="667" y="673" width="13" height="13" fill="#0fcf63"/>
<rect x="679" y="673" width="13" height="13" fill="#15cf63"/>
<rect x="691" y="673" width="13" height="13" fill="#1bcf60"/>
<rect x="703" y="673" width="13" height="13" fill="#27cf5d"/>
<rect x="715" y="673" width="13" height="13" fill="#3cd25a"/>
<rect x="727" y="673" width="13" height="13" fill="#4ed25a"/>
<rect x="739" y="673" width="13" height="13" fill="#5ad257"/>
<rect x="751" y="673" width="13" height="13" fill="#63d254"/>
<rect x="763" y="673" width="13" height="13" fill="#69cf4e"/>
<rect x="775" y="673" width="13" height="13" fill="#72cf48"/>
<rect x="787" y="673" width="13" height="13" fill="#7bcc3f"/>
<rect x="799" y="673" width="13" height="13" fill="#87cc36"/>
<rect x="811" y="673" width="13" height="13" fill="#99c92d"/>
<rect x="823" y="673" width="13" height="13" fill="#a8c927"/>
<rect x="835" y="673" width="13" height="13" fill="#b1c924"/>
<rect x="847" y="673" width="13" height="13" fill="#bac924"/>
<rect x="859" y="673" width="13" height="13" fill="#c3c924"/>
<rect x="871" y="673" width="13" height="13" fill="#ccc924"/>
<rect x="883" y="673" width="25" height="13" fill="#d2c927"/>
<rect x="907" y="673" width="13" height="13" fill="#d2c92d"/>
<rect x="919" y="673" width="13" height="13" fill="#d5c930"/>
<rect x="931" y="673" width="13" height="13" fill="#dbc933"/>
<rect x="943" y="673" width="13" height="13" fill="#e1c936"/>
<rect x="955" y="673" width="13" height="13" fill="#e4c939"/>
<rect x="967" y="673" width="13" height="13" fill="#e7cc3c"/>
<rect x="979" y="673" width="13" height="13" fill="#e7cc3f"/>
<rect x="991" y="673" width="37" height="13" fill="#e7cc42"/>
<rect x="1027" y="673" width="13" height="13" fill="#e4cc3f"/>
<rect x="1039" y="673" width="13" height="13" fill="#e4cc3c"/>
<rect x="1051" y="673" width="13" height="13" fill="#e4cc39"/>
<rect x="1063" y="673" width="13" height="13" fill="#e4c936"/>
<rect x="1075" y="673" width="13" height="13" fill="#e4c933"/>
<rect x="1087" y="673" width="13" height="13" fill="#e4c630"/>
<rect x="1099" y="673" width="13" height="13" fill="#e4c62d"/>
<rect x="1111" y="673" width="13" height="13" fill="#e4c627"/>
<rect x="1123" y="673" width="13" height="13" fill="#dec624"/>
<rect x="1135" y="673" width="13" height="13" fill="#d8c621"/>
<rect x="1147" y="673" width="13" height="13" fill="#ccc621"/>
<rect x="1159" y="673" width="13" height="13" fill="#bac924"/>
<rect x="1171" y="673" width="13" height="13" fill="#a5c927"/>
<rect x="1183" y="673" width="13" height="13" fill="#8dc930"/>
<rect x="1195" y="673" width="13" height="13" fill="#75c939"/>
<rect x="1207" y="673" width="13" height="13" fill="#72c939"/>
<rect x="1219" y="673" width="13" height="13" fill="#7ec933"/>
<rect x="1231" y="673" width="13" height="13" fill="#75c939"/>
<rect x="1243" y="673" width="13" height="13" fill="#5dcc3f"/>
<rect x="1255" y="673" width="13" height="13" fill="#57cc42"/>
<rect x="259" y="685" width="13" height="13" fill="#06abe1"/>
<rect x="271" y="685" width="13" height="13" fill="#06abe4"/>
<rect x="367" y="685" width="13" height="13" fill="#06aede"/>
<rect x="379" y="685" width="13" height="13" fill="#06b1db"/>
<rect x="391" y="685" width="13" height="13" fill="#06b1d8"/>
<rect x="403" y="685" width="13" height="13" fill="#06b4d5"/>
<rect x="415" y="685" width="13" height="13" fill="#06b4d2"/>
<rect x="427" y="685" width="13" height="13" fill="#06b7cc"/>
<rect x="439" y="685" width="13" height="13" fill="#06bac6"/>
<rect x="451" y="685" width="13" height="13" fill="#06bdc3"/>
<rect x="463" y="685" width="13" height="13" fill="#06bdc0"/>
<rect x="475" y="685" width="13" height="13" fill="#06c0ba"/>
<rect x="487" y="685" width="13" height="13" fill="#06c0b4"/>
<rect x="499" y="685" width="13" height="13" fill="#06c3ae"/>
<rect x="511" y="685" width="13" height="13" fill="#06c3a8"/>
<rect x="523" y="685" width="13" height="13" fill="#06c6a5"/>
<rect x="535" y="685" width="13" height="13" fill="#06c6a2"/>
<rect x="547" y="685" width="13" height="13" fill="#06c69f"/>
<rect x="559" y="685" width="13" height="13" fill="#06c699"/>
<rect x="571" y="685" width="13" height="13" fill="#06c993"/>
<rect x="583" y="685" width="13" height="13" fill="#06c990"/>
<rect x="595" y="685" width="13" height="13" fill="#06c98a"/>
<rect x="607" y="685" width="25" height="13" fill="#06c984"/>
<rect x="631" y="685" width="13" height="13" fill="#06cc7b"/>
<rect x="643" y="685" width="13" height="13" fill="#06cc72"/>
<rect x="655" y="685" width="13" height="13" fill="#06cc6f"/>
<rect x="667" y="685" width="13" height="13" fill="#09cc6f"/>
<rect x="679" y="685" width="13" height="13" fill="#0ccf6c"/>
<rect x="691" y="685" width="13" height="13" fill="#15cf66"/>
<rect x="703" y="685" width="13" height="13" fill="#1bcf63"/>
<rect x="715" y="685" width="13" height="13" fill="#21cf5d"/>
<rect x="727" y="685" width="13" height="13" fill="#30cf5d"/>
<rect x="739" y="685" width="13" height="13" fill="#39d25a"/>
<rect x="751" y="685" width="13" height="13" fill="#39cf5a"/>
<rect x="763" y="685" width="13" height="13" fill="#45cf54"/>
<rect x="775" y="685" width="13" height="13" fill="#5dcf4e"/>
<rect x="787" y="685" width="13" height="13" fill="#69cc45"/>
<rect x="799" y="685" width="13" height="13" fill="#78cc3c"/>
<rect x="811" y="685" width="13" height="13" fill="#8ac933"/>
<rect x="823" y="685" width="13" height="13" fill="#9cc92d"/>
<rect x="835" y="685" width="13" height="13" fill="#a8c927"/>
<rect x="847" y="685" width="13" height="13" fill="#b1c924"/>
<rect x="859" y="685" width="13" height="13" fill="#bac924"/>
<rect x="871" y="685" width="13" height="13" fill="#c3c924"/>
<rect x="883" y="685" width="13" height="13" fill="#c6c927"/>
<rect x="895" y="685" width="13" height="13" fill="#c6c92a"/>
<rect x="907" y="685" width="13" height="13" fill="#c3cc2d"/>
<rect x="919" y="685" width="13" height="13" fill="#c6cc30"/>
<rect x="931" y="685" width="13" height="13" fill="#cccc33"/>
<rect x="943" y="685" width="13" height="13" fill="#d2cc36"/>
<rect x="955" y="685" width="13" height="13" fill="#d5cc39"/>
<rect x="967" y="685" width="13" height="13" fill="#d8cc3c"/>
<rect x="979" y="685" width="25" height="13" fill="#d8cf3f"/>
<rect x="1003" y="685" width="25" height="13" fill="#d8cf42"/>
<rect x="1027" y="685" width="25" height="13" fill="#d8cf3f"/>
<rect x="1051" y="685" width="13" height="13" fill="#d5cc3c"/>
<rect x="1063" y="685" width="13" height="13" fill="#d5cc39"/>
<rect x="1075" y="685" width="13" height="13" fill="#d5cc33"/>
<rect x="1087" y="685" width="13" height="13" fill="#d5c930"/>
<rect x="1099" y="685" width="13" height="13" fill="#d5c92d"/>
<rect x="1111" y="685" width="13" height="13" fill="#d2c92a"/>
<rect x="1123" y="685" width="13" height="13" fill="#ccc927"/>
<rect x="1135" y="685" width="13" height="13" fill="#c6c927"/>
<rect x="1147" y="685" width="13" height="13" fill="#bac927"/>
<rect x="1159" y="685" width="13" height="13" fill="#abc927"/>
<rect x="1171" y="685" width="13" height="13" fill="#96c92d"/>
<rect x="1183" y="685" width="13" height="13" fill="#7bc936"/>
<rect x="1195" y="685" width="13" height="13" fill="#63cc3f"/>
<rect x="1207" y="685" width="13" height="13" fill="#54cc45"/>
<rect x="1219" y="685" width="13" height="13" fill="#6fcc39"/>
<rect x="1231" y="685" width="13" height="13" fill="#66cc3c"/>
<rect x="1243" y="685" width="13" height="13" fill="#51cc45"/>
<rect x="1255" y="685" width="13" height="13" fill="#3ccc4b"/>
<rect x="1267" y="685" width="13" height="13" fill="#2dcc4e"/>
<rect x="259" y="697" width="37" height="13" fill="#06a8e7"/>
<rect x="295" y="697" width="13" height="13" fill="#09a8ea"/>
<rect x="307" y="697" width="49" height="13" fill="#09a5ea"/>
<rect x="355" y="697" width="13" height="13" fill="#06a8e7"/>
<rect x="367" y="697" width="13" height="13" fill="#06abe4"/>
<rect x="379" y="697" width="13" height="13" fill="#06aee1"/>
<rect x="391" y="697" width="13" height="13" fill="#06b1db"/>
<rect x="403" y="697" width="13" height="13" fill="#06b4d8"/>
<rect x="415" y="697" width="13" height="13" fill="#06b4d2"/>
<rect x="427" y="697" width="13" height="13" fill="#06b7cc"/>
<rect x="439" y="697" width="13" height="13" fill="#06bdc6"/>
<rect x="451" y="697" width="13" height="13" fill="#06bac6"/>
<rect x="463" y="697" width="13" height="13" fill="#06bdc3"/>
<rect x="475" y="697" width="13" height="13" fill="#06c0bd"/>
<rect x="487" y="697" width="13" height="13" fill="#06c0b4"/>
<rect x="499" y="697" width="13" height="13" fill="#06c0b1"/>
<rect x="511" y="697" width="13" height="13" fill="#06c3ab"/>
<rect x="523" y="697" width="13" height="13" fill="#06c3a5"/>
<rect x="535" y="697" width="25" height="13" fill="#06c6a2"/>
<rect x="559" y="697" width="13" height="13" fill="#06c69f"/>
<rect x="571" y="697" width="25" height="13" fill="#06c69c"/>
<rect x="595" y="697" width="13" height="13" fill="#06c996"/>
<rect x="607" y="697" width="13" height="13" fill="#06c98a"/>
<rect x="619" y="697" width="13" height="13" fill="#06c987"/>
<rect x="631" y="697" width="13" height="13" fill="#06c984"/>
<rect x="643" y="697" width="37" height="13" fill="#06cc78"/>
<rect x="679" y="697" width="13" height="13" fill="#09cc75"/>
<rect x="691" y="697" width="13" height="13" fill="#09cf6f"/>
<rect x="703" y="697" width="13" height="13" fill="#0fcf6c"/>
<rect x="715" y="697" width="13" height="13" fill="#18cf66"/>
<rect x="727" y="697" width="13" height="13" fill="#1bcf60"/>
<rect x="739" y="697" width="13" height="13" fill="#21cf5d"/>
<rect x="751" y="697" width="13" height="13" fill="#27cf5a"/>
<rect x="763" y="697" width="13" height="13" fill="#30cf57"/>
<rect x="775" y="697" width="13" height="13" fill="#42cf51"/>
<rect x="787" y="697" width="13" height="13" fill="#54cf48"/>
<rect x="799" y="697" width="13" height="13" fill="#66cc42"/>
<rect x="811" y="697" width="13" height="13" fill="#7bc939"/>
<rect x="823" y="697" width="13" height="13" fill="#8dc930"/>
<rect x="835" y="697" width="13" height="13" fill="#9cc92a"/>
<rect x="847" y="697" width="13" height="13" fill="#a8c927"/>
<rect x="859" y="697" width="13" height="13" fill="#b1c927"/>
<rect x="871" y="697" width="13" height="13" fill="#b7c927"/>
<rect x="883" y="697" width="13" height="13" fill="#bac92a"/>
<rect x="895" y="697" width="13" height="13" fill="#b7cc2d"/>
<rect x="907" y="697" width="13" height="13" fill="#b1cc30"/>
<rect x="919" y="697" width="13" height="13" fill="#b4cc33"/>
<rect x="931" y="697" width="13" height="13" fill="#bacf36"/>
<rect x="943" y="697" width="13" height="13" fill="#c0cf39"/>
<rect x="955" y="697" width="13" height="13" fill="#c3cf3c"/>
<rect x="967" y="697" width="13" height="13" fill="#c6cf3f"/>
<rect x="979" y="697" width="13" height="13" fill="#c9cf3f"/>
<rect x="991" y="697" width="13" height="13" fill="#c9cf42"/>
<rect x="1003" y="697" width="13" height="13" fill="#c9d245"/>
<rect x="1015" y="697" width="13" height="13" fill="#c6d245"/>
<rect x="1027" y="697" width="13" height="13" fill="#c6d242"/>
<rect x="1039" y="697" width="13" height="13" fill="#c6cf42"/>
<rect x="1051" y="697" width="13" height="13" fill="#c6cf3f"/>
<rect x="1063" y="697" width="13" height="13" fill="#c6cf3c"/>
<rect x="1075" y="697" width="13" height="13" fill="#c3cf39"/>
<rect x="1087" y="697" width="13" height="13" fill="#c3cc36"/>
<rect x="1099" y="697" width="13" height="13" fill="#c3cc33"/>
<rect x="1111" y="697" width="13" height="13" fill="#c0cc30"/>
<rect x="1123" y="697" width="13" height="13" fill="#bacc2d"/>
<rect x="1135" y="697" width="13" height="13" fill="#b1cc2d"/>
<rect x="1147" y="697" width="13" height="13" fill="#a8cc2d"/>
<rect x="1159" y="697" width="13" height="13" fill="#96cc30"/>
<rect x="1171" y="697" width="13" height="13" fill="#81c936"/>
<rect x="1183" y="697" width="13" height="13" fill="#69cc3f"/>
<rect x="1195" y="697" width="13" height="13" fill="#51cf48"/>
<rect x="1207" y="697" width="13" height="13" fill="#3fcc4b"/>
<rect x="1219" y="697" width="25" height="13" fill="#51cc45"/>
<rect x="1243" y="697" width="13" height="13" fill="#39cc4b"/>
<rect x="1255" y="697" width="13" height="13" fill="#24cc51"/>
<rect x="1267" y="697" width="13" height="13" fill="#15cc54"/>
<rect x="1279" y="697" width="13" height="13" fill="#0fcc5d"/>
<rect x="271" y="709" width="13" height="13" fill="#09a5ea"/>
<rect x="283" y="709" width="13" height="13" fill="#09a5ed"/>
<rect x="295" y="709" width="13" height="13" fill="#0ca5ed"/>
<rect x="307" y="709" width="25" height="13" fill="#0ca2f0"/>
<rect x="331" y="709" width="13" height="13" fill="#0fa2f0"/>
<rect x="343" y="709" width="13" height="13" fill="#0ca2f0"/>
<rect x="355" y="709" width="13" height="13" fill="#0ca5ed"/>
<rect x="367" y="709" width="13" height="13" fill="#09a5ea"/>
<rect x="379" y="709" width="13" height="13" fill="#06abe4"/>
<rect x="391" y="709" width="13" height="13" fill="#06aee1"/>
<rect x="403" y="709" width="13" height="13" fill="#06b1db"/>
<rect x="415" y="709" width="13" height="13" fill="#06b4d5"/>
<rect x="427" y="709" width="13" height="13" fill="#06b7cf"/>
<rect x="439" y="709" width="25" height="13" fill="#06bac9"/>
<rect x="463" y="709" width="13" height="13" fill="#06bac6"/>
<rect x="475" y="709" width="13" height="13" fill="#06bdc3"/>
<rect x="487" y="709" width="13" height="13" fill="#06bdbd"/>
<rect x="499" y="709" width="13" height="13" fill="#06c0ba"/>
<rect x="511" y="709" width="13" height="13" fill="#06c0b1"/>
<rect x="523" y="709" width="25" height="13" fill="#06c3a8"/>
<rect x="547" y="709" width="25" height="13" fill="#06c6a2"/>
<rect x="571" y="709" width="13" height="13" fill="#06c69f"/>
<rect x="583" y="709" width="13" height="13" fill="#06c69c"/>
<rect x="595" y="709" width="13" height="13" fill="#06c69f"/>
<rect x="607" y="709" width="13" height="13" fill="#06c996"/>
<rect x="619" y="709" width="13" height="13" fill="#06c990"/>
<rect x="631" y="709" width="13" height="13" fill="#06c98d"/>
<rect x="643" y="709" width="25" height="13" fill="#06c987"/>
<rect x="667" y="709" width="13" height="13" fill="#06c984"/>
<rect x="679" y="709" width="13" height="13" fill="#06cc81"/>
<rect x="691" y="709" width="13" height="13" fill="#09cc7b"/>
<rect x="703" y="709" width="13" height="13" fill="#09cc75"/>
<rect x="715" y="709" width="13" height="13" fill="#0ccf6c"/>
<rect x="727" y="709" width="13" height="13" fill="#12cf66"/>
<rect x="739" y="709" width="13" height="13" fill="#18cf60"/>
<rect x="751" y="709" width="13" height="13" fill="#1ecf57"/>
<rect x="763" y="709" width="13" height="13" fill="#21cf57"/>
<rect x="775" y="709" width="13" height="13" fill="#2dcf51"/>
<rect x="787" y="709" width="13" height="13" fill="#3fcf4e"/>
<rect x="799" y="709" width="13" height="13" fill="#54cf48"/>
<rect x="811" y="709" width="13" height="13" fill="#69cc3f"/>
<rect x="823" y="709" width="13" height="13" fill="#7bc939"/>
<rect x="835" y="709" width="13" height="13" fill="#8ac933"/>
<rect x="847" y="709" width="13" height="13" fill="#99c92d"/>
<rect x="859" y="709" width="13" height="13" fill="#a5cc2a"/>
<rect x="871" y="709" width="13" height="13" fill="#a8cc2d"/>
<rect x="883" y="709" width="13" height="13" fill="#abcc2d"/>
<rect x="895" y="709" width="13" height="13" fill="#a8cc30"/>
<rect x="907" y="709" width="13" height="13" fill="#9fcc36"/>
<rect x="919" y="709" width="13" height="13" fill="#9fcc39"/>
<rect x="931" y="709" width="13" height="13" fill="#a5cf3c"/>
<rect x="943" y="709" width="13" height="13" fill="#abcf3f"/>
<rect x="955" y="709" width="13" height="13" fill="#b1cf3f"/>
<rect x="967" y="709" width="13" height="13" fill="#b4cf42"/>
<rect x="979" y="709" width="13" height="13" fill="#b4d245"/>
<rect x="991" y="709" width="61" height="13" fill="#b4d248"/>
<rect x="1051" y="709" width="13" height="13" fill="#b4d245"/>
<rect x="1063" y="709" width="13" height="13" fill="#b1d242"/>
<rect x="1075" y="709" width="13" height="13" fill="#b1cf3f"/>
<rect x="1087" y="709" width="13" height="13" fill="#b1cf3c"/>
<rect x="1099" y="709" width="13" height="13" fill="#aecf39"/>
<rect x="1111" y="709" width="13" height="13" fill="#abcc36"/>
<rect x="1123" y="709" width="13" height="13" fill="#a8cc33"/>
<rect x="1135" y="709" width="13" height="13" fill="#9fcc33"/>
<rect x="1147" y="709" width="13" height="13" fill="#90cc36"/>
<rect x="1159" y="709" width="13" height="13" fill="#81cc39"/>
<rect x="1171" y="709" width="13" height="13" fill="#6ccc3f"/>
<rect x="1183" y="709" width="13" height="13" fill="#57cf48"/>
<rect x="1195" y="709" width="13" height="13" fill="#39cf4e"/>
<rect x="1207" y="709" width="13" height="13" fill="#2acf51"/>
<rect x="1219" y="709" width="13" height="13" fill="#2dcc4e"/>
<rect x="1231" y="709" width="13" height="13" fill="#2acc4e"/>
<rect x="1243" y="709" width="13" height="13" fill="#1bcc54"/>
<rect x="1255" y="709" width="13" height="13" fill="#12cc5a"/>
<rect x="1267" y="709" width="13" height="13" fill="#0ccc60"/>
<rect x="1279" y="709" width="13" height="13" fill="#09cc66"/>
<rect x="295" y="721" width="13" height="13" fill="#0f9ff3"/>
<rect x="307" y="721" width="25" height="13" fill="#129ff3"/>
<rect x="331" y="721" width="25" height="13" fill="#159cf6"/>
<rect x="355" y="721" width="13" height="13" fill="#129ff3"/>
<rect x="367" y="721" width="13" height="13" fill="#0ca2f0"/>
<rect x="379" y="721" width="13" height="13" fill="#09a5ea"/>
<rect x="415" y="721" width="13" height="13" fill="#06b1db"/>
<rect x="427" y="721" width="13" height="13" fill="#06b1d8"/>
<rect x="439" y="721" width="13" height="13" fill="#06b4d5"/>
<rect x="451" y="721" width="13" height="13" fill="#06b4d2"/>
<rect x="463" y="721" width="13" height="13" fill="#06b7cf"/>
<rect x="475" y="721" width="13" height="13" fill="#06b7cc"/>
<rect x="487" y="721" width="13" height="13" fill="#06bac9"/>
<rect x="499" y="721" width="13" height="13" fill="#06bdc3"/>
<rect x="511" y="721" width="13" height="13" fill="#06bdc0"/>
<rect x="523" y="721" width="13" height="13" fill="#06c0b7"/>
<rect x="535" y="721" width="13" height="13" fill="#06c0b1"/>
<rect x="547" y="721" width="13" height="13" fill="#06c3ae"/>
<rect x="559" y="721" width="13" height="13" fill="#06c3ab"/>
<rect x="571" y="721" width="13" height="13" fill="#06c3a5"/>
<rect x="583" y="721" width="25" height="13" fill="#06c6a2"/>
<rect x="607" y="721" width="13" height="13" fill="#06c69f"/>
<rect x="619" y="721" width="25" height="13" fill="#06c699"/>
<rect x="643" y="721" width="25" height="13" fill="#06c993"/>
<rect x="667" y="721" width="13" height="13" fill="#06c990"/>
<rect x="679" y="721" width="13" height="13" fill="#06c98a"/>
<rect x="691" y="721" width="13" height="13" fill="#06cc84"/>
<rect x="703" y="721" width="13" height="13" fill="#09cc7b"/>
<rect x="715" y="721" width="13" height="13" fill="#09cc75"/>
<rect x="727" y="721" width="13" height="13" fill="#09cc72"/>
<rect x="739" y="721" width="13" height="13" fill="#0ccf69"/>
<rect x="751" y="721" width="13" height="13" fill="#12cf60"/>
<rect x="763" y="721" width="13" height="13" fill="#15cf5a"/>
<rect x="775" y="721" width="13" height="13" fill="#18cf57"/>
<rect x="787" y="721" width="13" height="13" fill="#24cf51"/>
<rect x="799" y="721" width="13" height="13" fill="#36cf4e"/>
<rect x="811" y="721" width="13" height="13" fill="#4bcf48"/>
<rect x="823" y="721" width="13" height="13" fill="#5dcc45"/>
<rect x="835" y="721" width="13" height="13" fill="#72cc3f"/>
<rect x="847" y="721" width="13" height="13" fill="#84cc39"/>
<rect x="859" y="721" width="13" height="13" fill="#90cc33"/>
<rect x="871" y="721" width="13" height="13" fill="#96cc33"/>
<rect x="883" y="721" width="13" height="13" fill="#96cc36"/>
<rect x="895" y="721" width="13" height="13" fill="#90cc39"/>
<rect x="907" y="721" width="13" height="13" fill="#87cc3f"/>
<rect x="919" y="721" width="13" height="13" fill="#87cc45"/>
<rect x="931" y="721" width="13" height="13" fill="#8acf45"/>
<rect x="943" y="721" width="13" height="13" fill="#93cf45"/>
<rect x="955" y="721" width="13" height="13" fill="#99cf48"/>
<rect x="967" y="721" width="13" height="13" fill="#9cd24b"/>
<rect x="979" y="721" width="13" height="13" fill="#9fd24b"/>
<rect x="991" y="721" width="13" height="13" fill="#9fd24e"/>
<rect x="1003" y="721" width="49" height="13" fill="#9fd251"/>
<rect x="1051" y="721" width="13" height="13" fill="#9fd24e"/>
<rect x="1063" y="721" width="13" height="13" fill="#9cd24e"/>
<rect x="1075" y="721" width="13" height="13" fill="#9cd24b"/>
<rect x="1087" y="721" width="13" height="13" fill="#99cf48"/>
<rect x="1099" y="721" width="13" height="13" fill="#99cf42"/>
<rect x="1111" y="721" width="13" height="13" fill="#96cf42"/>
<rect x="1123" y="721" width="13" height="13" fill="#90cc3f"/>
<rect x="1135" y="721" width="13" height="13" fill="#8acc3f"/>
<rect x="1147" y="721" width="13" height="13" fill="#7ecc3f"/>
<rect x="1159" y="721" width="13" height="13" fill="#6ccc45"/>
<rect x="1171" y="721" width="13" height="13" fill="#5acf48"/>
<rect x="1183" y="721" width="13" height="13" fill="#39cf51"/>
<rect x="1195" y="721" width="13" height="13" fill="#1bcf57"/>
<rect x="1207" y="721" width="13" height="13" fill="#12cf5d"/>
<rect x="1219" y="721" width="13" height="13" fill="#15cc57"/>
<rect x="1231" y="721" width="13" height="13" fill="#12cc5a"/>
<rect x="1243" y="721" width="13" height="13" fill="#0fcc60"/>
<rect x="1255" y="721" width="13" height="13" fill="#09cc66"/>
<rect x="1267" y="721" width="13" height="13" fill="#06cc6c"/>
<rect x="1279" y="721" width="13" height="13" fill="#06cc6f"/>
<rect x="1291" y="721" width="13" height="13" fill="#06cc75"/>
<rect x="331" y="733" width="25" height="13" fill="#1899f9"/>
<rect x="355" y="733" width="13" height="13" fill="#159cf6"/>
<rect x="367" y="733" width="13" height="13" fill="#129ff3"/>
<rect x="439" y="733" width="13" height="13" fill="#06aedb"/>
<rect x="451" y="733" width="13" height="13" fill="#06b1db"/>
<rect x="463" y="733" width="13" height="13" fill="#06b1d8"/>
<rect x="475" y="733" width="13" height="13" fill="#06b4d5"/>
<rect x="487" y="733" width="13" height="13" fill="#06b4d2"/>
<rect x="499" y="733" width="13" height="13" fill="#06b7cc"/>
<rect x="511" y="733" width="13" height="13" fill="#06bac6"/>
<rect x="523" y="733" width="13" height="13" fill="#06bdc0"/>
<rect x="535" y="733" width="13" height="13" fill="#06c0bd"/>
<rect x="547" y="733" width="13" height="13" fill="#06c0b7"/>
<rect x="559" y="733" width="13" height="13" fill="#06c0b4"/>
<rect x="571" y="733" width="13" height="13" fill="#06c3b1"/>
<rect x="583" y="733" width="13" height="13" fill="#06c3ae"/>
<rect x="595" y="733" width="13" height="13" fill="#06c3ab"/>
<rect x="607" y="733" width="25" height="13" fill="#06c3a8"/>
<rect x="631" y="733" width="13" height="13" fill="#06c6a5"/>
<rect x="643" y="733" width="13" height="13" fill="#06c69f"/>
<rect x="655" y="733" width="13" height="13" fill="#06c69c"/>
<rect x="667" y="733" width="13" height="13" fill="#06c696"/>
<rect x="679" y="733" width="13" height="13" fill="#06c993"/>
<rect x="691" y="733" width="13" height="13" fill="#06c98d"/>
<rect x="703" y="733" width="13" height="13" fill="#06c987"/>
<rect x="715" y="733" width="13" height="13" fill="#06cc81"/>
<rect x="727" y="733" width="13" height="13" fill="#06cc7b"/>
<rect x="739" y="733" width="13" height="13" fill="#09cc72"/>
<rect x="751" y="733" width="13" height="13" fill="#09cc6c"/>
<rect x="763" y="733" width="13" height="13" fill="#0ccc63"/>
<rect x="775" y="733" width="13" height="13" fill="#0fcc60"/>
<rect x="787" y="733" width="13" height="13" fill="#15cc5a"/>
<rect x="799" y="733" width="13" height="13" fill="#18cf54"/>
<rect x="811" y="733" width="13" height="13" fill="#21cf54"/>
<rect x="823" y="733" width="13" height="13" fill="#33cf51"/>
<rect x="835" y="733" width="13" height="13" fill="#57cf48"/>
<rect x="847" y="733" width="13" height="13" fill="#6fcc42"/>
<rect x="859" y="733" width="13" height="13" fill="#7ecc3f"/>
<rect x="871" y="733" width="13" height="13" fill="#84cc3c"/>
<rect x="883" y="733" width="13" height="13" fill="#87cc3f"/>
<rect x="895" y="733" width="13" height="13" fill="#7ecc42"/>
<rect x="907" y="733" width="13" height="13" fill="#6fcf4b"/>
<rect x="919" y="733" width="13" height="13" fill="#6ccf4e"/>
<rect x="931" y="733" width="13" height="13" fill="#75cf4e"/>
<rect x="943" y="733" width="13" height="13" fill="#7bcf4e"/>
<rect x="955" y="733" width="13" height="13" fill="#81cf51"/>
<rect x="967" y="733" width="13" height="13" fill="#87d251"/>
<rect x="979" y="733" width="13" height="13" fill="#8ad254"/>
<rect x="991" y="733" width="13" height="13" fill="#8ad257"/>
<rect x="1003" y="733" width="37" height="13" fill="#8ad25a"/>
<rect x="1039" y="733" width="13" height="13" fill="#8dd25a"/>
<rect x="1051" y="733" width="13" height="13" fill="#8ad25a"/>
<rect x="1063" y="733" width="13" height="13" fill="#8ad257"/>
<rect x="1075" y="733" width="13" height="13" fill="#87d254"/>
<rect x="1087" y="733" width="13" height="13" fill="#84d251"/>
<rect x="1099" y="733" width="13" height="13" fill="#84cf4e"/>
<rect x="1111" y="733" width="13" height="13" fill="#81cf4b"/>
<rect x="1123" y="733" width="13" height="13" fill="#7bcf48"/>
<rect x="1135" y="733" width="13" height="13" fill="#75cf48"/>
<rect x="1147" y="733" width="13" height="13" fill="#69cf4b"/>
<rect x="1159" y="733" width="13" height="13" fill="#57cf4e"/>
<rect x="1171" y="733" width="13" height="13" fill="#39cf51"/>
<rect x="1183" y="733" width="13" height="13" fill="#1bcf5a"/>
<rect x="1195" y="733" width="13" height="13" fill="#12cf63"/>
<rect x="1207" y="733" width="13" height="13" fill="#0ccf66"/>
<rect x="1219" y="733" width="13" height="13" fill="#0ccf69"/>
<rect x="1231" y="733" width="13" height="13" fill="#09cc69"/>
<rect x="1243" y="733" width="13" height="13" fill="#06cc6c"/>
<rect x="1255" y="733" width="13" height="13" fill="#06cc6f"/>
<rect x="1267" y="733" width="13" height="13" fill="#06cc75"/>
<rect x="1279" y="733" width="13" height="13" fill="#06cc78"/>
<rect x="1291" y="733" width="13" height="13" fill="#06cc7b"/>
<rect x="1303" y="733" width="13" height="13" fill="#06c981"/>
<rect x="487" y="745" width="13" height="13" fill="#06b1db"/>
<rect x="499" y="745" width="13" height="13" fill="#06b4d5"/>
<rect x="511" y="745" width="13" height="13" fill="#06b4d2"/>
<rect x="523" y="745" width="13" height="13" fill="#06b7cc"/>
<rect x="535" y="745" width="13" height="13" fill="#06bac6"/>
<rect x="547" y="745" width="13" height="13" fill="#06bdbd"/>
<rect x="559" y="745" width="25" height="13" fill="#06c0ba"/>
<rect x="583" y="745" width="25" height="13" fill="#06c0b7"/>
<rect x="607" y="745" width="13" height="13" fill="#06c0b1"/>
<rect x="619" y="745" width="13" height="13" fill="#06c3ae"/>
<rect x="631" y="745" width="13" height="13" fill="#06c3ab"/>
<rect x="643" y="745" width="13" height="13" fill="#06c3a5"/>
<rect x="655" y="745" width="13" height="13" fill="#06c6a2"/>
<rect x="667" y="745" width="13" height="13" fill="#06c69f"/>
<rect x="679" y="745" width="13" height="13" fill="#06c699"/>
<rect x="691" y="745" width="13" height="13" fill="#06c996"/>
<rect x="703" y="745" width="13" height="13" fill="#06c990"/>
<rect x="715" y="745" width="13" height="13" fill="#06c98a"/>
<rect x="727" y="745" width="13" height="13" fill="#06cc84"/>
<rect x="739" y="745" width="13" height="13" fill="#06cc7b"/>
<rect x="751" y="745" width="13" height="13" fill="#06cc75"/>
<rect x="763" y="745" width="13" height="13" fill="#06cc6f"/>
<rect x="775" y="745" width="13" height="13" fill="#09cc69"/>
<rect x="787" y="745" width="13" height="13" fill="#0ccc63"/>
<rect x="799" y="745" width="13" height="13" fill="#0fcf60"/>
<rect x="811" y="745" width="13" height="13" fill="#15cf5d"/>
<rect x="823" y="745" width="13" height="13" fill="#1bcf5a"/>
<rect x="835" y="745" width="13" height="13" fill="#3ccf51"/>
<rect x="847" y="745" width="13" height="13" fill="#5dcf4b"/>
<rect x="859" y="745" width="13" height="13" fill="#6fcf48"/>
<rect x="871" y="745" width="13" height="13" fill="#75cf45"/>
<rect x="883" y="745" width="13" height="13" fill="#78cf45"/>
<rect x="895" y="745" width="13" height="13" fill="#6ccf4b"/>
<rect x="907" y="745" width="13" height="13" fill="#5ad254"/>
<rect x="919" y="745" width="13" height="13" fill="#54d257"/>
<rect x="931" y="745" width="13" height="13" fill="#5ad257"/>
<rect x="943" y="745" width="13" height="13" fill="#66d257"/>
<rect x="955" y="745" width="13" height="13" fill="#6cd257"/>
<rect x="967" y="745" width="13" height="13" fill="#72d25a"/>
<rect x="979" y="745" width="13" height="13" fill="#75d55d"/>
<rect x="991" y="745" width="25" height="13" fill="#78d560"/>
<rect x="1015" y="745" width="37" height="13" fill="#78d563"/>
<rect x="1051" y="745" width="13" height="13" fill="#78d560"/>
<rect x="1063" y="745" width="13" height="13" fill="#75d560"/>
<rect x="1075" y="745" width="13" height="13" fill="#72d55d"/>
<rect x="1087" y="745" width="13" height="13" fill="#72d25a"/>
<rect x="1099" y="745" width="13" height="13" fill="#6fd257"/>
<rect x="1111" y="745" width="13" height="13" fill="#6cd254"/>
<rect x="1123" y="745" width="13" height="13" fill="#66d254"/>
<rect x="1135" y="745" width="13" height="13" fill="#60d251"/>
<rect x="1147" y="745" width="13" height="13" fill="#51cf54"/>
<rect x="1159" y="745" width="13" height="13" fill="#36cf57"/>
<rect x="1171" y="745" width="13" height="13" fill="#1bcf5d"/>
<rect x="1183" y="745" width="13" height="13" fill="#12cf66"/>
<rect x="1195" y="745" width="13" height="13" fill="#09cf6f"/>
<rect x="1207" y="745" width="25" height="13" fill="#09cc72"/>
<rect x="1231" y="745" width="13" height="13" fill="#06cc72"/>
<rect x="1243" y="745" width="13" height="13" fill="#06cc75"/>
<rect x="1255" y="745" width="13" height="13" fill="#06cc78"/>
<rect x="1267" y="745" width="13" height="13" fill="#06cc7b"/>
<rect x="1279" y="745" width="13" height="13" fill="#06cc81"/>
<rect x="1291" y="745" width="13" height="13" fill="#06c987"/>
<rect x="1303" y="745" width="13" height="13" fill="#06c98a"/>
<rect x="1315" y="745" width="13" height="13" fill="#06c990"/>
<rect x="499" y="757" width="13" height="13" fill="#06aede"/>
<rect x="511" y="757" width="13" height="13" fill="#06aedb"/>
<rect x="523" y="757" width="13" height="13" fill="#06b1d8"/>
<rect x="535" y="757" width="13" height="13" fill="#06b7cf"/>
<rect x="547" y="757" width="13" height="13" fill="#06bac9"/>
<rect x="559" y="757" width="13" height="13" fill="#06bac6"/>
<rect x="571" y="757" width="13" height="13" fill="#06bdc3"/>
<rect x="583" y="757" width="25" height="13" fill="#06bdc0"/>
<rect x="607" y="757" width="13" height="13" fill="#06c0ba"/>
<rect x="619" y="757" width="13" height="13" fill="#06c0b4"/>
<rect x="631" y="757" width="13" height="13" fill="#06c3b1"/>
<rect x="643" y="757" width="13" height="13" fill="#06c3ab"/>
<rect x="655" y="757" width="13" height="13" fill="#06c3a8"/>
<rect x="667" y="757" width="13" height="13" fill="#06c3a5"/>
<rect x="679" y="757" width="13" height="13" fill="#06c6a2"/>
<rect x="691" y="757" width="13" height="13" fill="#06c69c"/>
<rect x="703" y="757" width="13" height="13" fill="#06c996"/>
<rect x="715" y="757" width="13" height="13" fill="#06c990"/>
<rect x="727" y="757" width="13" height="13" fill="#06c98a"/>
<rect x="739" y="757" width="13" height="13" fill="#06c984"/>
<rect x="751" y="757" width="13" height="13" fill="#06cc7e"/>
<rect x="763" y="757" width="13" height="13" fill="#06cc78"/>
<rect x="775" y="757" width="13" height="13" fill="#06cc72"/>
<rect x="787" y="757" width="13" height="13" fill="#06cc6c"/>
<rect x="799" y="757" width="13" height="13" fill="#0ccf69"/>
<rect x="811" y="757" width="13" height="13" fill="#12cf63"/>
<rect x="823" y="757" width="13" height="13" fill="#18cf60"/>
<rect x="835" y="757" width="13" height="13" fill="#2acf5a"/>
<rect x="847" y="757" width="13" height="13" fill="#48cf54"/>
<rect x="859" y="757" width="13" height="13" fill="#5dcf51"/>
<rect x="871" y="757" width="25" height="13" fill="#66cf51"/>
<rect x="895" y="757" width="13" height="13" fill="#57d254"/>
<rect x="907" y="757" width="13" height="13" fill="#3cd25a"/>
<rect x="919" y="757" width="13" height="13" fill="#36d25d"/>
<rect x="931" y="757" width="13" height="13" fill="#3cd25d"/>
<rect x="943" y="757" width="13" height="13" fill="#45d25d"/>
<rect x="955" y="757" width="13" height="13" fill="#51d25d"/>
<rect x="967" y="757" width="13" height="13" fill="#57d260"/>
<rect x="979" y="757" width="13" height="13" fill="#5ad563"/>
<rect x="991" y="757" width="13" height="13" fill="#5ad566"/>
<rect x="1003" y="757" width="13" height="13" fill="#5dd566"/>
<rect x="1015" y="757" width="25" height="13" fill="#5dd569"/>
<rect x="1039" y="757" width="13" height="13" fill="#60d569"/>
<rect x="1051" y="757" width="13" height="13" fill="#5dd569"/>
<rect x="1063" y="757" width="13" height="13" fill="#5dd566"/>
<rect x="1075" y="757" width="13" height="13" fill="#5ad566"/>
<rect x="1087" y="757" width="13" height="13" fill="#57d563"/>
<rect x="1099" y="757" width="13" height="13" fill="#51d260"/>
<rect x="1111" y="757" width="13" height="13" fill="#4bd260"/>
<rect x="1123" y="757" width="13" height="13" fill="#45d25d"/>
<rect x="1135" y="757" width="13" height="13" fill="#3fd25a"/>
<rect x="1147" y="757" width="13" height="13" fill="#2dcf5d"/>
<rect x="1159" y="757" width="13" height="13" fill="#1ecf63"/>
<rect x="1171" y="757" width="13" height="13" fill="#15cf69"/>
<rect x="1183" y="757" width="13" height="13" fill="#0ccf72"/>
<rect x="1195" y="757" width="13" height="13" fill="#0ccc78"/>
<rect x="1207" y="757" width="13" height="13" fill="#09cc7e"/>
<rect x="1219" y="757" width="13" height="13" fill="#09cc7b"/>
<rect x="1231" y="757" width="13" height="13" fill="#06cc7b"/>
<rect x="1243" y="757" width="13" height="13" fill="#06cc7e"/>
<rect x="1255" y="757" width="13" height="13" fill="#06cc81"/>
<rect x="1267" y="757" width="13" height="13" fill="#06c984"/>
<rect x="1279" y="757" width="13" height="13" fill="#06c98a"/>
<rect x="1291" y="757" width="13" height="13" fill="#06c990"/>
<rect x="1303" y="757" width="13" height="13" fill="#06c993"/>
<rect x="1315" y="757" width="13" height="13" fill="#06c699"/>
<rect x="1327" y="757" width="13" height="13" fill="#06c69c"/>
<rect x="523" y="769" width="13" height="13" fill="#06aede"/>
<rect x="535" y="769" width="13" height="13" fill="#06b1d8"/>
<rect x="547" y="769" width="13" height="13" fill="#06b4d5"/>
<rect x="559" y="769" width="13" height="13" fill="#06b7cf"/>
<rect x="571" y="769" width="13" height="13" fill="#06b7cc"/>
<rect x="583" y="769" width="13" height="13" fill="#06bac9"/>
<rect x="595" y="769" width="13" height="13" fill="#06bac6"/>
<rect x="607" y="769" width="13" height="13" fill="#06bdc3"/>
<rect x="619" y="769" width="13" height="13" fill="#06bdbd"/>
<rect x="631" y="769" width="13" height="13" fill="#06c0b7"/>
<rect x="643" y="769" width="13" height="13" fill="#06c0b1"/>
<rect x="655" y="769" width="13" height="13" fill="#06c3ae"/>
<rect x="667" y="769" width="13" height="13" fill="#06c3ab"/>
<rect x="679" y="769" width="13" height="13" fill="#06c3a8"/>
<rect x="691" y="769" width="13" height="13" fill="#06c6a5"/>
<rect x="703" y="769" width="13" height="13" fill="#06c69f"/>
<rect x="715" y="769" width="13" height="13" fill="#06c699"/>
<rect x="727" y="769" width="13" height="13" fill="#06c993"/>
<rect x="739" y="769" width="13" height="13" fill="#06c98d"/>
<rect x="751" y="769" width="13" height="13" fill="#06c987"/>
<rect x="763" y="769" width="13" height="13" fill="#06cc7e"/>
<rect x="775" y="769" width="13" height="13" fill="#06cc78"/>
<rect x="787" y="769" width="13" height="13" fill="#06cc75"/>
<rect x="799" y="769" width="13" height="13" fill="#09cc6f"/>
<rect x="811" y="769" width="13" height="13" fill="#0ccf6c"/>
<rect x="823" y="769" width="13" height="13" fill="#15cf66"/>
<rect x="835" y="769" width="13" height="13" fill="#1ecf60"/>
<rect x="847" y="769" width="13" height="13" fill="#33cf5a"/>
<rect x="859" y="769" width="13" height="13" fill="#45d25a"/>
<rect x="871" y="769" width="13" height="13" fill="#4ed257"/>
<rect x="883" y="769" width="13" height="13" fill="#4bd25a"/>
<rect x="895" y="769" width="13" height="13" fill="#39d25d"/>
<rect x="907" y="769" width="13" height="13" fill="#24d263"/>
<rect x="919" y="769" width="13" height="13" fill="#21d266"/>
<rect x="931" y="769" width="13" height="13" fill="#24d266"/>
<rect x="943" y="769" width="13" height="13" fill="#2ad263"/>
<rect x="955" y="769" width="13" height="13" fill="#30d263"/>
<rect x="967" y="769" width="13" height="13" fill="#36d266"/>
<rect x="979" y="769" width="13" height="13" fill="#39d266"/>
<rect x="991" y="769" width="13" height="13" fill="#39d569"/>
<rect x="1003" y="769" width="13" height="13" fill="#3cd56c"/>
<rect x="1015" y="769" width="25" height="13" fill="#3fd56c"/>
<rect x="1039" y="769" width="13" height="13" fill="#3fd56f"/>
<rect x="1051" y="769" width="25" height="13" fill="#3fd56c"/>
<rect x="1075" y="769" width="13" height="13" fill="#3cd56c"/>
<rect x="1087" y="769" width="13" height="13" fill="#36d569"/>
<rect x="1099" y="769" width="13" height="13" fill="#30d269"/>
<rect x="1111" y="769" width="13" height="13" fill="#2dd269"/>
<rect x="1123" y="769" width="13" height="13" fill="#27d269"/>
<rect x="1135" y="769" width="13" height="13" fill="#21d269"/>
<rect x="1147" y="769" width="13" height="13" fill="#1bcf6c"/>
<rect x="1159" y="769" width="13" height="13" fill="#12cf72"/>
<rect x="1171" y="769" width="13" height="13" fill="#0fcf78"/>
<rect x="1183" y="769" width="13" height="13" fill="#0ccc7b"/>
<rect x="1195" y="769" width="13" height="13" fill="#09cc81"/>
<rect x="1207" y="769" width="25" height="13" fill="#09cc84"/>
<rect x="1231" y="769" width="13" height="13" fill="#06cc84"/>
<rect x="1243" y="769" width="13" height="13" fill="#06c987"/>
<rect x="1255" y="769" width="13" height="13" fill="#06c98a"/>
<rect x="1267" y="769" width="13" height="13" fill="#06c990"/>
<rect x="1279" y="769" width="13" height="13" fill="#06c993"/>
<rect x="1291" y="769" width="13" height="13" fill="#06c699"/>
<rect x="1303" y="769" width="13" height="13" fill="#06c69c"/>
<rect x="1315" y="769" width="13" height="13" fill="#06c6a2"/>
<rect x="1327" y="769" width="13" height="13" fill="#06c3a5"/>
<rect x="535" y="781" width="13" height="13" fill="#06aee1"/>
<rect x="547" y="781" width="13" height="13" fill="#06aedb"/>
<rect x="559" y="781" width="13" height="13" fill="#06b1d8"/>
<rect x="571" y="781" width="13" height="13" fill="#06b4d5"/>
<rect x="583" y="781" width="13" height="13" fill="#06b4d2"/>
<rect x="595" y="781" width="13" height="13" fill="#06b7cf"/>
<rect x="607" y="781" width="13" height="13" fill="#06b7cc"/>
<rect x="619" y="781" width="13" height="13" fill="#06bac6"/>
<rect x="631" y="781" width="13" height="13" fill="#06bdc0"/>
<rect x="643" y="781" width="13" height="13" fill="#06c0ba"/>
<rect x="655" y="781" width="13" height="13" fill="#06c0b4"/>
<rect x="667" y="781" width="13" height="13" fill="#06c3b1"/>
<rect x="679" y="781" width="13" height="13" fill="#06c3ae"/>
<rect x="691" y="781" width="13" height="13" fill="#06c3ab"/>
<rect x="703" y="781" width="13" height="13" fill="#06c3a5"/>
<rect x="715" y="781" width="13" height="13" fill="#06c6a2"/>
<rect x="727" y="781" width="13" height="13" fill="#06c69c"/>
<rect x="739" y="781" width="13" height="13" fill="#06c996"/>
<rect x="751" y="781" width="13" height="13" fill="#06c990"/>
<rect x="763" y="781" width="13" height="13" fill="#06c987"/>
<rect x="775" y="781" width="13" height="13" fill="#06cc81"/>
<rect x="787" y="781" width="13" height="13" fill="#06cc7b"/>
<rect x="799" y="781" width="13" height="13" fill="#09cc75"/>
<rect x="811" y="781" width="13" height="13" fill="#0ccf72"/>
<rect x="823" y="781" width="13" height="13" fill="#12cf6c"/>
<rect x="835" y="781" width="13" height="13" fill="#1bcf66"/>
<rect x="847" y="781" width="13" height="13" fill="#24d263"/>
<rect x="859" y="781" width="13" height="13" fill="#30d260"/>
<rect x="871" y="781" width="13" height="13" fill="#36d260"/>
<rect x="883" y="781" width="13" height="13" fill="#36d25d"/>
<rect x="895" y="781" width="13" height="13" fill="#24d263"/>
<rect x="907" y="781" width="13" height="13" fill="#1ed26c"/>
<rect x="919" y="781" width="13" height="13" fill="#18cf6f"/>
<rect x="931" y="781" width="13" height="13" fill="#1bcf6f"/>
<rect x="943" y="781" width="13" height="13" fill="#1ed26c"/>
<rect x="955" y="781" width="25" height="13" fill="#24d26c"/>
<rect x="979" y="781" width="13" height="13" fill="#27d26f"/>
<rect x="991" y="781" width="13" height="13" fill="#2ad272"/>
<rect x="1003" y="781" width="13" height="13" fill="#2dd272"/>
<rect x="1015" y="781" width="13" height="13" fill="#30d572"/>
<rect x="1027" y="781" width="25" height="13" fill="#30d575"/>
<rect x="1051" y="781" width="13" height="13" fill="#2dd575"/>
<rect x="1063" y="781" width="13" height="13" fill="#2dd572"/>
<rect x="1075" y="781" width="13" height="13" fill="#2dd272"/>
<rect x="1087" y="781" width="13" height="13" fill="#2ad275"/>
<rect x="1099" y="781" width="13" height="13" fill="#27d278"/>
<rect x="1111" y="781" width="13" height="13" fill="#24d278"/>
<rect x="1123" y="781" width="13" height="13" fill="#1ed27b"/>
<rect x="1135" y="781" width="13" height="13" fill="#1bd27b"/>
<rect x="1147" y="781" width="13" height="13" fill="#15cf7b"/>
<rect x="1159" y="781" width="13" height="13" fill="#12cf7e"/>
<rect x="1171" y="781" width="13" height="13" fill="#0fcc81"/>
<rect x="1183" y="781" width="13" height="13" fill="#0ccc87"/>
<rect x="1195" y="781" width="13" height="13" fill="#09cc8d"/>
<rect x="1207" y="781" width="13" height="13" fill="#09c990"/>
<rect x="1219" y="781" width="25" height="13" fill="#06c990"/>
<rect x="1243" y="781" width="13" height="13" fill="#06c993"/>
<rect x="1255" y="781" width="13" height="13" fill="#06c996"/>
<rect x="1267" y="781" width="13" height="13" fill="#06c699"/>
<rect x="1279" y="781" width="13" height="13" fill="#06c69c"/>
<rect x="1291" y="781" width="13" height="13" fill="#06c6a2"/>
<rect x="1303" y="781" width="13" height="13" fill="#06c3a5"/>
<rect x="1315" y="781" width="13" height="13" fill="#06c3a8"/>
<rect x="1327" y="781" width="13" height="13" fill="#06c3ab"/>
<rect x="1339" y="781" width="13" height="13" fill="#06c3ae"/>
<rect x="547" y="793" width="13" height="13" fill="#06abe4"/>
<rect x="559" y="793" width="25" height="13" fill="#06aede"/>
<rect x="583" y="793" width="25" height="13" fill="#06b1db"/>
<rect x="607" y="793" width="13" height="13" fill="#06b4d5"/>
<rect x="619" y="793" width="13" height="13" fill="#06b7cf"/>
<rect x="631" y="793" width="13" height="13" fill="#06bac9"/>
<rect x="643" y="793" width="13" height="13" fill="#06bdc3"/>
<rect x="655" y="793" width="13" height="13" fill="#06c0bd"/>
<rect x="667" y="793" width="13" height="13" fill="#06c0b7"/>
<rect x="679" y="793" width="13" height="13" fill="#06c0b4"/>
<rect x="691" y="793" width="13" height="13" fill="#06c3b1"/>
<rect x="703" y="793" width="13" height="13" fill="#06c3ab"/>
<rect x="715" y="793" width="13" height="13" fill="#06c3a5"/>
<rect x="727" y="793" width="13" height="13" fill="#06c6a2"/>
<rect x="739" y="793" width="13" height="13" fill="#06c69f"/>
<rect x="751" y="793" width="13" height="13" fill="#06c699"/>
<rect x="763" y="793" width="13" height="13" fill="#06c990"/>
<rect x="775" y="793" width="13" height="13" fill="#06c987"/>
<rect x="787" y="793" width="13" height="13" fill="#06cc81"/>
<rect x="799" y="793" width="13" height="13" fill="#09cc7b"/>
<rect x="811" y="793" width="13" height="13" fill="#0ccc75"/>
<rect x="823" y="793" width="13" height="13" fill="#0fcf72"/>
<rect x="835" y="793" width="13" height="13" fill="#15cf6f"/>
<rect x="847" y="793" width="13" height="13" fill="#1ecf6c"/>
<rect x="859" y="793" width="13" height="13" fill="#21d269"/>
<rect x="871" y="793" width="25" height="13" fill="#24d266"/>
<rect x="895" y="793" width="13" height="13" fill="#1bcf6c"/>
<rect x="907" y="793" width="13" height="13" fill="#15cf75"/>
<rect x="919" y="793" width="25" height="13" fill="#12cf78"/>
<rect x="943" y="793" width="13" height="13" fill="#15cf78"/>
<rect x="955" y="793" width="13" height="13" fill="#15cf75"/>
<rect x="967" y="793" width="13" height="13" fill="#18d278"/>
<rect x="979" y="793" width="13" height="13" fill="#1bd27b"/>
<rect x="991" y="793" width="25" height="13" fill="#1ed27b"/>
<rect x="1015" y="793" width="13" height="13" fill="#21d27b"/>
<rect x="1027" y="793" width="61" height="13" fill="#21d27e"/>
<rect x="1087" y="793" width="25" height="13" fill="#21d281"/>
<rect x="1111" y="793" width="13" height="13" fill="#21d284"/>
<rect x="1123" y="793" width="13" height="13" fill="#21d287"/>
<rect x="1135" y="793" width="13" height="13" fill="#1bcf87"/>
<rect x="1147" y="793" width="13" height="13" fill="#15cf87"/>
<rect x="1159" y="793" width="13" height="13" fill="#12cc8a"/>
<rect x="1171" y="793" width="13" height="13" fill="#0ccc90"/>
<rect x="1183" y="793" width="13" height="13" fill="#0cc993"/>
<rect x="1195" y="793" width="13" height="13" fill="#09c999"/>
<rect x="1207" y="793" width="13" height="13" fill="#09c69c"/>
<rect x="1219" y="793" width="37" height="13" fill="#06c69c"/>
<rect x="1255" y="793" width="13" height="13" fill="#06c69f"/>
<rect x="1267" y="793" width="13" height="13" fill="#06c6a2"/>
<rect x="1279" y="793" width="13" height="13" fill="#06c3a5"/>
<rect x="1291" y="793" width="13" height="13" fill="#06c3a8"/>
<rect x="1303" y="793" width="13" height="13" fill="#06c3ab"/>
<rect x="1315" y="793" width="13" height="13" fill="#06c3ae"/>
<rect x="1327" y="793" width="13" height="13" fill="#06c0b1"/>
<rect x="1339" y="793" width="13" height="13" fill="#06c0b4"/>
<rect x="1351" y="793" width="13" height="13" fill="#06c0ba"/>
<rect x="559" y="805" width="13" height="13" fill="#06a8e7"/>
<rect x="571" y="805" width="13" height="13" fill="#06abe4"/>
<rect x="583" y="805" width="13" height="13" fill="#06abe1"/>
<rect x="595" y="805" width="13" height="13" fill="#06aee1"/>
<rect x="607" y="805" width="13" height="13" fill="#06b1db"/>
<rect x="619" y="805" width="13" height="13" fill="#06b4d5"/>
<rect x="631" y="805" width="13" height="13" fill="#06b7cf"/>
<rect x="643" y="805" width="13" height="13" fill="#06bac9"/>
<rect x="655" y="805" width="13" height="13" fill="#06bdc3"/>
<rect x="667" y="805" width="13" height="13" fill="#06bdbd"/>
<rect x="679" y="805" width="13" height="13" fill="#06c0b7"/>
<rect x="691" y="805" width="13" height="13" fill="#06c0b4"/>
<rect x="703" y="805" width="13" height="13" fill="#06c3b1"/>
<rect x="715" y="805" width="13" height="13" fill="#06c3ab"/>
<rect x="727" y="805" width="13" height="13" fill="#06c3a8"/>
<rect x="739" y="805" width="13" height="13" fill="#06c3a5"/>
<rect x="751" y="805" width="13" height="13" fill="#06c6a2"/>
<rect x="763" y="805" width="13" height="13" fill="#06c996"/>
<rect x="775" y="805" width="13" height="13" fill="#06c98d"/>
<rect x="787" y="805" width="13" height="13" fill="#06c984"/>
<rect x="799" y="805" width="13" height="13" fill="#09cc7e"/>
<rect x="811" y="805" width="13" height="13" fill="#09cc7b"/>
<rect x="823" y="805" width="13" height="13" fill="#0ccf78"/>
<rect x="835" y="805" width="13" height="13" fill="#12cf75"/>
<rect x="847" y="805" width="13" height="13" fill="#15cf72"/>
<rect x="859" y="805" width="13" height="13" fill="#18cf72"/>
<rect x="871" y="805" width="13" height="13" fill="#1bcf6f"/>
<rect x="883" y="805" width="13" height="13" fill="#18cf72"/>
<rect x="895" y="805" width="13" height="13" fill="#12cf75"/>
<rect x="907" y="805" width="13" height="13" fill="#12cf7b"/>
<rect x="919" y="805" width="13" height="13" fill="#0fcf81"/>
<rect x="931" y="805" width="13" height="13" fill="#0fcc81"/>
<rect x="943" y="805" width="13" height="13" fill="#12cf7e"/>
<rect x="955" y="805" width="13" height="13" fill="#12cf81"/>
<rect x="967" y="805" width="25" height="13" fill="#15cf81"/>
<rect x="991" y="805" width="13" height="13" fill="#18cf81"/>
<rect x="1003" y="805" width="25" height="13" fill="#18cf84"/>
<rect x="1027" y="805" width="49" height="13" fill="#1bcf84"/>
<rect x="1075" y="805" width="13" height="13" fill="#1bcf8a"/>
<rect x="1087" y="805" width="13" height="13" fill="#1ecf8a"/>
<rect x="1099" y="805" width="13" height="13" fill="#21d28d"/>
<rect x="1111" y="805" width="13" height="13" fill="#24d290"/>
<rect x="1123" y="805" width="13" height="13" fill="#21cf93"/>
<rect x="1135" y="805" width="13" height="13" fill="#1ecf93"/>
<rect x="1147" y="805" width="13" height="13" fill="#15cc96"/>
<rect x="1159" y="805" width="13" height="13" fill="#0fcc96"/>
<rect x="1171" y="805" width="13" height="13" fill="#0cc99c"/>
<rect x="1183" y="805" width="13" height="13" fill="#09c69f"/>
<rect x="1195" y="805" width="13" height="13" fill="#09c6a2"/>
<rect x="1207" y="805" width="49" height="13" fill="#06c6a5"/>
<rect x="1255" y="805" width="13" height="13" fill="#06c3a5"/>
<rect x="1267" y="805" width="13" height="13" fill="#06c3ab"/>
<rect x="1279" y="805" width="13" height="13" fill="#06c3ae"/>
<rect x="1291" y="805" width="13" height="13" fill="#06c3b1"/>
<rect x="1303" y="805" width="13" height="13" fill="#06c0b4"/>
<rect x="1315" y="805" width="13" height="13" fill="#06c0b7"/>
<rect x="1327" y="805" width="13" height="13" fill="#06c0ba"/>
<rect x="1339" y="805" width="13" height="13" fill="#06c0bd"/>
<rect x="1351" y="805" width="13" height="13" fill="#06bdc0"/>
<rect x="1363" y="805" width="13" height="13" fill="#06bdc3"/>
<rect x="583" y="817" width="13" height="13" fill="#06a8e7"/>
<rect x="595" y="817" width="13" height="13" fill="#06abe4"/>
<rect x="607" y="817" width="13" height="13" fill="#06abe1"/>
<rect x="619" y="817" width="13" height="13" fill="#06aedb"/>
<rect x="631" y="817" width="13" height="13" fill="#06b4d8"/>
<rect x="643" y="817" width="13" height="13" fill="#06b4d2"/>
<rect x="655" y="817" width="13" height="13" fill="#06b7cc"/>
<rect x="667" y="817" width="13" height="13" fill="#06bac6"/>
<rect x="679" y="817" width="13" height="13" fill="#06bdc0"/>
<rect x="691" y="817" width="13" height="13" fill="#06c0bd"/>
<rect x="703" y="817" width="13" height="13" fill="#06c0b7"/>
<rect x="715" y="817" width="13" height="13" fill="#06c0b1"/>
<rect x="727" y="817" width="13" height="13" fill="#06c3ae"/>
<rect x="739" y="817" width="13" height="13" fill="#06c3ab"/>
<rect x="751" y="817" width="13" height="13" fill="#06c6a5"/>
<rect x="763" y="817" width="13" height="13" fill="#06c69c"/>
<rect x="775" y="817" width="13" height="13" fill="#06c993"/>
<rect x="787" y="817" width="13" height="13" fill="#06c98d"/>
<rect x="799" y="817" width="13" height="13" fill="#06cc84"/>
<rect x="811" y="817" width="13" height="13" fill="#09cc81"/>
<rect x="823" y="817" width="13" height="13" fill="#0ccc7b"/>
<rect x="835" y="817" width="13" height="13" fill="#0fcf7b"/>
<rect x="847" y="817" width="13" height="13" fill="#0fcf78"/>
<rect x="859" y="817" width="37" height="13" fill="#12cf78"/>
<rect x="895" y="817" width="13" height="13" fill="#0fcf7b"/>
<rect x="907" y="817" width="13" height="13" fill="#0fcc84"/>
<rect x="919" y="817" width="13" height="13" fill="#0ccc87"/>
<rect x="931" y="817" width="25" height="13" fill="#0ccc8a"/>
<rect x="955" y="817" width="37" height="13" fill="#0fcc8a"/>
<rect x="991" y="817" width="13" height="13" fill="#12cc8a"/>
<rect x="1003" y="817" width="25" height="13" fill="#12cc8d"/>
<rect x="1027" y="817" width="13" height="13" fill="#15cc8d"/>
<rect x="1039" y="817" width="13" height="13" fill="#15cc8a"/>
<rect x="1051" y="817" width="25" height="13" fill="#15cc8d"/>
<rect x="1075" y="817" width="13" height="13" fill="#18cf90"/>
<rect x="1087" y="817" width="13" height="13" fill="#1bcf93"/>
<rect x="1099" y="817" width="13" height="13" fill="#1ecf99"/>
<rect x="1111" y="817" width="13" height="13" fill="#21cf9c"/>
<rect x="1123" y="817" width="13" height="13" fill="#21cf9f"/>
<rect x="1135" y="817" width="13" height="13" fill="#1ecc9f"/>
<rect x="1147" y="817" width="13" height="13" fill="#15cc9f"/>
<rect x="1159" y="817" width="13" height="13" fill="#0fc9a2"/>
<rect x="1171" y="817" width="13" height="13" fill="#0cc6a5"/>
<rect x="1183" y="817" width="13" height="13" fill="#09c6a8"/>
<rect x="1195" y="817" width="13" height="13" fill="#06c3ab"/>
<rect x="1207" y="817" width="25" height="13" fill="#06c3ae"/>
<rect x="1231" y="817" width="25" height="13" fill="#06c3ab"/>
<rect x="1255" y="817" width="13" height="13" fill="#06c3ae"/>
<rect x="1267" y="817" width="13" height="13" fill="#06c0b1"/>
<rect x="1279" y="817" width="13" height="13" fill="#06c0b4"/>
<rect x="1291" y="817" width="13" height="13" fill="#06c0b7"/>
<rect x="1303" y="817" width="13" height="13" fill="#06c0ba"/>
<rect x="1315" y="817" width="13" height="13" fill="#06bdbd"/>
<rect x="1327" y="817" width="13" height="13" fill="#06bdc0"/>
<rect x="1339" y="817" width="13" height="13" fill="#06bdc3"/>
<rect x="1351" y="817" width="13" height="13" fill="#06bac6"/>
<rect x="1363" y="817" width="13" height="13" fill="#06bac9"/>
<rect x="1375" y="817" width="13" height="13" fill="#06b7cc"/>
<rect x="595" y="829" width="13" height="13" fill="#09a5ea"/>
<rect x="607" y="829" width="13" height="13" fill="#06a8e7"/>
<rect x="619" y="829" width="13" height="13" fill="#06abe4"/>
<rect x="631" y="829" width="13" height="13" fill="#06aede"/>
<rect x="643" y="829" width="13" height="13" fill="#06b1db"/>
<rect x="655" y="829" width="13" height="13" fill="#06b4d5"/>
<rect x="667" y="829" width="13" height="13" fill="#06b7cf"/>
<rect x="679" y="829" width="13" height="13" fill="#06bac9"/>
<rect x="691" y="829" width="13" height="13" fill="#06bdc6"/>
<rect x="703" y="829" width="13" height="13" fill="#06bdc0"/>
<rect x="715" y="829" width="13" height="13" fill="#06c0ba"/>
<rect x="727" y="829" width="13" height="13" fill="#06c0b7"/>
<rect x="739" y="829" width="13" height="13" fill="#06c0b1"/>
<rect x="751" y="829" width="13" height="13" fill="#06c3a8"/>
<rect x="763" y="829" width="13" height="13" fill="#06c69f"/>
<rect x="775" y="829" width="13" height="13" fill="#06c69c"/>
<rect x="787" y="829" width="13" height="13" fill="#06c993"/>
<rect x="799" y="829" width="13" height="13" fill="#06c98d"/>
<rect x="811" y="829" width="13" height="13" fill="#09c987"/>
<rect x="823" y="829" width="13" height="13" fill="#09cc84"/>
<rect x="835" y="829" width="25" height="13" fill="#0ccc81"/>
<rect x="859" y="829" width="25" height="13" fill="#0fcc7e"/>
<rect x="883" y="829" width="13" height="13" fill="#0ccc7e"/>
<rect x="895" y="829" width="13" height="13" fill="#0ccc81"/>
<rect x="907" y="829" width="13" height="13" fill="#0ccc8d"/>
<rect x="919" y="829" width="13" height="13" fill="#0cc993"/>
<rect x="931" y="829" width="25" height="13" fill="#09c993"/>
<rect x="955" y="829" width="37" height="13" fill="#0cc993"/>
<rect x="991" y="829" width="13" height="13" fill="#0ccc93"/>
<rect x="1003" y="829" width="13" height="13" fill="#0fcc93"/>
<rect x="1015" y="829" width="13" height="13" fill="#0fcc96"/>
<rect x="1027" y="829" width="37" height="13" fill="#0fcc93"/>
<rect x="1063" y="829" width="13" height="13" fill="#0fcc96"/>
<rect x="1075" y="829" width="13" height="13" fill="#12cc99"/>
<rect x="1087" y="829" width="13" height="13" fill="#15cc9c"/>
<rect x="1099" y="829" width="13" height="13" fill="#1bcca2"/>
<rect x="1111" y="829" width="13" height="13" fill="#1ecca5"/>
<rect x="1123" y="829" width="13" height="13" fill="#1ecca8"/>
<rect x="1135" y="829" width="13" height="13" fill="#18c9ab"/>
<rect x="1147" y="829" width="13" height="13" fill="#12c6ab"/>
<rect x="1159" y="829" width="13" height="13" fill="#0cc6ab"/>
<rect x="1171" y="829" width="13" height="13" fill="#09c3ae"/>
<rect x="1183" y="829" width="13" height="13" fill="#09c3b1"/>
<rect x="1195" y="829" width="73" height="13" fill="#06c0b4"/>
<rect x="1267" y="829" width="13" height="13" fill="#06c0b7"/>
<rect x="1279" y="829" width="13" height="13" fill="#06c0bd"/>
<rect x="1291" y="829" width="13" height="13" fill="#06bdc0"/>
<rect x="1303" y="829" width="13" height="13" fill="#06bdc3"/>
<rect x="1315" y="829" width="13" height="13" fill="#06bac6"/>
<rect x="1327" y="829" width="13" height="13" fill="#06bac9"/>
<rect x="1339" y="829" width="13" height="13" fill="#06bacc"/>
<rect x="1351" y="829" width="13" height="13" fill="#06b7cf"/>
<rect x="1363" y="829" width="13" height="13" fill="#06b7d2"/>
<rect x="1375" y="829" width="13" height="13" fill="#06b4d5"/>
<rect x="619" y="841" width="13" height="13" fill="#09a8ea"/>
<rect x="631" y="841" width="13" height="13" fill="#06abe4"/>
<rect x="643" y="841" width="13" height="13" fill="#06abe1"/>
<rect x="655" y="841" width="13" height="13" fill="#06aede"/>
<rect x="667" y="841" width="13" height="13" fill="#06b1d8"/>
<rect x="679" y="841" width="13" height="13" fill="#06b4d2"/>
<rect x="691" y="841" width="13" height="13" fill="#06b7cc"/>
<rect x="703" y="841" width="13" height="13" fill="#06bac9"/>
<rect x="715" y="841" width="13" height="13" fill="#06bac6"/>
<rect x="727" y="841" width="13" height="13" fill="#06bdc3"/>
<rect x="739" y="841" width="13" height="13" fill="#06bdbd"/>
<rect x="751" y="841" width="13" height="13" fill="#06c0b7"/>
<rect x="763" y="841" width="13" height="13" fill="#06c3ae"/>
<rect x="775" y="841" width="13" height="13" fill="#06c3a5"/>
<rect x="787" y="841" width="13" height="13" fill="#06c69f"/>
<rect x="799" y="841" width="13" height="13" fill="#06c699"/>
<rect x="811" y="841" width="13" height="13" fill="#06c993"/>
<rect x="823" y="841" width="13" height="13" fill="#09c990"/>
<rect x="835" y="841" width="13" height="13" fill="#09c98d"/>
<rect x="847" y="841" width="25" height="13" fill="#09cc8a"/>
<rect x="871" y="841" width="13" height="13" fill="#0ccc8a"/>
<rect x="883" y="841" width="13" height="13" fill="#09cc8a"/>
<rect x="895" y="841" width="13" height="13" fill="#09c990"/>
<rect x="907" y="841" width="13" height="13" fill="#09c996"/>
<rect x="919" y="841" width="49" height="13" fill="#09c69c"/>
<rect x="967" y="841" width="49" height="13" fill="#09c99c"/>
<rect x="1015" y="841" width="37" height="13" fill="#0cc99c"/>
<rect x="1051" y="841" width="25" height="13" fill="#0cc99f"/>
<rect x="1075" y="841" width="13" height="13" fill="#0cc9a2"/>
<rect x="1087" y="841" width="13" height="13" fill="#0fc9a5"/>
<rect x="1099" y="841" width="13" height="13" fill="#12c9ab"/>
<rect x="1111" y="841" width="13" height="13" fill="#15c6ae"/>
<rect x="1123" y="841" width="13" height="13" fill="#15c6b1"/>
<rect x="1135" y="841" width="13" height="13" fill="#12c6b1"/>
<rect x="1147" y="841" width="13" height="13" fill="#0fc3b4"/>
<rect x="1159" y="841" width="13" height="13" fill="#0cc3b4"/>
<rect x="1171" y="841" width="13" height="13" fill="#09c0b7"/>
<rect x="1183" y="841" width="13" height="13" fill="#06c0b7"/>
<rect x="1195" y="841" width="61" height="13" fill="#06c0ba"/>
<rect x="1255" y="841" width="13" height="13" fill="#06c0bd"/>
<rect x="1267" y="841" width="13" height="13" fill="#06bdc0"/>
<rect x="1279" y="841" width="13" height="13" fill="#06bdc3"/>
<rect x="1291" y="841" width="13" height="13" fill="#06bac6"/>
<rect x="1303" y="841" width="13" height="13" fill="#06bac9"/>
<rect x="1315" y="841" width="13" height="13" fill="#06b7cc"/>
<rect x="1327" y="841" width="13" height="13" fill="#06b7cf"/>
<rect x="1339" y="841" width="13" height="13" fill="#06b4d2"/>
<rect x="1351" y="841" width="13" height="13" fill="#06b4d5"/>
<rect x="1363" y="841" width="13" height="13" fill="#06b1d8"/>
<rect x="1375" y="841" width="13" height="13" fill="#06b1db"/>
<rect x="1387" y="841" width="13" height="13" fill="#06aedb"/>
<rect x="643" y="853" width="13" height="13" fill="#06a8e7"/>
<rect x="655" y="853" width="13" height="13" fill="#06abe1"/>
<rect x="667" y="853" width="13" height="13" fill="#06aede"/>
<rect x="679" y="853" width="13" height="13" fill="#06b1d8"/>
<rect x="691" y="853" width="13" height="13" fill="#06b4d5"/>
<rect x="703" y="853" width="25" height="13" fill="#06b4d2"/>
<rect x="727" y="853" width="13" height="13" fill="#06b7cc"/>
<rect x="739" y="853" width="13" height="13" fill="#06bac9"/>
<rect x="751" y="853" width="13" height="13" fill="#06bdc3"/>
<rect x="763" y="853" width="13" height="13" fill="#06c0ba"/>
<rect x="775" y="853" width="13" height="13" fill="#06c0b1"/>
<rect x="787" y="853" width="13" height="13" fill="#06c3ab"/>
<rect x="799" y="853" width="13" height="13" fill="#06c6a5"/>
<rect x="811" y="853" width="13" height="13" fill="#06c69f"/>
<rect x="823" y="853" width="13" height="13" fill="#06c69c"/>
<rect x="835" y="853" width="13" height="13" fill="#06c999"/>
<rect x="847" y="853" width="37" height="13" fill="#09c996"/>
<rect x="883" y="853" width="13" height="13" fill="#09c999"/>
<rect x="895" y="853" width="13" height="13" fill="#09c69c"/>
<rect x="907" y="853" width="13" height="13" fill="#06c6a2"/>
<rect x="919" y="853" width="61" height="13" fill="#06c6a5"/>
<rect x="979" y="853" width="73" height="13" fill="#09c6a5"/>
<rect x="1051" y="853" width="25" height="13" fill="#09c6a8"/>
<rect x="1075" y="853" width="13" height="13" fill="#09c3ab"/>
<rect x="1087" y="853" width="13" height="13" fill="#0cc3ae"/>
<rect x="1099" y="853" width="13" height="13" fill="#0cc3b4"/>
<rect x="1111" y="853" width="13" height="13" fill="#0fc3b7"/>
<rect x="1123" y="853" width="13" height="13" fill="#0fc3ba"/>
<rect x="1135" y="853" width="13" height="13" fill="#0cc3ba"/>
<rect x="1147" y="853" width="13" height="13" fill="#0cc0ba"/>
<rect x="1159" y="853" width="13" height="13" fill="#09c0bd"/>
<rect x="1195" y="853" width="25" height="13" fill="#06bdc0"/>
<rect x="1219" y="853" width="49" height="13" fill="#06bdc3"/>
<rect x="1267" y="853" width="13" height="13" fill="#06bdc6"/>
<rect x="1279" y="853" width="13" height="13" fill="#06bac6"/>
<rect x="1291" y="853" width="13" height="13" fill="#06bac9"/>
<rect x="1303" y="853" width="13" height="13" fill="#06b7cf"/>
<rect x="1315" y="853" width="25" height="13" fill="#06b4d2"/>
<rect x="1339" y="853" width="13" height="13" fill="#06b4d5"/>
<rect x="1351" y="853" width="13" height="13" fill="#06b1db"/>
<rect x="1363" y="853" width="13" height="13" fill="#06aede"/>
<rect x="1375" y="853" width="13" height="13" fill="#06aee1"/>
<rect x="1387" y="853" width="13" height="13" fill="#06abe1"/>
<rect x="1399" y="853" width="13" height="13" fill="#06abe4"/>
<rect x="703" y="865" width="13" height="13" fill="#06b1d8"/>
<rect x="715" y="865" width="13" height="13" fill="#06b4d8"/>
<rect x="727" y="865" width="13" height="13" fill="#06b4d2"/>
<rect x="739" y="865" width="13" height="13" fill="#06b7cf"/>
<rect x="751" y="865" width="13" height="13" fill="#06bac9"/>
<rect x="835" y="865" width="13" height="13" fill="#06c6a5"/>
<rect x="847" y="865" width="37" height="13" fill="#06c6a2"/>
<rect x="883" y="865" width="13" height="13" fill="#06c6a5"/>
<rect x="895" y="865" width="13" height="13" fill="#06c3a8"/>
<rect x="907" y="865" width="13" height="13" fill="#06c3ab"/>
<rect x="919" y="865" width="145" height="13" fill="#06c3ae"/>
<rect x="1063" y="865" width="13" height="13" fill="#06c3b1"/>
<rect x="1075" y="865" width="13" height="13" fill="#06c3b4"/>
<rect x="1087" y="865" width="13" height="13" fill="#09c0b7"/>
<rect x="1099" y="865" width="13" height="13" fill="#09c0ba"/>
<rect x="1111" y="865" width="13" height="13" fill="#09c0bd"/>
<rect x="1123" y="865" width="25" height="13" fill="#09c0c0"/>
<rect x="1147" y="865" width="13" height="13" fill="#09bdc3"/>
<rect x="1231" y="865" width="25" height="13" fill="#06bac6"/>
<rect x="1255" y="865" width="25" height="13" fill="#06bac9"/>
<rect x="1279" y="865" width="13" height="13" fill="#06b7cc"/>
<rect x="1291" y="865" width="13" height="13" fill="#06b7cf"/>
<rect x="1303" y="865" width="13" height="13" fill="#06b7d2"/>
<rect x="1315" y="865" width="13" height="13" fill="#06b4d2"/>
<rect x="1327" y="865" width="13" height="13" fill="#06b4d5"/>
<rect x="1339" y="865" width="13" height="13" fill="#06b1d8"/>
<rect x="1351" y="865" width="13" height="13" fill="#06aede"/>
<rect x="1363" y="865" width="13" height="13" fill="#06abe1"/>
<rect x="1375" y="865" width="13" height="13" fill="#06a8e4"/>
<rect x="1387" y="865" width="13" height="13" fill="#06a8e7"/>
<rect x="1399" y="865" width="13" height="13" fill="#09a8ea"/>
<rect x="1411" y="865" width="13" height="13" fill="#09a5ea"/>
<rect x="871" y="877" width="25" height="13" fill="#06c3ae"/>
<rect x="895" y="877" width="13" height="13" fill="#06c3b1"/>
<rect x="907" y="877" width="145" height="13" fill="#06c0b4"/>
<rect x="1051" y="877" width="13" height="13" fill="#06c0b7"/>
<rect x="1063" y="877" width="13" height="13" fill="#06c0ba"/>
<rect x="1099" y="877" width="13" height="13" fill="#06bdc0"/>
<rect x="1111" y="877" width="13" height="13" fill="#06bdc3"/>
<rect x="1123" y="877" width="25" height="13" fill="#06bdc6"/>
<rect x="1291" y="877" width="25" height="13" fill="#06b4d2"/>
<rect x="1315" y="877" width="25" height="13" fill="#06b4d5"/>
<rect x="1339" y="877" width="13" height="13" fill="#06b1d8"/>
<rect x="1351" y="877" width="13" height="13" fill="#06aede"/>
<rect x="1363" y="877" width="13" height="13" fill="#06a8e4"/>
<rect x="1375" y="877" width="13" height="13" fill="#09a5ea"/>
<rect x="1387" y="877" width="13" height="13" fill="#09a5ed"/>
<rect x="1399" y="877" width="13" height="13" fill="#0ca5ed"/>
<rect x="1411" y="877" width="25" height="13" fill="#0ca2f0"/>
<rect x="883" y="889" width="25" height="13" fill="#06c0b7"/>
<rect x="907" y="889" width="121" height="13" fill="#06c0ba"/>
<rect x="1027" y="889" width="25" height="13" fill="#06c0bd"/>
<rect x="1051" y="889" width="13" height="13" fill="#06bdbd"/>
<rect x="1303" y="889" width="13" height="13" fill="#06b4d5"/>
<rect x="1315" y="889" width="13" height="13" fill="#06b4d8"/>
<rect x="1327" y="889" width="13" height="13" fill="#06b1d8"/>
<rect x="1339" y="889" width="13" height="13" fill="#06b1db"/>
<rect x="1351" y="889" width="13" height="13" fill="#06abe4"/>
<rect x="1363" y="889" width="13" height="13" fill="#09a8e7"/>
<rect x="1375" y="889" width="13" height="13" fill="#09a5ed"/>
<rect x="1387" y="889" width="13" height="13" fill="#0ca2f0"/>
<rect x="1399" y="889" width="13" height="13" fill="#0fa2f0"/>
<rect x="1411" y="889" width="13" height="13" fill="#0f9ff3"/>
<rect x="1423" y="889" width="25" height="13" fill="#129ff3"/>
<rect x="907" y="901" width="97" height="13" fill="#06bdc0"/>
<rect x="1003" y="901" width="37" height="13" fill="#06bdc3"/>
<rect x="1315" y="901" width="13" height="13" fill="#06b1db"/>
<rect x="1327" y="901" width="13" height="13" fill="#06aede"/>
<rect x="1339" y="901" width="13" height="13" fill="#06abe1"/>
<rect x="1351" y="901" width="13" height="13" fill="#06a8e7"/>
<rect x="1363" y="901" width="13" height="13" fill="#09a5ed"/>
<rect x="1375" y="901" width="13" height="13" fill="#0ca2f0"/>
<rect x="1387" y="901" width="13" height="13" fill="#0fa2f3"/>
<rect x="1399" y="901" width="13" height="13" fill="#129ff3"/>
<rect x="1411" y="901" width="13" height="13" fill="#129ff6"/>
<rect x="1423" y="901" width="25" height="13" fill="#159cf6"/>
<rect x="1447" y="901" width="13" height="13" fill="#189cf6"/>
<rect x="1459" y="901" width="13" height="13" fill="#1899f9"/>
<rect x="931" y="913" width="37" height="13" fill="#06bdc3"/>
<rect x="967" y="913" width="37" height="13" fill="#06bac6"/>
<rect x="1327" y="913" width="13" height="13" fill="#06abe4"/>
<rect x="1339" y="913" width="13" height="13" fill="#06a8e7"/>
<rect x="1351" y="913" width="13" height="13" fill="#09a5ed"/>
<rect x="1363" y="913" width="13" height="13" fill="#0fa2f0"/>
<rect x="1375" y="913" width="25" height="13" fill="#129ff3"/>
<rect x="1399" y="913" width="13" height="13" fill="#159cf6"/>
<rect x="1411" y="913" width="13" height="13" fill="#189cf6"/>
<rect x="1423" y="913" width="25" height="13" fill="#1899f9"/>
<rect x="1447" y="913" width="25" height="13" fill="#1b96f9"/>
<rect x="1471" y="913" width="13" height="13" fill="#1b93fc"/>
<rect x="931" y="925" width="37" height="13" fill="#06bac9"/>
<rect x="1339" y="925" width="13" height="13" fill="#0ca5ed"/>
<rect x="1351" y="925" width="13" height="13" fill="#0fa2f3"/>
<rect x="1363" y="925" width="13" height="13" fill="#129ff3"/>
<rect x="1375" y="925" width="13" height="13" fill="#159cf6"/>
<rect x="1387" y="925" width="13" height="13" fill="#189cf6"/>
<rect x="1399" y="925" width="13" height="13" fill="#1899f9"/>
<rect x="1411" y="925" width="13" height="13" fill="#1896f9"/>
<rect x="1423" y="925" width="25" height="13" fill="#1b93fc"/>
<rect x="1447" y="925" width="37" height="13" fill="#1b90fc"/>
<rect x="1483" y="925" width="13" height="13" fill="#1b8dff"/>
<rect x="943" y="937" width="13" height="13" fill="#06b7cf"/>
<rect x="1339" y="937" width="13" height="13" fill="#0f9ff3"/>
<rect x="1351" y="937" width="13" height="13" fill="#129ff3"/>
<rect x="1363" y="937" width="13" height="13" fill="#189cf6"/>
<rect x="1375" y="937" width="13" height="13" fill="#1899f9"/>
<rect x="1387" y="937" width="13" height="13" fill="#1b96f9"/>
<rect x="1399" y="937" width="13" height="13" fill="#1b96fc"/>
<rect x="1411" y="937" width="13" height="13" fill="#1b93fc"/>
<rect x="1423" y="937" width="25" height="13" fill="#1b90fc"/>
<rect x="1447" y="937" width="25" height="13" fill="#1e8dff"/>
<rect x="1471" y="937" width="25" height="13" fill="#1e8aff"/>
<rect x="1495" y="937" width="13" height="13" fill="#2187ff"/>
<rect x="1351" y="949" width="13" height="13" fill="#189cf6"/>
<rect x="1363" y="949" width="13" height="13" fill="#1899f9"/>
<rect x="1375" y="949" width="25" height="13" fill="#1b93fc"/>
<rect x="1399" y="949" width="13" height="13" fill="#1b90fc"/>
<rect x="1411" y="949" width="13" height="13" fill="#1b8dfc"/>
<rect x="1423" y="949" width="13" height="13" fill="#1b8dff"/>
<rect x="1435" y="949" width="25" height="13" fill="#1e8aff"/>
<rect x="1459" y="949" width="13" height="13" fill="#218aff"/>
<rect x="1471" y="949" width="25" height="13" fill="#2487ff"/>
<rect x="1495" y="949" width="13" height="13" fill="#2484ff"/>
<rect x="1507" y="949" width="13" height="13" fill="#2481ff"/>
<rect x="1351" y="961" width="13" height="13" fill="#1896f9"/>
<rect x="1363" y="961" width="13" height="13" fill="#1b93fc"/>
<rect x="1375" y="961" width="13" height="13" fill="#1b90fc"/>
<rect x="1387" y="961" width="13" height="13" fill="#1b8dfc"/>
<rect x="1399" y="961" width="13" height="13" fill="#1b8dff"/>
<rect x="1411" y="961" width="25" height="13" fill="#1e8aff"/>
<rect x="1435" y="961" width="13" height="13" fill="#2187ff"/>
<rect x="1447" y="961" width="13" height="13" fill="#2487ff"/>
<rect x="1459" y="961" width="13" height="13" fill="#2a87ff"/>
<rect x="1471" y="961" width="13" height="13" fill="#2d87ff"/>
<rect x="1483" y="961" width="13" height="13" fill="#2d84ff"/>
<rect x="1495" y="961" width="13" height="13" fill="#2a81ff"/>
<rect x="1507" y="961" width="13" height="13" fill="#2a7bff"/>
<rect x="1363" y="973" width="13" height="13" fill="#1b90fc"/>
<rect x="1375" y="973" width="13" height="13" fill="#1b8dff"/>
<rect x="1387" y="973" width="25" height="13" fill="#1e8aff"/>
<rect x="1411" y="973" width="13" height="13" fill="#1e87ff"/>
<rect x="1423" y="973" width="13" height="13" fill="#2184ff"/>
<rect x="1435" y="973" width="13" height="13" fill="#2484ff"/>
<rect x="1447" y="973" width="13" height="13" fill="#2a84ff"/>
<rect x="1459" y="973" width="13" height="13" fill="#3087ff"/>
<rect x="1471" y="973" width="13" height="13" fill="#3687ff"/>
<rect x="1483" y="973" width="13" height="13" fill="#3384ff"/>
<rect x="1495" y="973" width="13" height="13" fill="#307eff"/>
<rect x="1507" y="973" width="13" height="13" fill="#3078ff"/>
<rect x="1519" y="973" width="13" height="13" fill="#3075ff"/>
<rect x="1375" y="985" width="13" height="13" fill="#1e8aff"/>
<rect x="1387" y="985" width="13" height="13" fill="#1e87ff"/>
<rect x="1399" y="985" width="25" height="13" fill="#2184ff"/>
<rect x="1423" y="985" width="13" height="13" fill="#2481ff"/>
<rect x="1435" y="985" width="13" height="13" fill="#2781ff"/>
<rect x="1447" y="985" width="13" height="13" fill="#3081ff"/>
<rect x="1459" y="985" width="13" height="13" fill="#3984ff"/>
<rect x="1471" y="985" width="13" height="13" fill="#3f84ff"/>
<rect x="1483" y="985" width="13" height="13" fill="#3c81ff"/>
<rect x="1495" y="985" width="13" height="13" fill="#367bff"/>
<rect x="1507" y="985" width="13" height="13" fill="#3672ff"/>
<rect x="1519" y="985" width="13" height="13" fill="#366fff"/>
<rect x="1399" y="997" width="13" height="13" fill="#2481ff"/>
<rect x="1411" y="997" width="25" height="13" fill="#277eff"/>
<rect x="1435" y="997" width="13" height="13" fill="#2d7bff"/>
<rect x="1447" y="997" width="13" height="13" fill="#337bff"/>
<rect x="1459" y="997" width="13" height="13" fill="#3f7eff"/>
<rect x="1471" y="997" width="13" height="13" fill="#4581ff"/>
<rect x="1483" y="997" width="13" height="13" fill="#427eff"/>
<rect x="1495" y="997" width="13" height="13" fill="#3f75ff"/>
<rect x="1507" y="997" width="13" height="13" fill="#3c6cff"/>
<rect x="1519" y="997" width="13" height="13" fill="#3c69ff"/>
<rect x="1423" y="1009" width="13" height="13" fill="#2d78ff"/>
<rect x="1435" y="1009" width="13" height="13" fill="#3075ff"/>
<rect x="1447" y="1009" width="13" height="13" fill="#3975ff"/>
<rect x="1459" y="1009" width="13" height="13" fill="#4278ff"/>
<rect x="1471" y="1009" width="13" height="13" fill="#4878ff"/>
<rect x="1483" y="1009" width="13" height="13" fill="#4875ff"/>
<rect x="1495" y="1009" width="13" height="13" fill="#426ffc"/>
<rect x="1507" y="1009" width="25" height="13" fill="#3f69fc"/>
<rect x="1447" y="1021" width="13" height="13" fill="#3c6fff"/>
<rect x="1459" y="1021" width="13" height="13" fill="#426ffc"/>
<rect x="1471" y="1021" width="13" height="13" fill="#4b6ffc"/>
<rect x="1483" y="1021" width="13" height="13" fill="#486cfc"/>
<rect x="1495" y="1021" width="13" height="13" fill="#4569fc"/>
<rect x="1459" y="1033" width="13" height="13" fill="#4269fc"/>
<rect x="1471" y="1033" width="13" height="13" fill="#4869f9"/>
<rect x="1483" y="1033" width="13" height="13" fill="#4569f9"/>
</g></g>
<g clip-path="url(#c_crater)"><g filter="url(#bl)">
<rect x="779" y="385" width="13" height="13" fill="#4ecc3f"/>
<rect x="791" y="385" width="13" height="13" fill="#60cc39"/>
<rect x="803" y="385" width="13" height="13" fill="#69c936"/>
<rect x="815" y="385" width="13" height="13" fill="#72c933"/>
<rect x="827" y="385" width="13" height="13" fill="#75c930"/>
<rect x="839" y="385" width="13" height="13" fill="#78c930"/>
<rect x="851" y="385" width="13" height="13" fill="#7bc930"/>
<rect x="863" y="385" width="13" height="13" fill="#7bc92d"/>
<rect x="875" y="385" width="13" height="13" fill="#7ec92d"/>
<rect x="887" y="385" width="13" height="13" fill="#81c92d"/>
<rect x="743" y="397" width="13" height="13" fill="#09cc5a"/>
<rect x="755" y="397" width="13" height="13" fill="#0fcc51"/>
<rect x="767" y="397" width="13" height="13" fill="#27cc4b"/>
<rect x="779" y="397" width="13" height="13" fill="#48cc42"/>
<rect x="791" y="397" width="13" height="13" fill="#60c939"/>
<rect x="803" y="397" width="13" height="13" fill="#69c936"/>
<rect x="815" y="397" width="13" height="13" fill="#72c933"/>
<rect x="827" y="397" width="13" height="13" fill="#78c930"/>
<rect x="839" y="397" width="13" height="13" fill="#7bc92d"/>
<rect x="851" y="397" width="25" height="13" fill="#7ec92d"/>
<rect x="875" y="397" width="13" height="13" fill="#81c92d"/>
<rect x="887" y="397" width="13" height="13" fill="#84c92a"/>
<rect x="899" y="397" width="13" height="13" fill="#87c92a"/>
<rect x="911" y="397" width="13" height="13" fill="#84c92a"/>
<rect x="923" y="397" width="13" height="13" fill="#7bc930"/>
<rect x="935" y="397" width="13" height="13" fill="#6fc933"/>
<rect x="947" y="397" width="13" height="13" fill="#63c939"/>
<rect x="731" y="409" width="13" height="13" fill="#03cc63"/>
<rect x="743" y="409" width="13" height="13" fill="#06cc60"/>
<rect x="755" y="409" width="13" height="13" fill="#09cc5a"/>
<rect x="767" y="409" width="13" height="13" fill="#0fcc51"/>
<rect x="779" y="409" width="13" height="13" fill="#30cc48"/>
<rect x="791" y="409" width="13" height="13" fill="#4ecc3f"/>
<rect x="803" y="409" width="13" height="13" fill="#5dcc39"/>
<rect x="815" y="409" width="13" height="13" fill="#6cc933"/>
<rect x="827" y="409" width="13" height="13" fill="#78c930"/>
<rect x="839" y="409" width="13" height="13" fill="#7ec92d"/>
<rect x="851" y="409" width="25" height="13" fill="#81c92d"/>
<rect x="875" y="409" width="13" height="13" fill="#84c92d"/>
<rect x="887" y="409" width="25" height="13" fill="#8ac92a"/>
<rect x="911" y="409" width="13" height="13" fill="#87c92a"/>
<rect x="923" y="409" width="13" height="13" fill="#7bc930"/>
<rect x="935" y="409" width="13" height="13" fill="#6cc936"/>
<rect x="947" y="409" width="13" height="13" fill="#5dcc39"/>
<rect x="959" y="409" width="13" height="13" fill="#54cc3f"/>
<rect x="971" y="409" width="13" height="13" fill="#51cc3f"/>
<rect x="731" y="421" width="13" height="13" fill="#00cc69"/>
<rect x="743" y="421" width="13" height="13" fill="#03cc66"/>
<rect x="755" y="421" width="13" height="13" fill="#06cc60"/>
<rect x="767" y="421" width="13" height="13" fill="#09cc5a"/>
<rect x="779" y="421" width="13" height="13" fill="#12cc4e"/>
<rect x="791" y="421" width="13" height="13" fill="#30cc48"/>
<rect x="803" y="421" width="13" height="13" fill="#4bcc42"/>
<rect x="815" y="421" width="13" height="13" fill="#60cc39"/>
<rect x="827" y="421" width="13" height="13" fill="#6fc933"/>
<rect x="839" y="421" width="13" height="13" fill="#7ec92d"/>
<rect x="851" y="421" width="25" height="13" fill="#87c92a"/>
<rect x="875" y="421" width="13" height="13" fill="#8ac92a"/>
<rect x="887" y="421" width="13" height="13" fill="#90c927"/>
<rect x="899" y="421" width="13" height="13" fill="#8dc927"/>
<rect x="911" y="421" width="13" height="13" fill="#84c92a"/>
<rect x="923" y="421" width="13" height="13" fill="#78c930"/>
<rect x="935" y="421" width="13" height="13" fill="#69c936"/>
<rect x="947" y="421" width="13" height="13" fill="#5acc3c"/>
<rect x="959" y="421" width="13" height="13" fill="#4bcc42"/>
<rect x="971" y="421" width="13" height="13" fill="#42cc42"/>
<rect x="983" y="421" width="37" height="13" fill="#5dcc3c"/>
<rect x="1019" y="421" width="13" height="13" fill="#5dcc39"/>
<rect x="755" y="433" width="13" height="13" fill="#03cc63"/>
<rect x="767" y="433" width="13" height="13" fill="#06cc5d"/>
<rect x="779" y="433" width="13" height="13" fill="#0ccc57"/>
<rect x="791" y="433" width="13" height="13" fill="#15cc4e"/>
<rect x="803" y="433" width="13" height="13" fill="#30cc48"/>
<rect x="815" y="433" width="13" height="13" fill="#4ecc42"/>
<rect x="827" y="433" width="13" height="13" fill="#60c939"/>
<rect x="839" y="433" width="13" height="13" fill="#75c933"/>
<rect x="851" y="433" width="13" height="13" fill="#81c92d"/>
<rect x="863" y="433" width="13" height="13" fill="#84c92a"/>
<rect x="875" y="433" width="13" height="13" fill="#8ac92a"/>
<rect x="887" y="433" width="13" height="13" fill="#8dc927"/>
<rect x="899" y="433" width="13" height="13" fill="#8ac92a"/>
<rect x="911" y="433" width="13" height="13" fill="#84c92d"/>
<rect x="923" y="433" width="13" height="13" fill="#78c930"/>
<rect x="935" y="433" width="13" height="13" fill="#69c936"/>
<rect x="947" y="433" width="13" height="13" fill="#5dcc3c"/>
<rect x="959" y="433" width="25" height="13" fill="#51cc3f"/>
<rect x="779" y="445" width="13" height="13" fill="#09cc5a"/>
<rect x="791" y="445" width="13" height="13" fill="#0ccc54"/>
<rect x="803" y="445" width="13" height="13" fill="#1ecc4e"/>
<rect x="815" y="445" width="13" height="13" fill="#3ccc45"/>
<rect x="827" y="445" width="13" height="13" fill="#57cc3f"/>
<rect x="839" y="445" width="13" height="13" fill="#69c936"/>
<rect x="851" y="445" width="13" height="13" fill="#78c930"/>
<rect x="863" y="445" width="13" height="13" fill="#7ec92d"/>
<rect x="875" y="445" width="25" height="13" fill="#84c92a"/>
<rect x="899" y="445" width="13" height="13" fill="#84c92d"/>
<rect x="911" y="445" width="13" height="13" fill="#7ec92d"/>
<rect x="923" y="445" width="13" height="13" fill="#75c930"/>
<rect x="935" y="445" width="13" height="13" fill="#6cc936"/>
<rect x="947" y="445" width="13" height="13" fill="#60c939"/>
<rect x="815" y="457" width="13" height="13" fill="#33cc48"/>
<rect x="827" y="457" width="13" height="13" fill="#4ecc3f"/>
<rect x="839" y="457" width="13" height="13" fill="#60c939"/>
<rect x="851" y="457" width="13" height="13" fill="#6fc933"/>
</g></g>
</g>
</g>
<g id="axes" filter="url(#ba)">
<line x1="262.5" y1="284.0" x2="262.5" y2="975.7" stroke="#1e1e1e" stroke-width="3.3"/>
<line x1="262.5" y1="974.5" x2="948.3" y2="1288.0" stroke="#1e1e1e" stroke-width="3.3" stroke-linecap="square"/>
<line x1="948.3" y1="1288.0" x2="1837.3" y2="1046.8" stroke="#1e1e1e" stroke-width="3.3" stroke-linecap="square"/>
<line x1="262.5" y1="290.0" x2="240.7" y2="280.0" stroke="#1e1e1e" stroke-width="3.3"/>
<line x1="262.5" y1="399.4" x2="240.7" y2="389.4" stroke="#1e1e1e" stroke-width="3.3"/>
<line x1="262.5" y1="508.8" x2="240.7" y2="498.8" stroke="#1e1e1e" stroke-width="3.3"/>
<line x1="262.5" y1="618.1" x2="240.7" y2="608.1" stroke="#1e1e1e" stroke-width="3.3"/>
<line x1="262.5" y1="727.5" x2="240.7" y2="717.5" stroke="#1e1e1e" stroke-width="3.3"/>
<line x1="262.5" y1="836.9" x2="240.7" y2="826.9" stroke="#1e1e1e" stroke-width="3.3"/>
<line x1="262.5" y1="946.2" x2="240.7" y2="936.3" stroke="#1e1e1e" stroke-width="3.3"/>
<line x1="262.5" y1="974.5" x2="239.3" y2="980.8" stroke="#1e1e1e" stroke-width="3.3"/>
<line x1="433.9" y1="1052.9" x2="410.8" y2="1059.2" stroke="#1e1e1e" stroke-width="3.3"/>
<line x1="605.4" y1="1131.2" x2="582.2" y2="1137.5" stroke="#1e1e1e" stroke-width="3.3"/>
<line x1="776.8" y1="1209.6" x2="753.7" y2="1215.9" stroke="#1e1e1e" stroke-width="3.3"/>
<line x1="948.3" y1="1288.0" x2="925.1" y2="1294.3" stroke="#1e1e1e" stroke-width="3.3"/>
<line x1="948.3" y1="1288.0" x2="970.1" y2="1298.0" stroke="#1e1e1e" stroke-width="3.3"/>
<line x1="1170.5" y1="1227.7" x2="1192.4" y2="1237.7" stroke="#1e1e1e" stroke-width="3.3"/>
<line x1="1392.8" y1="1167.4" x2="1414.6" y2="1177.4" stroke="#1e1e1e" stroke-width="3.3"/>
<line x1="1615.0" y1="1107.1" x2="1636.9" y2="1117.1" stroke="#1e1e1e" stroke-width="3.3"/>
<line x1="1837.3" y1="1046.8" x2="1859.1" y2="1056.8" stroke="#1e1e1e" stroke-width="3.3"/>
</g>
<g id="labels" filter="url(#bt)">
<text x="222" y="293.5" text-anchor="end" style="font-family:'Liberation Sans',sans-serif;font-size:49.5px;fill:#404040">0.2</text>
<text x="222" y="402.9" text-anchor="end" style="font-family:'Liberation Sans',sans-serif;font-size:49.5px;fill:#404040">0.15</text>
<text x="222" y="512.3" text-anchor="end" style="font-family:'Liberation Sans',sans-serif;font-size:49.5px;fill:#404040">0.1</text>
<text x="222" y="621.6" text-anchor="end" style="font-family:'Liberation Sans',sans-serif;font-size:49.5px;fill:#404040">0.05</text>
<text x="222" y="731.0" text-anchor="end" style="font-family:'Liberation Sans',sans-serif;font-size:49.5px;fill:#404040">0</text>
<text x="222" y="840.4" text-anchor="end" style="font-family:'Liberation Sans',sans-serif;font-size:49.5px;fill:#404040">-0.05</text>
<text x="222" y="949.8" text-anchor="end" style="font-family:'Liberation Sans',sans-serif;font-size:49.5px;fill:#404040">-0.1</text>
<text x="219.5" y="1035.5" text-anchor="end" style="font-family:'Liberation Sans',sans-serif;font-size:49.5px;fill:#404040">1</text>
<text x="390.9" y="1113.9" text-anchor="end" style="font-family:'Liberation Sans',sans-serif;font-size:49.5px;fill:#404040">0.5</text>
<text x="562.4" y="1192.2" text-anchor="end" style="font-family:'Liberation Sans',sans-serif;font-size:49.5px;fill:#404040">0</text>
<text x="733.8" y="1270.6" text-anchor="end" style="font-family:'Liberation Sans',sans-serif;font-size:49.5px;fill:#404040">-0.5</text>
<text x="905.3" y="1349.0" text-anchor="end" style="font-family:'Liberation Sans',sans-serif;font-size:49.5px;fill:#404040">-1</text>
<text x="984.3" y="1357.0" text-anchor="start" style="font-family:'Liberation Sans',sans-serif;font-size:49.5px;fill:#404040">-1</text>
<text x="1206.5" y="1296.7" text-anchor="start" style="font-family:'Liberation Sans',sans-serif;font-size:49.5px;fill:#404040">-0.5</text>
<text x="1428.8" y="1236.4" text-anchor="start" style="font-family:'Liberation Sans',sans-serif;font-size:49.5px;fill:#404040">0</text>
<text x="1651.0" y="1176.1" text-anchor="start" style="font-family:'Liberation Sans',sans-serif;font-size:49.5px;fill:#404040">0.5</text>
<text x="1873.3" y="1115.8" text-anchor="start" style="font-family:'Liberation Sans',sans-serif;font-size:49.5px;fill:#404040">1</text>
<text x="554" y="1350.5" text-anchor="middle" style="font-family:'Liberation Sans',sans-serif;font-size:53.5px;fill:#404040">y(m)</text>
<text x="1386" y="1368.5" text-anchor="middle" style="font-family:'Liberation Sans',sans-serif;font-size:53.5px;fill:#404040">x(m)</text>
<text transform="translate(76,630) rotate(-90)" text-anchor="middle" style="font-family:'Liberation Sans',sans-serif;font-size:53.5px;fill:#404040">z(m)</text>
</g>
</svg>
</body></html>
